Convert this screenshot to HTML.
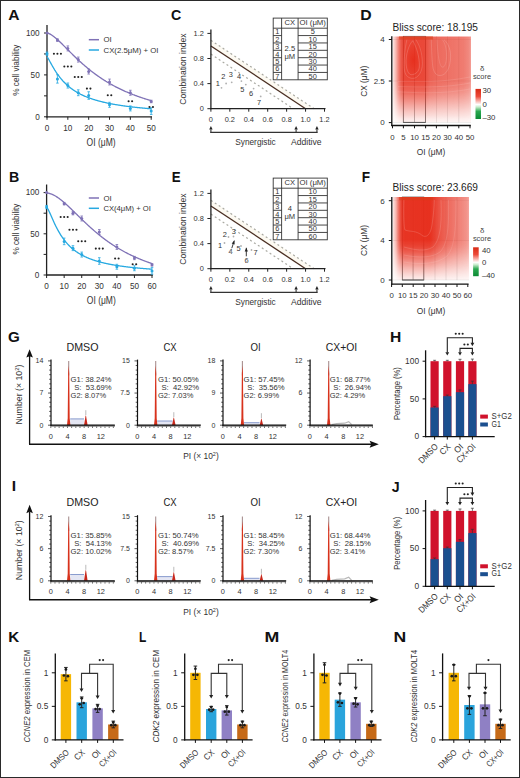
<!DOCTYPE html>
<html><head><meta charset="utf-8"><style>
html,body{margin:0;padding:0;background:#fff;}
svg{display:block;}
text{font-family:"Liberation Sans",sans-serif;}
</style></head><body>
<svg width="520" height="778" viewBox="0 0 520 778">
<rect x="0" y="0" width="520" height="778" fill="#fff"/>
<text x="8.21" y="19.80" font-size="14.2" text-anchor="start" font-weight="bold" fill="#111" textLength="11.28" lengthAdjust="spacingAndGlyphs">A</text>
<line x1="47.00" y1="25.00" x2="47.00" y2="117.40" stroke="#222" stroke-width="1.3"/>
<line x1="46.40" y1="116.80" x2="152.00" y2="116.80" stroke="#222" stroke-width="1.3"/>
<line x1="44.00" y1="116.80" x2="47.00" y2="116.80" stroke="#222" stroke-width="1"/>
<line x1="44.00" y1="95.85" x2="47.00" y2="95.85" stroke="#222" stroke-width="1"/>
<line x1="44.00" y1="74.90" x2="47.00" y2="74.90" stroke="#222" stroke-width="1"/>
<line x1="44.00" y1="53.95" x2="47.00" y2="53.95" stroke="#222" stroke-width="1"/>
<line x1="44.00" y1="33.00" x2="47.00" y2="33.00" stroke="#222" stroke-width="1"/>
<text x="39.70" y="119.65" font-size="8.2" text-anchor="end" fill="#333">0</text>
<text x="39.70" y="77.75" font-size="8.2" text-anchor="end" fill="#333">50</text>
<text x="39.70" y="35.85" font-size="8.2" text-anchor="end" fill="#333">100</text>
<line x1="47.00" y1="116.80" x2="47.00" y2="119.80" stroke="#222" stroke-width="1"/>
<text x="47.00" y="130.80" font-size="8.2" text-anchor="middle" fill="#333">0</text>
<line x1="67.84" y1="116.80" x2="67.84" y2="119.80" stroke="#222" stroke-width="1"/>
<text x="67.84" y="130.80" font-size="8.2" text-anchor="middle" fill="#333">10</text>
<line x1="88.68" y1="116.80" x2="88.68" y2="119.80" stroke="#222" stroke-width="1"/>
<text x="88.68" y="130.80" font-size="8.2" text-anchor="middle" fill="#333">20</text>
<line x1="109.52" y1="116.80" x2="109.52" y2="119.80" stroke="#222" stroke-width="1"/>
<text x="109.52" y="130.80" font-size="8.2" text-anchor="middle" fill="#333">30</text>
<line x1="130.36" y1="116.80" x2="130.36" y2="119.80" stroke="#222" stroke-width="1"/>
<text x="130.36" y="130.80" font-size="8.2" text-anchor="middle" fill="#333">40</text>
<line x1="151.20" y1="116.80" x2="151.20" y2="119.80" stroke="#222" stroke-width="1"/>
<text x="151.20" y="130.80" font-size="8.2" text-anchor="middle" fill="#333">50</text>
<text x="101.10" y="145.70" font-size="10" text-anchor="middle" fill="#333" textLength="29" lengthAdjust="spacingAndGlyphs">OI (μM)</text>
<text x="19.40" y="70.20" font-size="8.9" text-anchor="middle" fill="#333" textLength="51" lengthAdjust="spacingAndGlyphs" transform="rotate(-90 19.40 70.20)">% cell viability</text>
<polyline points="47.00,32.96 47.52,33.04 48.04,33.18 48.56,33.37 49.08,33.59 49.60,33.84 50.13,34.12 50.65,34.42 51.17,34.74 51.69,35.07 52.21,35.43 52.73,35.80 53.25,36.18 53.77,36.58 54.29,36.99 54.81,37.41 55.34,37.84 55.86,38.28 56.38,38.72 56.90,39.18 57.42,39.64 57.94,40.12 58.46,40.59 58.98,41.08 59.50,41.56 60.02,42.06 60.55,42.55 61.07,43.06 61.59,43.56 62.11,44.07 62.63,44.58 63.15,45.09 63.67,45.61 64.19,46.12 64.71,46.64 65.23,47.16 65.76,47.68 66.28,48.20 66.80,48.72 67.32,49.24 67.84,49.77 68.36,50.29 68.88,50.81 69.40,51.33 69.92,51.85 70.44,52.36 70.97,52.88 71.49,53.40 72.01,53.91 72.53,54.42 73.05,54.93 73.57,55.44 74.09,55.95 74.61,56.45 75.13,56.95 75.66,57.45 76.18,57.95 76.70,58.45 77.22,58.94 77.74,59.43 78.26,59.92 78.78,60.40 79.30,60.88 79.82,61.36 80.34,61.84 80.86,62.31 81.39,62.78 81.91,63.25 82.43,63.71 82.95,64.17 83.47,64.63 83.99,65.08 84.51,65.54 85.03,65.98 85.55,66.43 86.07,66.87 86.60,67.31 87.12,67.74 87.64,68.17 88.16,68.60 88.68,69.03 89.20,69.45 89.72,69.87 90.24,70.28 90.76,70.70 91.28,71.10 91.81,71.51 92.33,71.91 92.85,72.31 93.37,72.70 93.89,73.10 94.41,73.49 94.93,73.87 95.45,74.25 95.97,74.63 96.49,75.01 97.02,75.38 97.54,75.75 98.06,76.12 98.58,76.48 99.10,76.84 99.62,77.20 100.14,77.55 100.66,77.90 101.18,78.25 101.70,78.59 102.23,78.94 102.75,79.27 103.27,79.61 103.79,79.94 104.31,80.27 104.83,80.60 105.35,80.92 105.87,81.25 106.39,81.56 106.91,81.88 107.44,82.19 107.96,82.50 108.48,82.81 109.00,83.11 109.52,83.41 110.04,83.71 110.56,84.01 111.08,84.30 111.60,84.59 112.12,84.88 112.65,85.17 113.17,85.45 113.69,85.73 114.21,86.01 114.73,86.29 115.25,86.56 115.77,86.83 116.29,87.10 116.81,87.37 117.33,87.63 117.86,87.89 118.38,88.15 118.90,88.41 119.42,88.66 119.94,88.91 120.46,89.16 120.98,89.41 121.50,89.66 122.02,89.90 122.54,90.14 123.07,90.38 123.59,90.62 124.11,90.85 124.63,91.08 125.15,91.32 125.67,91.54 126.19,91.77 126.71,92.00 127.23,92.22 127.75,92.44 128.28,92.66 128.80,92.88 129.32,93.09 129.84,93.30 130.36,93.52 130.88,93.73 131.40,93.93 131.92,94.14 132.44,94.34 132.96,94.55 133.49,94.75 134.01,94.95 134.53,95.14 135.05,95.34 135.57,95.53 136.09,95.73 136.61,95.92 137.13,96.10 137.65,96.29 138.17,96.48 138.70,96.66 139.22,96.85 139.74,97.03 140.26,97.21 140.78,97.38 141.30,97.56 141.82,97.74 142.34,97.91 142.86,98.08 143.38,98.25 143.91,98.42 144.43,98.59 144.95,98.76 145.47,98.92 145.99,99.09 146.51,99.25 147.03,99.41 147.55,99.57 148.07,99.73 148.59,99.89 149.12,100.04 149.64,100.20 150.16,100.35 150.68,100.50 151.20,100.66" fill="none" stroke="#7f72b6" stroke-width="1.3"/>
<polyline points="47.00,56.74 47.52,57.39 48.04,58.22 48.56,59.11 49.08,60.04 49.60,60.98 50.13,61.94 50.65,62.89 51.17,63.84 51.69,64.78 52.21,65.70 52.73,66.61 53.25,67.51 53.77,68.39 54.29,69.25 54.81,70.10 55.34,70.92 55.86,71.73 56.38,72.52 56.90,73.29 57.42,74.04 57.94,74.77 58.46,75.49 58.98,76.19 59.50,76.87 60.02,77.53 60.55,78.18 61.07,78.81 61.59,79.43 62.11,80.03 62.63,80.61 63.15,81.19 63.67,81.74 64.19,82.29 64.71,82.82 65.23,83.33 65.76,83.84 66.28,84.33 66.80,84.81 67.32,85.28 67.84,85.74 68.36,86.18 68.88,86.62 69.40,87.04 69.92,87.46 70.44,87.87 70.97,88.26 71.49,88.65 72.01,89.03 72.53,89.40 73.05,89.77 73.57,90.12 74.09,90.47 74.61,90.81 75.13,91.14 75.66,91.46 76.18,91.78 76.70,92.09 77.22,92.40 77.74,92.69 78.26,92.99 78.78,93.27 79.30,93.55 79.82,93.83 80.34,94.09 80.86,94.36 81.39,94.62 81.91,94.87 82.43,95.12 82.95,95.36 83.47,95.60 83.99,95.83 84.51,96.06 85.03,96.29 85.55,96.51 86.07,96.73 86.60,96.94 87.12,97.15 87.64,97.35 88.16,97.56 88.68,97.75 89.20,97.95 89.72,98.14 90.24,98.33 90.76,98.51 91.28,98.69 91.81,98.87 92.33,99.04 92.85,99.22 93.37,99.38 93.89,99.55 94.41,99.71 94.93,99.87 95.45,100.03 95.97,100.19 96.49,100.34 97.02,100.49 97.54,100.64 98.06,100.79 98.58,100.93 99.10,101.07 99.62,101.21 100.14,101.35 100.66,101.48 101.18,101.61 101.70,101.74 102.23,101.87 102.75,102.00 103.27,102.12 103.79,102.25 104.31,102.37 104.83,102.49 105.35,102.60 105.87,102.72 106.39,102.83 106.91,102.95 107.44,103.06 107.96,103.17 108.48,103.28 109.00,103.38 109.52,103.49 110.04,103.59 110.56,103.69 111.08,103.79 111.60,103.89 112.12,103.99 112.65,104.09 113.17,104.18 113.69,104.28 114.21,104.37 114.73,104.46 115.25,104.55 115.77,104.64 116.29,104.73 116.81,104.81 117.33,104.90 117.86,104.98 118.38,105.07 118.90,105.15 119.42,105.23 119.94,105.31 120.46,105.39 120.98,105.47 121.50,105.55 122.02,105.63 122.54,105.70 123.07,105.78 123.59,105.85 124.11,105.92 124.63,105.99 125.15,106.07 125.67,106.14 126.19,106.21 126.71,106.28 127.23,106.34 127.75,106.41 128.28,106.48 128.80,106.54 129.32,106.61 129.84,106.67 130.36,106.74 130.88,106.80 131.40,106.86 131.92,106.92 132.44,106.98 132.96,107.04 133.49,107.10 134.01,107.16 134.53,107.22 135.05,107.28 135.57,107.33 136.09,107.39 136.61,107.44 137.13,107.50 137.65,107.55 138.17,107.61 138.70,107.66 139.22,107.71 139.74,107.77 140.26,107.82 140.78,107.87 141.30,107.92 141.82,107.97 142.34,108.02 142.86,108.07 143.38,108.12 143.91,108.17 144.43,108.21 144.95,108.26 145.47,108.31 145.99,108.35 146.51,108.40 147.03,108.45 147.55,108.49 148.07,108.54 148.59,108.58 149.12,108.62 149.64,108.67 150.16,108.71 150.68,108.75 151.20,108.79" fill="none" stroke="#27a9e1" stroke-width="1.3"/>
<circle cx="47.00" cy="33.00" r="1.5" fill="#7f72b6"/>
<line x1="57.42" y1="38.87" x2="57.42" y2="41.38" stroke="#7f72b6" stroke-width="0.8"/>
<line x1="56.12" y1="38.87" x2="58.72" y2="38.87" stroke="#7f72b6" stroke-width="0.8"/>
<line x1="56.12" y1="41.38" x2="58.72" y2="41.38" stroke="#7f72b6" stroke-width="0.8"/>
<circle cx="57.42" cy="40.12" r="1.5" fill="#7f72b6"/>
<line x1="67.84" y1="45.91" x2="67.84" y2="50.93" stroke="#7f72b6" stroke-width="0.8"/>
<line x1="66.54" y1="45.91" x2="69.14" y2="45.91" stroke="#7f72b6" stroke-width="0.8"/>
<line x1="66.54" y1="50.93" x2="69.14" y2="50.93" stroke="#7f72b6" stroke-width="0.8"/>
<circle cx="67.84" cy="48.42" r="1.5" fill="#7f72b6"/>
<line x1="78.26" y1="57.05" x2="78.26" y2="62.08" stroke="#7f72b6" stroke-width="0.8"/>
<line x1="76.96" y1="57.05" x2="79.56" y2="57.05" stroke="#7f72b6" stroke-width="0.8"/>
<line x1="76.96" y1="62.08" x2="79.56" y2="62.08" stroke="#7f72b6" stroke-width="0.8"/>
<circle cx="78.26" cy="59.56" r="1.5" fill="#7f72b6"/>
<line x1="88.68" y1="69.03" x2="88.68" y2="74.06" stroke="#7f72b6" stroke-width="0.8"/>
<line x1="87.38" y1="69.03" x2="89.98" y2="69.03" stroke="#7f72b6" stroke-width="0.8"/>
<line x1="87.38" y1="74.06" x2="89.98" y2="74.06" stroke="#7f72b6" stroke-width="0.8"/>
<circle cx="88.68" cy="71.55" r="1.5" fill="#7f72b6"/>
<line x1="109.52" y1="79.09" x2="109.52" y2="84.96" stroke="#7f72b6" stroke-width="0.8"/>
<line x1="108.22" y1="79.09" x2="110.82" y2="79.09" stroke="#7f72b6" stroke-width="0.8"/>
<line x1="108.22" y1="84.96" x2="110.82" y2="84.96" stroke="#7f72b6" stroke-width="0.8"/>
<circle cx="109.52" cy="82.02" r="1.5" fill="#7f72b6"/>
<line x1="130.36" y1="90.24" x2="130.36" y2="95.26" stroke="#7f72b6" stroke-width="0.8"/>
<line x1="129.06" y1="90.24" x2="131.66" y2="90.24" stroke="#7f72b6" stroke-width="0.8"/>
<line x1="129.06" y1="95.26" x2="131.66" y2="95.26" stroke="#7f72b6" stroke-width="0.8"/>
<circle cx="130.36" cy="92.75" r="1.5" fill="#7f72b6"/>
<line x1="151.20" y1="100.21" x2="151.20" y2="102.72" stroke="#7f72b6" stroke-width="0.8"/>
<line x1="149.90" y1="100.21" x2="152.50" y2="100.21" stroke="#7f72b6" stroke-width="0.8"/>
<line x1="149.90" y1="102.72" x2="152.50" y2="102.72" stroke="#7f72b6" stroke-width="0.8"/>
<circle cx="151.20" cy="101.46" r="1.5" fill="#7f72b6"/>
<line x1="47.00" y1="52.02" x2="47.00" y2="55.37" stroke="#27a9e1" stroke-width="0.8"/>
<line x1="45.70" y1="52.02" x2="48.30" y2="52.02" stroke="#27a9e1" stroke-width="0.8"/>
<line x1="45.70" y1="55.37" x2="48.30" y2="55.37" stroke="#27a9e1" stroke-width="0.8"/>
<circle cx="47.00" cy="53.70" r="1.5" fill="#27a9e1"/>
<line x1="57.42" y1="74.73" x2="57.42" y2="83.11" stroke="#27a9e1" stroke-width="0.8"/>
<line x1="56.12" y1="74.73" x2="58.72" y2="74.73" stroke="#27a9e1" stroke-width="0.8"/>
<line x1="56.12" y1="83.11" x2="58.72" y2="83.11" stroke="#27a9e1" stroke-width="0.8"/>
<circle cx="57.42" cy="78.92" r="1.5" fill="#27a9e1"/>
<line x1="67.84" y1="83.03" x2="67.84" y2="88.06" stroke="#27a9e1" stroke-width="0.8"/>
<line x1="66.54" y1="83.03" x2="69.14" y2="83.03" stroke="#27a9e1" stroke-width="0.8"/>
<line x1="66.54" y1="88.06" x2="69.14" y2="88.06" stroke="#27a9e1" stroke-width="0.8"/>
<circle cx="67.84" cy="85.54" r="1.5" fill="#27a9e1"/>
<line x1="78.26" y1="89.82" x2="78.26" y2="95.68" stroke="#27a9e1" stroke-width="0.8"/>
<line x1="76.96" y1="89.82" x2="79.56" y2="89.82" stroke="#27a9e1" stroke-width="0.8"/>
<line x1="76.96" y1="95.68" x2="79.56" y2="95.68" stroke="#27a9e1" stroke-width="0.8"/>
<circle cx="78.26" cy="92.75" r="1.5" fill="#27a9e1"/>
<line x1="88.68" y1="91.74" x2="88.68" y2="99.29" stroke="#27a9e1" stroke-width="0.8"/>
<line x1="87.38" y1="91.74" x2="89.98" y2="91.74" stroke="#27a9e1" stroke-width="0.8"/>
<line x1="87.38" y1="99.29" x2="89.98" y2="99.29" stroke="#27a9e1" stroke-width="0.8"/>
<circle cx="88.68" cy="95.51" r="1.5" fill="#27a9e1"/>
<line x1="109.52" y1="102.30" x2="109.52" y2="107.33" stroke="#27a9e1" stroke-width="0.8"/>
<line x1="108.22" y1="102.30" x2="110.82" y2="102.30" stroke="#27a9e1" stroke-width="0.8"/>
<line x1="108.22" y1="107.33" x2="110.82" y2="107.33" stroke="#27a9e1" stroke-width="0.8"/>
<circle cx="109.52" cy="104.82" r="1.5" fill="#27a9e1"/>
<line x1="130.36" y1="105.91" x2="130.36" y2="110.93" stroke="#27a9e1" stroke-width="0.8"/>
<line x1="129.06" y1="105.91" x2="131.66" y2="105.91" stroke="#27a9e1" stroke-width="0.8"/>
<line x1="129.06" y1="110.93" x2="131.66" y2="110.93" stroke="#27a9e1" stroke-width="0.8"/>
<circle cx="130.36" cy="108.42" r="1.5" fill="#27a9e1"/>
<line x1="151.20" y1="107.75" x2="151.20" y2="114.45" stroke="#27a9e1" stroke-width="0.8"/>
<line x1="149.90" y1="107.75" x2="152.50" y2="107.75" stroke="#27a9e1" stroke-width="0.8"/>
<line x1="149.90" y1="114.45" x2="152.50" y2="114.45" stroke="#27a9e1" stroke-width="0.8"/>
<circle cx="151.20" cy="111.10" r="1.5" fill="#27a9e1"/>
<circle cx="53.92" cy="53.80" r="1.05" fill="#222"/>
<circle cx="57.42" cy="53.80" r="1.05" fill="#222"/>
<circle cx="60.92" cy="53.80" r="1.05" fill="#222"/>
<circle cx="64.34" cy="66.50" r="1.05" fill="#222"/>
<circle cx="67.84" cy="66.50" r="1.05" fill="#222"/>
<circle cx="71.34" cy="66.50" r="1.05" fill="#222"/>
<circle cx="74.76" cy="77.00" r="1.05" fill="#222"/>
<circle cx="78.26" cy="77.00" r="1.05" fill="#222"/>
<circle cx="81.76" cy="77.00" r="1.05" fill="#222"/>
<circle cx="86.93" cy="88.60" r="1.05" fill="#222"/>
<circle cx="90.43" cy="88.60" r="1.05" fill="#222"/>
<circle cx="107.77" cy="95.30" r="1.05" fill="#222"/>
<circle cx="111.27" cy="95.30" r="1.05" fill="#222"/>
<circle cx="128.61" cy="101.30" r="1.05" fill="#222"/>
<circle cx="132.11" cy="101.30" r="1.05" fill="#222"/>
<circle cx="149.45" cy="107.00" r="1.05" fill="#222"/>
<circle cx="152.95" cy="107.00" r="1.05" fill="#222"/>
<line x1="88.80" y1="39.70" x2="99.00" y2="39.70" stroke="#7f72b6" stroke-width="1.5"/>
<line x1="88.80" y1="50.00" x2="99.00" y2="50.00" stroke="#27a9e1" stroke-width="1.5"/>
<text x="103.50" y="42.40" font-size="7.8" text-anchor="start" fill="#333">OI</text>
<text x="103.50" y="52.70" font-size="7.8" text-anchor="start" fill="#333" textLength="55" lengthAdjust="spacingAndGlyphs">CX(2.5μM) + OI</text>
<text x="9.06" y="181.90" font-size="14.2" text-anchor="start" font-weight="bold" fill="#111" textLength="10.25" lengthAdjust="spacingAndGlyphs">B</text>
<line x1="46.60" y1="184.50" x2="46.60" y2="275.60" stroke="#222" stroke-width="1.3"/>
<line x1="46.00" y1="275.00" x2="152.80" y2="275.00" stroke="#222" stroke-width="1.3"/>
<line x1="43.60" y1="275.00" x2="46.60" y2="275.00" stroke="#222" stroke-width="1"/>
<line x1="43.60" y1="254.40" x2="46.60" y2="254.40" stroke="#222" stroke-width="1"/>
<line x1="43.60" y1="233.80" x2="46.60" y2="233.80" stroke="#222" stroke-width="1"/>
<line x1="43.60" y1="213.20" x2="46.60" y2="213.20" stroke="#222" stroke-width="1"/>
<line x1="43.60" y1="192.60" x2="46.60" y2="192.60" stroke="#222" stroke-width="1"/>
<text x="39.30" y="277.85" font-size="8.2" text-anchor="end" fill="#333">0</text>
<text x="39.30" y="236.65" font-size="8.2" text-anchor="end" fill="#333">50</text>
<text x="39.30" y="195.45" font-size="8.2" text-anchor="end" fill="#333">100</text>
<line x1="46.60" y1="275.00" x2="46.60" y2="278.00" stroke="#222" stroke-width="1"/>
<text x="46.60" y="289.00" font-size="8.2" text-anchor="middle" fill="#333">0</text>
<line x1="64.17" y1="275.00" x2="64.17" y2="278.00" stroke="#222" stroke-width="1"/>
<text x="64.17" y="289.00" font-size="8.2" text-anchor="middle" fill="#333">10</text>
<line x1="81.73" y1="275.00" x2="81.73" y2="278.00" stroke="#222" stroke-width="1"/>
<text x="81.73" y="289.00" font-size="8.2" text-anchor="middle" fill="#333">20</text>
<line x1="99.30" y1="275.00" x2="99.30" y2="278.00" stroke="#222" stroke-width="1"/>
<text x="99.30" y="289.00" font-size="8.2" text-anchor="middle" fill="#333">30</text>
<line x1="116.87" y1="275.00" x2="116.87" y2="278.00" stroke="#222" stroke-width="1"/>
<text x="116.87" y="289.00" font-size="8.2" text-anchor="middle" fill="#333">40</text>
<line x1="134.43" y1="275.00" x2="134.43" y2="278.00" stroke="#222" stroke-width="1"/>
<text x="134.43" y="289.00" font-size="8.2" text-anchor="middle" fill="#333">50</text>
<line x1="152.00" y1="275.00" x2="152.00" y2="278.00" stroke="#222" stroke-width="1"/>
<text x="152.00" y="289.00" font-size="8.2" text-anchor="middle" fill="#333">60</text>
<text x="101.30" y="304.40" font-size="10" text-anchor="middle" fill="#333" textLength="29" lengthAdjust="spacingAndGlyphs">OI (μM)</text>
<text x="19.40" y="229.10" font-size="8.9" text-anchor="middle" fill="#333" textLength="51" lengthAdjust="spacingAndGlyphs" transform="rotate(-90 19.40 229.10)">% cell viability</text>
<polyline points="46.60,193.01 47.04,193.03 47.48,193.07 47.92,193.12 48.36,193.19 48.80,193.28 49.23,193.38 49.67,193.50 50.11,193.62 50.55,193.76 50.99,193.92 51.43,194.08 51.87,194.26 52.31,194.44 52.75,194.64 53.19,194.84 53.63,195.06 54.07,195.29 54.51,195.52 54.94,195.77 55.38,196.02 55.82,196.28 56.26,196.55 56.70,196.83 57.14,197.11 57.58,197.41 58.02,197.71 58.46,198.01 58.90,198.33 59.34,198.65 59.78,198.97 60.21,199.31 60.65,199.64 61.09,199.99 61.53,200.34 61.97,200.69 62.41,201.05 62.85,201.42 63.29,201.78 63.73,202.16 64.17,202.54 64.61,202.92 65.05,203.30 65.48,203.69 65.92,204.08 66.36,204.48 66.80,204.88 67.24,205.28 67.68,205.69 68.12,206.09 68.56,206.50 69.00,206.91 69.44,207.33 69.88,207.74 70.31,208.16 70.75,208.58 71.19,209.00 71.63,209.43 72.07,209.85 72.51,210.28 72.95,210.70 73.39,211.13 73.83,211.56 74.27,211.99 74.71,212.42 75.15,212.85 75.59,213.28 76.02,213.71 76.46,214.14 76.90,214.57 77.34,215.00 77.78,215.43 78.22,215.86 78.66,216.29 79.10,216.72 79.54,217.15 79.98,217.58 80.42,218.01 80.86,218.43 81.29,218.86 81.73,219.28 82.17,219.71 82.61,220.13 83.05,220.55 83.49,220.98 83.93,221.40 84.37,221.81 84.81,222.23 85.25,222.65 85.69,223.06 86.12,223.48 86.56,223.89 87.00,224.30 87.44,224.71 87.88,225.11 88.32,225.52 88.76,225.92 89.20,226.33 89.64,226.73 90.08,227.12 90.52,227.52 90.96,227.92 91.40,228.31 91.83,228.70 92.27,229.09 92.71,229.48 93.15,229.86 93.59,230.24 94.03,230.62 94.47,231.00 94.91,231.38 95.35,231.75 95.79,232.13 96.23,232.50 96.67,232.87 97.10,233.23 97.54,233.60 97.98,233.96 98.42,234.32 98.86,234.68 99.30,235.03 99.74,235.38 100.18,235.74 100.62,236.08 101.06,236.43 101.50,236.77 101.94,237.12 102.37,237.46 102.81,237.79 103.25,238.13 103.69,238.46 104.13,238.79 104.57,239.12 105.01,239.45 105.45,239.78 105.89,240.10 106.33,240.42 106.77,240.74 107.21,241.05 107.64,241.36 108.08,241.68 108.52,241.99 108.96,242.29 109.40,242.60 109.84,242.90 110.28,243.20 110.72,243.50 111.16,243.80 111.60,244.09 112.04,244.38 112.47,244.67 112.91,244.96 113.35,245.25 113.79,245.53 114.23,245.81 114.67,246.09 115.11,246.37 115.55,246.64 115.99,246.92 116.43,247.19 116.87,247.46 117.31,247.73 117.75,247.99 118.18,248.26 118.62,248.52 119.06,248.78 119.50,249.03 119.94,249.29 120.38,249.54 120.82,249.80 121.26,250.05 121.70,250.29 122.14,250.54 122.58,250.78 123.02,251.03 123.45,251.27 123.89,251.51 124.33,251.74 124.77,251.98 125.21,252.21 125.65,252.45 126.09,252.68 126.53,252.90 126.97,253.13 127.41,253.36 127.85,253.58 128.28,253.80 128.72,254.02 129.16,254.24 129.60,254.46 130.04,254.67 130.48,254.88 130.92,255.10 131.36,255.31 131.80,255.51 132.24,255.72 132.68,255.93 133.12,256.13 133.56,256.33 133.99,256.53 134.43,256.73 134.87,256.93 135.31,257.13 135.75,257.32 136.19,257.51 136.63,257.71 137.07,257.90 137.51,258.09 137.95,258.27 138.39,258.46 138.82,258.64 139.26,258.83 139.70,259.01 140.14,259.19 140.58,259.37 141.02,259.55 141.46,259.72 141.90,259.90 142.34,260.07 142.78,260.24 143.22,260.42 143.66,260.58 144.10,260.75 144.53,260.92 144.97,261.09 145.41,261.25 145.85,261.42 146.29,261.58 146.73,261.74 147.17,261.90 147.61,262.06 148.05,262.22 148.49,262.37 148.93,262.53 149.37,262.68 149.80,262.84 150.24,262.99 150.68,263.14 151.12,263.29 151.56,263.44 152.00,263.58" fill="none" stroke="#7f72b6" stroke-width="1.3"/>
<polyline points="46.60,207.17 47.04,207.59 47.48,208.24 47.92,209.00 48.36,209.84 48.80,210.73 49.23,211.67 49.67,212.63 50.11,213.61 50.55,214.60 50.99,215.61 51.43,216.61 51.87,217.61 52.31,218.61 52.75,219.60 53.19,220.58 53.63,221.54 54.07,222.50 54.51,223.44 54.94,224.36 55.38,225.27 55.82,226.17 56.26,227.04 56.70,227.90 57.14,228.74 57.58,229.57 58.02,230.37 58.46,231.16 58.90,231.93 59.34,232.69 59.78,233.42 60.21,234.14 60.65,234.85 61.09,235.53 61.53,236.20 61.97,236.86 62.41,237.50 62.85,238.13 63.29,238.74 63.73,239.33 64.17,239.91 64.61,240.48 65.05,241.04 65.48,241.58 65.92,242.11 66.36,242.62 66.80,243.13 67.24,243.62 67.68,244.10 68.12,244.57 68.56,245.03 69.00,245.48 69.44,245.92 69.88,246.35 70.31,246.77 70.75,247.18 71.19,247.58 71.63,247.97 72.07,248.36 72.51,248.73 72.95,249.10 73.39,249.45 73.83,249.81 74.27,250.15 74.71,250.48 75.15,250.81 75.59,251.13 76.02,251.45 76.46,251.76 76.90,252.06 77.34,252.36 77.78,252.65 78.22,252.93 78.66,253.21 79.10,253.48 79.54,253.75 79.98,254.01 80.42,254.26 80.86,254.52 81.29,254.76 81.73,255.00 82.17,255.24 82.61,255.47 83.05,255.70 83.49,255.93 83.93,256.14 84.37,256.36 84.81,256.57 85.25,256.78 85.69,256.98 86.12,257.18 86.56,257.38 87.00,257.57 87.44,257.76 87.88,257.95 88.32,258.13 88.76,258.31 89.20,258.49 89.64,258.66 90.08,258.83 90.52,259.00 90.96,259.16 91.40,259.32 91.83,259.48 92.27,259.64 92.71,259.79 93.15,259.95 93.59,260.09 94.03,260.24 94.47,260.38 94.91,260.53 95.35,260.67 95.79,260.80 96.23,260.94 96.67,261.07 97.10,261.20 97.54,261.33 97.98,261.46 98.42,261.58 98.86,261.70 99.30,261.83 99.74,261.95 100.18,262.06 100.62,262.18 101.06,262.29 101.50,262.40 101.94,262.52 102.37,262.62 102.81,262.73 103.25,262.84 103.69,262.94 104.13,263.04 104.57,263.15 105.01,263.25 105.45,263.34 105.89,263.44 106.33,263.54 106.77,263.63 107.21,263.72 107.64,263.82 108.08,263.91 108.52,264.00 108.96,264.08 109.40,264.17 109.84,264.26 110.28,264.34 110.72,264.43 111.16,264.51 111.60,264.59 112.04,264.67 112.47,264.75 112.91,264.83 113.35,264.91 113.79,264.98 114.23,265.06 114.67,265.13 115.11,265.20 115.55,265.28 115.99,265.35 116.43,265.42 116.87,265.49 117.31,265.56 117.75,265.63 118.18,265.69 118.62,265.76 119.06,265.83 119.50,265.89 119.94,265.95 120.38,266.02 120.82,266.08 121.26,266.14 121.70,266.20 122.14,266.26 122.58,266.32 123.02,266.38 123.45,266.44 123.89,266.50 124.33,266.56 124.77,266.61 125.21,266.67 125.65,266.72 126.09,266.78 126.53,266.83 126.97,266.89 127.41,266.94 127.85,266.99 128.28,267.04 128.72,267.09 129.16,267.14 129.60,267.19 130.04,267.24 130.48,267.29 130.92,267.34 131.36,267.39 131.80,267.43 132.24,267.48 132.68,267.53 133.12,267.57 133.56,267.62 133.99,267.66 134.43,267.71 134.87,267.75 135.31,267.80 135.75,267.84 136.19,267.88 136.63,267.92 137.07,267.97 137.51,268.01 137.95,268.05 138.39,268.09 138.82,268.13 139.26,268.17 139.70,268.21 140.14,268.25 140.58,268.28 141.02,268.32 141.46,268.36 141.90,268.40 142.34,268.44 142.78,268.47 143.22,268.51 143.66,268.54 144.10,268.58 144.53,268.62 144.97,268.65 145.41,268.69 145.85,268.72 146.29,268.75 146.73,268.79 147.17,268.82 147.61,268.85 148.05,268.89 148.49,268.92 148.93,268.95 149.37,268.98 149.80,269.02 150.24,269.05 150.68,269.08 151.12,269.11 151.56,269.14 152.00,269.17" fill="none" stroke="#27a9e1" stroke-width="1.3"/>
<circle cx="46.60" cy="192.60" r="1.5" fill="#7f72b6"/>
<line x1="64.17" y1="202.41" x2="64.17" y2="204.88" stroke="#7f72b6" stroke-width="0.8"/>
<line x1="62.87" y1="202.41" x2="65.47" y2="202.41" stroke="#7f72b6" stroke-width="0.8"/>
<line x1="62.87" y1="204.88" x2="65.47" y2="204.88" stroke="#7f72b6" stroke-width="0.8"/>
<circle cx="64.17" cy="203.64" r="1.5" fill="#7f72b6"/>
<line x1="72.95" y1="211.55" x2="72.95" y2="214.85" stroke="#7f72b6" stroke-width="0.8"/>
<line x1="71.65" y1="211.55" x2="74.25" y2="211.55" stroke="#7f72b6" stroke-width="0.8"/>
<line x1="71.65" y1="214.85" x2="74.25" y2="214.85" stroke="#7f72b6" stroke-width="0.8"/>
<circle cx="72.95" cy="213.20" r="1.5" fill="#7f72b6"/>
<line x1="81.73" y1="216.00" x2="81.73" y2="220.95" stroke="#7f72b6" stroke-width="0.8"/>
<line x1="80.43" y1="216.00" x2="83.03" y2="216.00" stroke="#7f72b6" stroke-width="0.8"/>
<line x1="80.43" y1="220.95" x2="83.03" y2="220.95" stroke="#7f72b6" stroke-width="0.8"/>
<circle cx="81.73" cy="218.47" r="1.5" fill="#7f72b6"/>
<line x1="99.30" y1="229.52" x2="99.30" y2="234.46" stroke="#7f72b6" stroke-width="0.8"/>
<line x1="98.00" y1="229.52" x2="100.60" y2="229.52" stroke="#7f72b6" stroke-width="0.8"/>
<line x1="98.00" y1="234.46" x2="100.60" y2="234.46" stroke="#7f72b6" stroke-width="0.8"/>
<circle cx="99.30" cy="231.99" r="1.5" fill="#7f72b6"/>
<line x1="116.87" y1="244.51" x2="116.87" y2="249.46" stroke="#7f72b6" stroke-width="0.8"/>
<line x1="115.57" y1="244.51" x2="118.17" y2="244.51" stroke="#7f72b6" stroke-width="0.8"/>
<line x1="115.57" y1="249.46" x2="118.17" y2="249.46" stroke="#7f72b6" stroke-width="0.8"/>
<circle cx="116.87" cy="246.98" r="1.5" fill="#7f72b6"/>
<line x1="134.43" y1="256.38" x2="134.43" y2="259.67" stroke="#7f72b6" stroke-width="0.8"/>
<line x1="133.13" y1="256.38" x2="135.73" y2="256.38" stroke="#7f72b6" stroke-width="0.8"/>
<line x1="133.13" y1="259.67" x2="135.73" y2="259.67" stroke="#7f72b6" stroke-width="0.8"/>
<circle cx="134.43" cy="258.03" r="1.5" fill="#7f72b6"/>
<line x1="152.00" y1="263.63" x2="152.00" y2="266.10" stroke="#7f72b6" stroke-width="0.8"/>
<line x1="150.70" y1="263.63" x2="153.30" y2="263.63" stroke="#7f72b6" stroke-width="0.8"/>
<line x1="150.70" y1="266.10" x2="153.30" y2="266.10" stroke="#7f72b6" stroke-width="0.8"/>
<circle cx="152.00" cy="264.86" r="1.5" fill="#7f72b6"/>
<line x1="46.60" y1="205.45" x2="46.60" y2="208.75" stroke="#27a9e1" stroke-width="0.8"/>
<line x1="45.30" y1="205.45" x2="47.90" y2="205.45" stroke="#27a9e1" stroke-width="0.8"/>
<line x1="45.30" y1="208.75" x2="47.90" y2="208.75" stroke="#27a9e1" stroke-width="0.8"/>
<circle cx="46.60" cy="207.10" r="1.5" fill="#27a9e1"/>
<line x1="64.17" y1="238.08" x2="64.17" y2="244.68" stroke="#27a9e1" stroke-width="0.8"/>
<line x1="62.87" y1="238.08" x2="65.47" y2="238.08" stroke="#27a9e1" stroke-width="0.8"/>
<line x1="62.87" y1="244.68" x2="65.47" y2="244.68" stroke="#27a9e1" stroke-width="0.8"/>
<circle cx="64.17" cy="241.38" r="1.5" fill="#27a9e1"/>
<line x1="72.95" y1="245.67" x2="72.95" y2="250.61" stroke="#27a9e1" stroke-width="0.8"/>
<line x1="71.65" y1="245.67" x2="74.25" y2="245.67" stroke="#27a9e1" stroke-width="0.8"/>
<line x1="71.65" y1="250.61" x2="74.25" y2="250.61" stroke="#27a9e1" stroke-width="0.8"/>
<circle cx="72.95" cy="248.14" r="1.5" fill="#27a9e1"/>
<line x1="81.73" y1="252.09" x2="81.73" y2="257.04" stroke="#27a9e1" stroke-width="0.8"/>
<line x1="80.43" y1="252.09" x2="83.03" y2="252.09" stroke="#27a9e1" stroke-width="0.8"/>
<line x1="80.43" y1="257.04" x2="83.03" y2="257.04" stroke="#27a9e1" stroke-width="0.8"/>
<circle cx="81.73" cy="254.56" r="1.5" fill="#27a9e1"/>
<line x1="99.30" y1="257.70" x2="99.30" y2="264.29" stroke="#27a9e1" stroke-width="0.8"/>
<line x1="98.00" y1="257.70" x2="100.60" y2="257.70" stroke="#27a9e1" stroke-width="0.8"/>
<line x1="98.00" y1="264.29" x2="100.60" y2="264.29" stroke="#27a9e1" stroke-width="0.8"/>
<circle cx="99.30" cy="260.99" r="1.5" fill="#27a9e1"/>
<line x1="116.87" y1="264.29" x2="116.87" y2="269.23" stroke="#27a9e1" stroke-width="0.8"/>
<line x1="115.57" y1="264.29" x2="118.17" y2="264.29" stroke="#27a9e1" stroke-width="0.8"/>
<line x1="115.57" y1="269.23" x2="118.17" y2="269.23" stroke="#27a9e1" stroke-width="0.8"/>
<circle cx="116.87" cy="266.76" r="1.5" fill="#27a9e1"/>
<line x1="134.43" y1="265.77" x2="134.43" y2="270.72" stroke="#27a9e1" stroke-width="0.8"/>
<line x1="133.13" y1="265.77" x2="135.73" y2="265.77" stroke="#27a9e1" stroke-width="0.8"/>
<line x1="133.13" y1="270.72" x2="135.73" y2="270.72" stroke="#27a9e1" stroke-width="0.8"/>
<circle cx="134.43" cy="268.24" r="1.5" fill="#27a9e1"/>
<line x1="152.00" y1="267.58" x2="152.00" y2="274.18" stroke="#27a9e1" stroke-width="0.8"/>
<line x1="150.70" y1="267.58" x2="153.30" y2="267.58" stroke="#27a9e1" stroke-width="0.8"/>
<line x1="150.70" y1="274.18" x2="153.30" y2="274.18" stroke="#27a9e1" stroke-width="0.8"/>
<circle cx="152.00" cy="270.88" r="1.5" fill="#27a9e1"/>
<circle cx="60.67" cy="217.00" r="1.05" fill="#222"/>
<circle cx="64.17" cy="217.00" r="1.05" fill="#222"/>
<circle cx="67.67" cy="217.00" r="1.05" fill="#222"/>
<circle cx="69.45" cy="229.70" r="1.05" fill="#222"/>
<circle cx="72.95" cy="229.70" r="1.05" fill="#222"/>
<circle cx="76.45" cy="229.70" r="1.05" fill="#222"/>
<circle cx="78.23" cy="241.20" r="1.05" fill="#222"/>
<circle cx="81.73" cy="241.20" r="1.05" fill="#222"/>
<circle cx="85.23" cy="241.20" r="1.05" fill="#222"/>
<circle cx="95.80" cy="248.60" r="1.05" fill="#222"/>
<circle cx="99.30" cy="248.60" r="1.05" fill="#222"/>
<circle cx="102.80" cy="248.60" r="1.05" fill="#222"/>
<circle cx="115.12" cy="258.50" r="1.05" fill="#222"/>
<circle cx="118.62" cy="258.50" r="1.05" fill="#222"/>
<circle cx="132.68" cy="264.30" r="1.05" fill="#222"/>
<circle cx="136.18" cy="264.30" r="1.05" fill="#222"/>
<line x1="88.80" y1="198.00" x2="99.00" y2="198.00" stroke="#7f72b6" stroke-width="1.5"/>
<line x1="88.80" y1="208.30" x2="99.00" y2="208.30" stroke="#27a9e1" stroke-width="1.5"/>
<text x="103.50" y="200.70" font-size="7.8" text-anchor="start" fill="#333">OI</text>
<text x="103.50" y="211.00" font-size="7.8" text-anchor="start" fill="#333" textLength="47.3" lengthAdjust="spacingAndGlyphs">CX(4μM) + OI</text>
<text x="170.92" y="20.20" font-size="14.2" text-anchor="start" font-weight="bold" fill="#111" textLength="10.25" lengthAdjust="spacingAndGlyphs">C</text>
<polygon points="210.90,45.95 210.90,40.30 314.09,108.70 305.57,108.70" fill="#fdfaf2" stroke="none" stroke-width="1"/>
<line x1="210.90" y1="40.30" x2="314.09" y2="108.70" stroke="#a9a9a2" stroke-width="1.2" stroke-dasharray="2,2.7"/>
<line x1="210.90" y1="54.11" x2="293.26" y2="108.70" stroke="#a9a9a2" stroke-width="1.2" stroke-dasharray="2,2.7"/>
<line x1="210.90" y1="45.95" x2="305.57" y2="108.70" stroke="#4a2e22" stroke-width="1.3"/>
<line x1="210.90" y1="29.50" x2="210.90" y2="109.30" stroke="#222" stroke-width="1.3"/>
<line x1="210.30" y1="108.70" x2="325.50" y2="108.70" stroke="#222" stroke-width="1.3"/>
<line x1="207.40" y1="108.70" x2="210.90" y2="108.70" stroke="#222" stroke-width="1"/>
<text x="203.90" y="111.30" font-size="7.4" text-anchor="end" fill="#333">0</text>
<line x1="207.40" y1="83.60" x2="210.90" y2="83.60" stroke="#222" stroke-width="1"/>
<text x="203.90" y="86.20" font-size="7.4" text-anchor="end" fill="#333">0.4</text>
<line x1="207.40" y1="58.50" x2="210.90" y2="58.50" stroke="#222" stroke-width="1"/>
<text x="203.90" y="61.10" font-size="7.4" text-anchor="end" fill="#333">0.8</text>
<line x1="207.40" y1="33.40" x2="210.90" y2="33.40" stroke="#222" stroke-width="1"/>
<text x="203.90" y="36.00" font-size="7.4" text-anchor="end" fill="#333">1.2</text>
<line x1="210.90" y1="108.70" x2="210.90" y2="111.70" stroke="#222" stroke-width="1"/>
<text x="210.90" y="122.30" font-size="7.4" text-anchor="middle" fill="#333">0</text>
<line x1="229.83" y1="108.70" x2="229.83" y2="111.70" stroke="#222" stroke-width="1"/>
<text x="229.83" y="122.30" font-size="7.4" text-anchor="middle" fill="#333">0.2</text>
<line x1="248.77" y1="108.70" x2="248.77" y2="111.70" stroke="#222" stroke-width="1"/>
<text x="248.77" y="122.30" font-size="7.4" text-anchor="middle" fill="#333">0.4</text>
<line x1="267.70" y1="108.70" x2="267.70" y2="111.70" stroke="#222" stroke-width="1"/>
<text x="267.70" y="122.30" font-size="7.4" text-anchor="middle" fill="#333">0.6</text>
<line x1="286.63" y1="108.70" x2="286.63" y2="111.70" stroke="#222" stroke-width="1"/>
<text x="286.63" y="122.30" font-size="7.4" text-anchor="middle" fill="#333">0.8</text>
<line x1="305.57" y1="108.70" x2="305.57" y2="111.70" stroke="#222" stroke-width="1"/>
<text x="305.57" y="122.30" font-size="7.4" text-anchor="middle" fill="#333">1.0</text>
<line x1="324.50" y1="108.70" x2="324.50" y2="111.70" stroke="#222" stroke-width="1"/>
<text x="324.50" y="122.30" font-size="7.4" text-anchor="middle" fill="#333">1.2</text>
<text x="186.40" y="69.10" font-size="8.2" text-anchor="middle" fill="#333" textLength="71.4" lengthAdjust="spacingAndGlyphs" transform="rotate(-90 186.40 69.10)">Combination index</text>
<line x1="210.40" y1="132.40" x2="317.43" y2="132.40" stroke="#333" stroke-width="1.2"/>
<line x1="210.90" y1="132.90" x2="210.90" y2="129.40" stroke="#333" stroke-width="1.1"/>
<polygon points="210.90,125.90 209.20,129.60 212.60,129.60" fill="#222" stroke="none" stroke-width="1"/>
<line x1="296.10" y1="132.90" x2="296.10" y2="129.40" stroke="#333" stroke-width="1.1"/>
<polygon points="296.10,125.90 294.40,129.60 297.80,129.60" fill="#222" stroke="none" stroke-width="1"/>
<line x1="316.93" y1="132.90" x2="316.93" y2="129.40" stroke="#333" stroke-width="1.1"/>
<polygon points="316.93,125.90 315.23,129.60 318.63,129.60" fill="#222" stroke="none" stroke-width="1"/>
<text x="255.50" y="145.20" font-size="9.3" text-anchor="middle" fill="#333" textLength="40.5" lengthAdjust="spacingAndGlyphs">Synergistic</text>
<text x="306.30" y="145.20" font-size="9.3" text-anchor="middle" fill="#333" textLength="30.5" lengthAdjust="spacingAndGlyphs">Additive</text>
<text x="217.80" y="86.10" font-size="7.4" text-anchor="middle" fill="#333">1</text>
<circle cx="221.50" cy="87.80" r="0.9" fill="#b0b0b0"/>
<text x="223.30" y="78.90" font-size="7.4" text-anchor="middle" fill="#333">2</text>
<circle cx="226.10" cy="83.50" r="0.9" fill="#b0b0b0"/>
<text x="230.80" y="77.10" font-size="7.4" text-anchor="middle" fill="#333">3</text>
<circle cx="231.70" cy="82.30" r="0.9" fill="#b0b0b0"/>
<text x="239.10" y="78.90" font-size="7.4" text-anchor="middle" fill="#333">4</text>
<circle cx="241.40" cy="81.10" r="0.9" fill="#b0b0b0"/>
<text x="242.30" y="91.80" font-size="7.4" text-anchor="middle" fill="#333">5</text>
<circle cx="245.80" cy="84.60" r="0.9" fill="#b0b0b0"/>
<text x="251.00" y="96.20" font-size="7.4" text-anchor="middle" fill="#333">6</text>
<circle cx="253.60" cy="88.60" r="0.9" fill="#b0b0b0"/>
<text x="259.00" y="104.50" font-size="7.4" text-anchor="middle" fill="#333">7</text>
<circle cx="260.70" cy="96.40" r="0.9" fill="#b0b0b0"/>
<rect x="273.2" y="18.10" width="54.10" height="61.70" fill="none" stroke="#333" stroke-width="0.9"/>
<line x1="281.60" y1="18.10" x2="281.60" y2="79.80" stroke="#333" stroke-width="0.9"/>
<line x1="298.10" y1="18.10" x2="298.10" y2="79.80" stroke="#333" stroke-width="0.9"/>
<line x1="273.20" y1="28.20" x2="327.30" y2="28.20" stroke="#333" stroke-width="0.9"/>
<line x1="273.20" y1="35.57" x2="281.60" y2="35.57" stroke="#333" stroke-width="0.9"/>
<line x1="298.10" y1="35.57" x2="327.30" y2="35.57" stroke="#333" stroke-width="0.9"/>
<line x1="273.20" y1="42.94" x2="281.60" y2="42.94" stroke="#333" stroke-width="0.9"/>
<line x1="298.10" y1="42.94" x2="327.30" y2="42.94" stroke="#333" stroke-width="0.9"/>
<line x1="273.20" y1="50.31" x2="281.60" y2="50.31" stroke="#333" stroke-width="0.9"/>
<line x1="298.10" y1="50.31" x2="327.30" y2="50.31" stroke="#333" stroke-width="0.9"/>
<line x1="273.20" y1="57.69" x2="281.60" y2="57.69" stroke="#333" stroke-width="0.9"/>
<line x1="298.10" y1="57.69" x2="327.30" y2="57.69" stroke="#333" stroke-width="0.9"/>
<line x1="273.20" y1="65.06" x2="281.60" y2="65.06" stroke="#333" stroke-width="0.9"/>
<line x1="298.10" y1="65.06" x2="327.30" y2="65.06" stroke="#333" stroke-width="0.9"/>
<line x1="273.20" y1="72.43" x2="281.60" y2="72.43" stroke="#333" stroke-width="0.9"/>
<line x1="298.10" y1="72.43" x2="327.30" y2="72.43" stroke="#333" stroke-width="0.9"/>
<text x="289.85" y="25.40" font-size="7.6" text-anchor="middle" fill="#333">CX</text>
<text x="312.70" y="25.40" font-size="7.6" text-anchor="middle" fill="#333" textLength="26.5" lengthAdjust="spacingAndGlyphs">OI (μM)</text>
<text x="277.40" y="34.49" font-size="7.4" text-anchor="middle" fill="#333">1</text>
<text x="312.70" y="34.49" font-size="7.4" text-anchor="middle" fill="#333">5</text>
<text x="277.40" y="41.86" font-size="7.4" text-anchor="middle" fill="#333">2</text>
<text x="312.70" y="41.86" font-size="7.4" text-anchor="middle" fill="#333">10</text>
<text x="277.40" y="49.23" font-size="7.4" text-anchor="middle" fill="#333">3</text>
<text x="312.70" y="49.23" font-size="7.4" text-anchor="middle" fill="#333">15</text>
<text x="277.40" y="56.60" font-size="7.4" text-anchor="middle" fill="#333">4</text>
<text x="312.70" y="56.60" font-size="7.4" text-anchor="middle" fill="#333">20</text>
<text x="277.40" y="63.97" font-size="7.4" text-anchor="middle" fill="#333">5</text>
<text x="312.70" y="63.97" font-size="7.4" text-anchor="middle" fill="#333">30</text>
<text x="277.40" y="71.34" font-size="7.4" text-anchor="middle" fill="#333">6</text>
<text x="312.70" y="71.34" font-size="7.4" text-anchor="middle" fill="#333">40</text>
<text x="277.40" y="78.71" font-size="7.4" text-anchor="middle" fill="#333">7</text>
<text x="312.70" y="78.71" font-size="7.4" text-anchor="middle" fill="#333">50</text>
<text x="289.85" y="50.60" font-size="7.6" text-anchor="middle" fill="#333">2.5</text>
<text x="289.85" y="59.30" font-size="7.6" text-anchor="middle" fill="#333">μM</text>
<text x="171.82" y="181.90" font-size="14.2" text-anchor="start" font-weight="bold" fill="#111" textLength="8.9" lengthAdjust="spacingAndGlyphs">E</text>
<polygon points="210.90,205.95 210.90,200.30 314.09,268.70 305.57,268.70" fill="#fdfaf2" stroke="none" stroke-width="1"/>
<line x1="210.90" y1="200.30" x2="314.09" y2="268.70" stroke="#a9a9a2" stroke-width="1.2" stroke-dasharray="2,2.7"/>
<line x1="210.90" y1="214.11" x2="293.26" y2="268.70" stroke="#a9a9a2" stroke-width="1.2" stroke-dasharray="2,2.7"/>
<line x1="210.90" y1="205.95" x2="305.57" y2="268.70" stroke="#4a2e22" stroke-width="1.3"/>
<line x1="210.90" y1="189.50" x2="210.90" y2="269.30" stroke="#222" stroke-width="1.3"/>
<line x1="210.30" y1="268.70" x2="325.50" y2="268.70" stroke="#222" stroke-width="1.3"/>
<line x1="207.40" y1="268.70" x2="210.90" y2="268.70" stroke="#222" stroke-width="1"/>
<text x="203.90" y="271.30" font-size="7.4" text-anchor="end" fill="#333">0</text>
<line x1="207.40" y1="243.60" x2="210.90" y2="243.60" stroke="#222" stroke-width="1"/>
<text x="203.90" y="246.20" font-size="7.4" text-anchor="end" fill="#333">0.4</text>
<line x1="207.40" y1="218.50" x2="210.90" y2="218.50" stroke="#222" stroke-width="1"/>
<text x="203.90" y="221.10" font-size="7.4" text-anchor="end" fill="#333">0.8</text>
<line x1="207.40" y1="193.40" x2="210.90" y2="193.40" stroke="#222" stroke-width="1"/>
<text x="203.90" y="196.00" font-size="7.4" text-anchor="end" fill="#333">1.2</text>
<line x1="210.90" y1="268.70" x2="210.90" y2="271.70" stroke="#222" stroke-width="1"/>
<text x="210.90" y="282.30" font-size="7.4" text-anchor="middle" fill="#333">0</text>
<line x1="229.83" y1="268.70" x2="229.83" y2="271.70" stroke="#222" stroke-width="1"/>
<text x="229.83" y="282.30" font-size="7.4" text-anchor="middle" fill="#333">0.2</text>
<line x1="248.77" y1="268.70" x2="248.77" y2="271.70" stroke="#222" stroke-width="1"/>
<text x="248.77" y="282.30" font-size="7.4" text-anchor="middle" fill="#333">0.4</text>
<line x1="267.70" y1="268.70" x2="267.70" y2="271.70" stroke="#222" stroke-width="1"/>
<text x="267.70" y="282.30" font-size="7.4" text-anchor="middle" fill="#333">0.6</text>
<line x1="286.63" y1="268.70" x2="286.63" y2="271.70" stroke="#222" stroke-width="1"/>
<text x="286.63" y="282.30" font-size="7.4" text-anchor="middle" fill="#333">0.8</text>
<line x1="305.57" y1="268.70" x2="305.57" y2="271.70" stroke="#222" stroke-width="1"/>
<text x="305.57" y="282.30" font-size="7.4" text-anchor="middle" fill="#333">1.0</text>
<line x1="324.50" y1="268.70" x2="324.50" y2="271.70" stroke="#222" stroke-width="1"/>
<text x="324.50" y="282.30" font-size="7.4" text-anchor="middle" fill="#333">1.2</text>
<text x="186.40" y="229.10" font-size="8.2" text-anchor="middle" fill="#333" textLength="71.4" lengthAdjust="spacingAndGlyphs" transform="rotate(-90 186.40 229.10)">Combination index</text>
<line x1="210.40" y1="292.40" x2="317.43" y2="292.40" stroke="#333" stroke-width="1.2"/>
<line x1="210.90" y1="292.90" x2="210.90" y2="289.40" stroke="#333" stroke-width="1.1"/>
<polygon points="210.90,285.90 209.20,289.60 212.60,289.60" fill="#222" stroke="none" stroke-width="1"/>
<line x1="296.10" y1="292.90" x2="296.10" y2="289.40" stroke="#333" stroke-width="1.1"/>
<polygon points="296.10,285.90 294.40,289.60 297.80,289.60" fill="#222" stroke="none" stroke-width="1"/>
<line x1="316.93" y1="292.90" x2="316.93" y2="289.40" stroke="#333" stroke-width="1.1"/>
<polygon points="316.93,285.90 315.23,289.60 318.63,289.60" fill="#222" stroke="none" stroke-width="1"/>
<text x="255.50" y="305.20" font-size="9.3" text-anchor="middle" fill="#333" textLength="40.5" lengthAdjust="spacingAndGlyphs">Synergistic</text>
<text x="306.30" y="305.20" font-size="9.3" text-anchor="middle" fill="#333" textLength="30.5" lengthAdjust="spacingAndGlyphs">Additive</text>
<text x="220.00" y="247.50" font-size="7.4" text-anchor="middle" fill="#333">1</text>
<circle cx="224.50" cy="243.00" r="0.9" fill="#b0b0b0"/>
<text x="224.90" y="236.70" font-size="7.4" text-anchor="middle" fill="#333">2</text>
<circle cx="228.50" cy="237.00" r="0.9" fill="#b0b0b0"/>
<text x="233.90" y="234.00" font-size="7.4" text-anchor="middle" fill="#333">3</text>
<circle cx="233.50" cy="236.50" r="0.9" fill="#b0b0b0"/>
<text x="230.60" y="254.20" font-size="7.4" text-anchor="middle" fill="#333">4</text>
<circle cx="231.00" cy="252.00" r="0.9" fill="#b0b0b0"/>
<text x="238.60" y="250.90" font-size="7.4" text-anchor="middle" fill="#333">5</text>
<circle cx="241.00" cy="246.00" r="0.9" fill="#b0b0b0"/>
<text x="246.50" y="262.60" font-size="7.4" text-anchor="middle" fill="#333">6</text>
<circle cx="247.00" cy="262.00" r="0.9" fill="#b0b0b0"/>
<text x="255.50" y="254.60" font-size="7.4" text-anchor="middle" fill="#333">7</text>
<circle cx="251.50" cy="250.00" r="0.9" fill="#b0b0b0"/>
<line x1="231.80" y1="248.20" x2="234.30" y2="240.60" stroke="#222" stroke-width="0.9"/>
<polygon points="234.30,240.60 234.69,244.52 231.66,243.52" fill="#222" stroke="none" stroke-width="1"/>
<line x1="246.30" y1="256.30" x2="246.30" y2="247.80" stroke="#222" stroke-width="0.9"/>
<polygon points="246.30,247.80 247.90,251.40 244.70,251.40" fill="#222" stroke="none" stroke-width="1"/>
<rect x="273.2" y="178.10" width="54.10" height="61.70" fill="none" stroke="#333" stroke-width="0.9"/>
<line x1="281.60" y1="178.10" x2="281.60" y2="239.80" stroke="#333" stroke-width="0.9"/>
<line x1="298.10" y1="178.10" x2="298.10" y2="239.80" stroke="#333" stroke-width="0.9"/>
<line x1="273.20" y1="188.20" x2="327.30" y2="188.20" stroke="#333" stroke-width="0.9"/>
<line x1="273.20" y1="195.57" x2="281.60" y2="195.57" stroke="#333" stroke-width="0.9"/>
<line x1="298.10" y1="195.57" x2="327.30" y2="195.57" stroke="#333" stroke-width="0.9"/>
<line x1="273.20" y1="202.94" x2="281.60" y2="202.94" stroke="#333" stroke-width="0.9"/>
<line x1="298.10" y1="202.94" x2="327.30" y2="202.94" stroke="#333" stroke-width="0.9"/>
<line x1="273.20" y1="210.31" x2="281.60" y2="210.31" stroke="#333" stroke-width="0.9"/>
<line x1="298.10" y1="210.31" x2="327.30" y2="210.31" stroke="#333" stroke-width="0.9"/>
<line x1="273.20" y1="217.69" x2="281.60" y2="217.69" stroke="#333" stroke-width="0.9"/>
<line x1="298.10" y1="217.69" x2="327.30" y2="217.69" stroke="#333" stroke-width="0.9"/>
<line x1="273.20" y1="225.06" x2="281.60" y2="225.06" stroke="#333" stroke-width="0.9"/>
<line x1="298.10" y1="225.06" x2="327.30" y2="225.06" stroke="#333" stroke-width="0.9"/>
<line x1="273.20" y1="232.43" x2="281.60" y2="232.43" stroke="#333" stroke-width="0.9"/>
<line x1="298.10" y1="232.43" x2="327.30" y2="232.43" stroke="#333" stroke-width="0.9"/>
<text x="289.85" y="185.40" font-size="7.6" text-anchor="middle" fill="#333">CX</text>
<text x="312.70" y="185.40" font-size="7.6" text-anchor="middle" fill="#333" textLength="26.5" lengthAdjust="spacingAndGlyphs">OI (μM)</text>
<text x="277.40" y="194.49" font-size="7.4" text-anchor="middle" fill="#333">1</text>
<text x="312.70" y="194.49" font-size="7.4" text-anchor="middle" fill="#333">10</text>
<text x="277.40" y="201.86" font-size="7.4" text-anchor="middle" fill="#333">2</text>
<text x="312.70" y="201.86" font-size="7.4" text-anchor="middle" fill="#333">15</text>
<text x="277.40" y="209.23" font-size="7.4" text-anchor="middle" fill="#333">3</text>
<text x="312.70" y="209.23" font-size="7.4" text-anchor="middle" fill="#333">20</text>
<text x="277.40" y="216.60" font-size="7.4" text-anchor="middle" fill="#333">4</text>
<text x="312.70" y="216.60" font-size="7.4" text-anchor="middle" fill="#333">30</text>
<text x="277.40" y="223.97" font-size="7.4" text-anchor="middle" fill="#333">5</text>
<text x="312.70" y="223.97" font-size="7.4" text-anchor="middle" fill="#333">40</text>
<text x="277.40" y="231.34" font-size="7.4" text-anchor="middle" fill="#333">6</text>
<text x="312.70" y="231.34" font-size="7.4" text-anchor="middle" fill="#333">50</text>
<text x="277.40" y="238.71" font-size="7.4" text-anchor="middle" fill="#333">7</text>
<text x="312.70" y="238.71" font-size="7.4" text-anchor="middle" fill="#333">60</text>
<text x="289.85" y="210.60" font-size="7.6" text-anchor="middle" fill="#333">4</text>
<text x="289.85" y="219.30" font-size="7.6" text-anchor="middle" fill="#333">μM</text>
<text x="360.16" y="19.80" font-size="14.2" text-anchor="start" font-weight="bold" fill="#111" textLength="11.38" lengthAdjust="spacingAndGlyphs">D</text>
<text x="392.60" y="31.00" font-size="10.6" text-anchor="start" fill="#222" textLength="85.4" lengthAdjust="spacingAndGlyphs">Bliss score: 18.195</text>
<line x1="403.40" y1="36.30" x2="403.40" y2="122.60" stroke="#000" stroke-width="0.5" opacity="0.2"/>
<line x1="414.50" y1="36.30" x2="414.50" y2="122.60" stroke="#000" stroke-width="0.5" opacity="0.2"/>
<line x1="425.60" y1="36.30" x2="425.60" y2="122.60" stroke="#000" stroke-width="0.5" opacity="0.2"/>
<line x1="436.40" y1="36.30" x2="436.40" y2="122.60" stroke="#000" stroke-width="0.5" opacity="0.2"/>
<line x1="447.60" y1="36.30" x2="447.60" y2="122.60" stroke="#000" stroke-width="0.5" opacity="0.2"/>
<line x1="458.80" y1="36.30" x2="458.80" y2="122.60" stroke="#000" stroke-width="0.5" opacity="0.2"/>
<line x1="393.00" y1="39.50" x2="471.00" y2="39.50" stroke="#000" stroke-width="0.5" opacity="0.13"/>
<line x1="393.00" y1="81.00" x2="471.00" y2="81.00" stroke="#000" stroke-width="0.5" opacity="0.13"/>
<line x1="393.00" y1="122.60" x2="471.00" y2="122.60" stroke="#000" stroke-width="0.5" opacity="0.13"/>
<rect x="403.30" y="36.30" width="22.30" height="86.10" fill="none" stroke="#5a5a5a" stroke-width="0.75"/>
<line x1="414.45" y1="36.30" x2="414.45" y2="122.40" stroke="#5a5a5a" stroke-width="0.6" opacity="0.6"/>
<linearGradient id="hc1" gradientUnits="userSpaceOnUse" x1="393" x2="471" y1="0" y2="0"><stop offset="0.0000" stop-color="rgb(230, 42, 24)" stop-opacity="0.120"/><stop offset="0.0385" stop-color="rgb(230, 42, 24)" stop-opacity="0.350"/><stop offset="0.0641" stop-color="rgb(230, 42, 24)" stop-opacity="0.550"/><stop offset="0.1026" stop-color="rgb(230, 42, 24)" stop-opacity="0.780"/><stop offset="0.1410" stop-color="rgb(230, 42, 24)" stop-opacity="0.860"/><stop offset="0.3974" stop-color="rgb(230, 42, 24)" stop-opacity="0.860"/><stop offset="0.4744" stop-color="rgb(230, 42, 24)" stop-opacity="0.740"/><stop offset="0.6026" stop-color="rgb(230, 42, 24)" stop-opacity="0.690"/><stop offset="0.7308" stop-color="rgb(230, 42, 24)" stop-opacity="0.660"/><stop offset="0.8974" stop-color="rgb(230, 42, 24)" stop-opacity="0.620"/><stop offset="0.9744" stop-color="rgb(230, 42, 24)" stop-opacity="0.550"/><stop offset="1.0000" stop-color="rgb(230, 42, 24)" stop-opacity="0.450"/></linearGradient>
<linearGradient id="hr1" gradientUnits="userSpaceOnUse" x1="0" x2="0" y1="36.3" y2="122.6"><stop offset="0.0000" stop-color="#fff" stop-opacity="1.000"/><stop offset="0.5064" stop-color="#fff" stop-opacity="1.000"/><stop offset="0.5759" stop-color="#fff" stop-opacity="0.930"/><stop offset="0.6454" stop-color="#fff" stop-opacity="0.820"/><stop offset="0.7149" stop-color="#fff" stop-opacity="0.680"/><stop offset="0.7845" stop-color="#fff" stop-opacity="0.520"/><stop offset="0.8540" stop-color="#fff" stop-opacity="0.360"/><stop offset="0.9119" stop-color="#fff" stop-opacity="0.240"/><stop offset="0.9583" stop-color="#fff" stop-opacity="0.130"/><stop offset="1.0000" stop-color="#fff" stop-opacity="0.070"/></linearGradient>
<mask id="hm1" maskUnits="userSpaceOnUse" x="393" y="36.3" width="78" height="86.3"><rect x="393" y="36.3" width="78" height="86.3" fill="url(#hr1)"/></mask>
<rect x="393" y="36.3" width="78.00" height="86.30" fill="url(#hc1)" mask="url(#hm1)"/>
<radialGradient id="hh1"><stop offset="0" stop-color="rgb(230, 42, 24)" stop-opacity="0.8"/><stop offset="1" stop-color="rgb(230, 42, 24)" stop-opacity="0"/></radialGradient>
<ellipse cx="413.5" cy="60" rx="10.5" ry="22" fill="url(#hh1)"/>
<path d="M412.8,40.7 C409,44 405.5,55 406.1,63.6 C406.5,71 409,74.7 411.3,74.7 C415,74.7 419.4,72 419.4,66 C419.4,57 417,48 412.8,40.7 Z" fill="none" stroke="#fff" stroke-width="0.7" opacity="0.24"/>
<path d="M406.9,39.5 C404.5,50 403.5,64 404.6,71 C405.5,76 409,78.4 412.8,78.4 C418,78.4 422.4,72 422.4,63.6 C422.4,52 419,44 415.7,39.5" fill="none" stroke="#fff" stroke-width="0.7" opacity="0.21"/>
<path d="M431.3,39.5 C431.6,50 432,62 433,68 C434.5,74 437,75.5 440,75.5 C446,75.5 450.6,68 450.6,56 C450.6,48 447,42 443.9,39.5" fill="none" stroke="#fff" stroke-width="0.7" opacity="0.21"/>
<path d="M437,39.5 C437.5,50 438.5,62 441,66 C443,69 446,66 446.5,58 C447,50 445,42 442,39.5" fill="none" stroke="#fff" stroke-width="0.7" opacity="0.17"/>
<path d="M398,81.4 C420,81 440,83 470,77" fill="none" stroke="#fff" stroke-width="0.7" opacity="0.17"/>
<path d="M398,86.6 C420,87 445,88 470,83" fill="none" stroke="#fff" stroke-width="0.7" opacity="0.17"/>
<path d="M398,91.8 C420,93 445,94 470,89" fill="none" stroke="#fff" stroke-width="0.7" opacity="0.15"/>
<rect x="399.00" y="36.30" width="34.00" height="3.20" fill="#d8401a" opacity="0.55"/>
<line x1="403.30" y1="122.40" x2="425.60" y2="122.40" stroke="#555" stroke-width="0.8"/>
<line x1="391.80" y1="36.30" x2="391.80" y2="126.10" stroke="#111" stroke-width="1.3"/>
<line x1="391.20" y1="125.50" x2="470.80" y2="125.50" stroke="#111" stroke-width="1.3"/>
<line x1="392.50" y1="125.50" x2="392.50" y2="128.30" stroke="#111" stroke-width="1"/>
<text x="392.50" y="139.60" font-size="7.8" text-anchor="middle" fill="#333">0</text>
<line x1="403.40" y1="125.50" x2="403.40" y2="128.30" stroke="#111" stroke-width="1"/>
<text x="403.40" y="139.60" font-size="7.8" text-anchor="middle" fill="#333">5</text>
<line x1="414.50" y1="125.50" x2="414.50" y2="128.30" stroke="#111" stroke-width="1"/>
<text x="414.50" y="139.60" font-size="7.8" text-anchor="middle" fill="#333">10</text>
<line x1="425.60" y1="125.50" x2="425.60" y2="128.30" stroke="#111" stroke-width="1"/>
<text x="425.60" y="139.60" font-size="7.8" text-anchor="middle" fill="#333">15</text>
<line x1="436.40" y1="125.50" x2="436.40" y2="128.30" stroke="#111" stroke-width="1"/>
<text x="436.40" y="139.60" font-size="7.8" text-anchor="middle" fill="#333">20</text>
<line x1="447.60" y1="125.50" x2="447.60" y2="128.30" stroke="#111" stroke-width="1"/>
<text x="447.60" y="139.60" font-size="7.8" text-anchor="middle" fill="#333">30</text>
<line x1="458.80" y1="125.50" x2="458.80" y2="128.30" stroke="#111" stroke-width="1"/>
<text x="458.80" y="139.60" font-size="7.8" text-anchor="middle" fill="#333">40</text>
<line x1="470.00" y1="125.50" x2="470.00" y2="128.30" stroke="#111" stroke-width="1"/>
<text x="470.00" y="139.60" font-size="7.8" text-anchor="middle" fill="#333">50</text>
<line x1="388.80" y1="39.50" x2="391.80" y2="39.50" stroke="#111" stroke-width="1"/>
<text x="384.80" y="42.30" font-size="8.0" text-anchor="end" fill="#333">4</text>
<line x1="388.80" y1="81.00" x2="391.80" y2="81.00" stroke="#111" stroke-width="1"/>
<text x="384.80" y="83.80" font-size="8.0" text-anchor="end" fill="#333">2.5</text>
<line x1="388.80" y1="122.60" x2="391.80" y2="122.60" stroke="#111" stroke-width="1"/>
<text x="384.80" y="125.40" font-size="8.0" text-anchor="end" fill="#333">0</text>
<text x="431.00" y="154.90" font-size="9.8" text-anchor="middle" fill="#333" textLength="28.5" lengthAdjust="spacingAndGlyphs">OI (μM)</text>
<text x="366.80" y="81.35" font-size="9.8" text-anchor="middle" fill="#333" textLength="31" lengthAdjust="spacingAndGlyphs" transform="rotate(-90 366.80 81.35)">CX (μM)</text>
<linearGradient id="cb2" x1="0" x2="0" y1="0" y2="1"><stop offset="0" stop-color="#d82a14"/><stop offset="0.25" stop-color="#ee4a3a"/><stop offset="0.45" stop-color="#fbd0cc"/><stop offset="0.52" stop-color="#ffffff"/><stop offset="0.6" stop-color="#c8eccc"/><stop offset="0.75" stop-color="#2aa850"/><stop offset="1" stop-color="#0c8a34"/></linearGradient>
<rect x="475.50" y="88.90" width="5.50" height="30.10" fill="url(#cb2)"/>
<text x="482.10" y="70.80" font-size="7.8" text-anchor="middle" fill="#444">δ</text>
<text x="482.00" y="79.30" font-size="7.8" text-anchor="middle" fill="#444" textLength="18.2" lengthAdjust="spacingAndGlyphs">score</text>
<text x="482.40" y="93.20" font-size="7.8" text-anchor="start" fill="#333">30</text>
<text x="482.40" y="106.50" font-size="7.8" text-anchor="start" fill="#333">0</text>
<text x="482.40" y="119.70" font-size="7.8" text-anchor="start" fill="#333">–30</text>
<text x="361.80" y="181.90" font-size="14.2" text-anchor="start" font-weight="bold" fill="#111" textLength="8.32" lengthAdjust="spacingAndGlyphs">F</text>
<text x="392.60" y="191.00" font-size="10.6" text-anchor="start" fill="#222" textLength="85.4" lengthAdjust="spacingAndGlyphs">Bliss score: 23.669</text>
<line x1="402.30" y1="197.00" x2="402.30" y2="280.20" stroke="#000" stroke-width="0.5" opacity="0.2"/>
<line x1="413.20" y1="197.00" x2="413.20" y2="280.20" stroke="#000" stroke-width="0.5" opacity="0.2"/>
<line x1="424.00" y1="197.00" x2="424.00" y2="280.20" stroke="#000" stroke-width="0.5" opacity="0.2"/>
<line x1="435.00" y1="197.00" x2="435.00" y2="280.20" stroke="#000" stroke-width="0.5" opacity="0.2"/>
<line x1="446.00" y1="197.00" x2="446.00" y2="280.20" stroke="#000" stroke-width="0.5" opacity="0.2"/>
<line x1="457.00" y1="197.00" x2="457.00" y2="280.20" stroke="#000" stroke-width="0.5" opacity="0.2"/>
<line x1="393.00" y1="200.70" x2="469.00" y2="200.70" stroke="#000" stroke-width="0.5" opacity="0.13"/>
<line x1="393.00" y1="240.50" x2="469.00" y2="240.50" stroke="#000" stroke-width="0.5" opacity="0.13"/>
<line x1="393.00" y1="280.00" x2="469.00" y2="280.00" stroke="#000" stroke-width="0.5" opacity="0.13"/>
<rect x="402.30" y="197.00" width="21.50" height="83.00" fill="none" stroke="#5a5a5a" stroke-width="0.75"/>
<line x1="413.05" y1="197.00" x2="413.05" y2="280.00" stroke="#5a5a5a" stroke-width="0.6" opacity="0.6"/>
<linearGradient id="hc3" gradientUnits="userSpaceOnUse" x1="393" x2="469" y1="0" y2="0"><stop offset="0.0000" stop-color="rgb(230, 42, 24)" stop-opacity="0.120"/><stop offset="0.0395" stop-color="rgb(230, 42, 24)" stop-opacity="0.350"/><stop offset="0.0658" stop-color="rgb(230, 42, 24)" stop-opacity="0.600"/><stop offset="0.1053" stop-color="rgb(230, 42, 24)" stop-opacity="0.880"/><stop offset="0.1447" stop-color="rgb(230, 42, 24)" stop-opacity="0.950"/><stop offset="0.4868" stop-color="rgb(230, 42, 24)" stop-opacity="0.970"/><stop offset="0.6184" stop-color="rgb(230, 42, 24)" stop-opacity="0.800"/><stop offset="0.7500" stop-color="rgb(230, 42, 24)" stop-opacity="0.680"/><stop offset="0.8816" stop-color="rgb(230, 42, 24)" stop-opacity="0.580"/><stop offset="0.9737" stop-color="rgb(230, 42, 24)" stop-opacity="0.500"/><stop offset="1.0000" stop-color="rgb(230, 42, 24)" stop-opacity="0.420"/></linearGradient>
<linearGradient id="hr3" gradientUnits="userSpaceOnUse" x1="0" x2="0" y1="197" y2="280.2"><stop offset="0.0000" stop-color="#fff" stop-opacity="1.000"/><stop offset="0.5168" stop-color="#fff" stop-opacity="1.000"/><stop offset="0.5889" stop-color="#fff" stop-opacity="0.920"/><stop offset="0.6611" stop-color="#fff" stop-opacity="0.800"/><stop offset="0.7332" stop-color="#fff" stop-opacity="0.640"/><stop offset="0.8053" stop-color="#fff" stop-opacity="0.480"/><stop offset="0.8654" stop-color="#fff" stop-opacity="0.340"/><stop offset="0.9255" stop-color="#fff" stop-opacity="0.210"/><stop offset="0.9736" stop-color="#fff" stop-opacity="0.120"/><stop offset="1.0000" stop-color="#fff" stop-opacity="0.070"/></linearGradient>
<mask id="hm3" maskUnits="userSpaceOnUse" x="393" y="197" width="76" height="83.19999999999999"><rect x="393" y="197" width="76" height="83.19999999999999" fill="url(#hr3)"/></mask>
<rect x="393" y="197" width="76.00" height="83.20" fill="url(#hc3)" mask="url(#hm3)"/>
<path d="M403.9,200 C403.5,215 403.9,228 405,230 C410,232 416,230 423,236 C428,238 431,232 432,225 C433.5,215 434.3,205 434.3,200" fill="none" stroke="#fff" stroke-width="0.7" opacity="0.21"/>
<path d="M404,247 C415,250 425,252 433,247 C440,240 442,225 441,200" fill="none" stroke="#fff" stroke-width="0.7" opacity="0.20"/>
<path d="M404,255 C418,258 432,258 440,252 C448,244 449,225 448.5,200" fill="none" stroke="#fff" stroke-width="0.7" opacity="0.17"/>
<path d="M404,262 C420,265 438,264 447,256 C455,248 456,225 456,200" fill="none" stroke="#fff" stroke-width="0.7" opacity="0.15"/>
<rect x="399.00" y="197.00" width="34.00" height="3.20" fill="#d8401a" opacity="0.55"/>
<line x1="402.30" y1="280.00" x2="423.80" y2="280.00" stroke="#555" stroke-width="0.8"/>
<line x1="391.80" y1="197.00" x2="391.80" y2="284.80" stroke="#111" stroke-width="1.3"/>
<line x1="391.20" y1="284.20" x2="468.60" y2="284.20" stroke="#111" stroke-width="1.3"/>
<line x1="391.60" y1="284.20" x2="391.60" y2="287.00" stroke="#111" stroke-width="1"/>
<text x="391.60" y="298.30" font-size="7.8" text-anchor="middle" fill="#333">0</text>
<line x1="402.30" y1="284.20" x2="402.30" y2="287.00" stroke="#111" stroke-width="1"/>
<text x="402.30" y="298.30" font-size="7.8" text-anchor="middle" fill="#333">10</text>
<line x1="413.20" y1="284.20" x2="413.20" y2="287.00" stroke="#111" stroke-width="1"/>
<text x="413.20" y="298.30" font-size="7.8" text-anchor="middle" fill="#333">15</text>
<line x1="424.00" y1="284.20" x2="424.00" y2="287.00" stroke="#111" stroke-width="1"/>
<text x="424.00" y="298.30" font-size="7.8" text-anchor="middle" fill="#333">20</text>
<line x1="435.00" y1="284.20" x2="435.00" y2="287.00" stroke="#111" stroke-width="1"/>
<text x="435.00" y="298.30" font-size="7.8" text-anchor="middle" fill="#333">30</text>
<line x1="446.00" y1="284.20" x2="446.00" y2="287.00" stroke="#111" stroke-width="1"/>
<text x="446.00" y="298.30" font-size="7.8" text-anchor="middle" fill="#333">40</text>
<line x1="457.00" y1="284.20" x2="457.00" y2="287.00" stroke="#111" stroke-width="1"/>
<text x="457.00" y="298.30" font-size="7.8" text-anchor="middle" fill="#333">50</text>
<line x1="467.80" y1="284.20" x2="467.80" y2="287.00" stroke="#111" stroke-width="1"/>
<text x="467.80" y="298.30" font-size="7.8" text-anchor="middle" fill="#333">60</text>
<line x1="388.80" y1="200.70" x2="391.80" y2="200.70" stroke="#111" stroke-width="1"/>
<text x="384.80" y="203.50" font-size="8.0" text-anchor="end" fill="#333">6</text>
<line x1="388.80" y1="240.50" x2="391.80" y2="240.50" stroke="#111" stroke-width="1"/>
<text x="384.80" y="243.30" font-size="8.0" text-anchor="end" fill="#333">4</text>
<line x1="388.80" y1="280.00" x2="391.80" y2="280.00" stroke="#111" stroke-width="1"/>
<text x="384.80" y="282.80" font-size="8.0" text-anchor="end" fill="#333">0</text>
<text x="431.00" y="313.60" font-size="9.8" text-anchor="middle" fill="#333" textLength="28.5" lengthAdjust="spacingAndGlyphs">OI (μM)</text>
<text x="366.80" y="240.50" font-size="9.8" text-anchor="middle" fill="#333" textLength="31" lengthAdjust="spacingAndGlyphs" transform="rotate(-90 366.80 240.50)">CX (μM)</text>
<linearGradient id="cb4" x1="0" x2="0" y1="0" y2="1"><stop offset="0" stop-color="#d82a14"/><stop offset="0.25" stop-color="#ee4a3a"/><stop offset="0.45" stop-color="#fbd0cc"/><stop offset="0.52" stop-color="#ffffff"/><stop offset="0.6" stop-color="#c8eccc"/><stop offset="0.75" stop-color="#2aa850"/><stop offset="1" stop-color="#0c8a34"/></linearGradient>
<rect x="473.10" y="247.30" width="5.60" height="28.90" fill="url(#cb4)"/>
<text x="482.10" y="232.90" font-size="7.8" text-anchor="middle" fill="#444">δ</text>
<text x="482.00" y="241.40" font-size="7.8" text-anchor="middle" fill="#444" textLength="18.2" lengthAdjust="spacingAndGlyphs">score</text>
<text x="481.90" y="252.70" font-size="7.8" text-anchor="start" fill="#333">40</text>
<text x="481.90" y="264.90" font-size="7.8" text-anchor="start" fill="#333">0</text>
<text x="481.90" y="277.60" font-size="7.8" text-anchor="start" fill="#333">–40</text>
<text x="8.08" y="342.30" font-size="14.2" text-anchor="start" font-weight="bold" fill="#111" textLength="11.82" lengthAdjust="spacingAndGlyphs">G</text>
<line x1="29.60" y1="356.00" x2="29.60" y2="444.20" stroke="#111" stroke-width="1.3"/>
<line x1="29.00" y1="444.20" x2="373.00" y2="444.20" stroke="#111" stroke-width="1.4"/>
<polygon points="29.60,349.20 26.30,357.60 29.60,356.20 32.90,357.60" fill="#111" stroke="none" stroke-width="1"/>
<polygon points="378.80,444.20 369.60,440.70 371.20,444.20 369.60,447.70" fill="#111" stroke="none" stroke-width="1"/>
<text x="22.40" y="394.60" font-size="9" text-anchor="middle" fill="#333" textLength="60" lengthAdjust="spacingAndGlyphs" transform="rotate(-90 22.40 394.60)">Number (× 10<tspan dy="-3" font-size="6">2</tspan><tspan dy="3">)</tspan></text>
<text x="201.00" y="459.20" font-size="8.4" text-anchor="middle" fill="#333">PI (× 10<tspan dy="-3" font-size="5.5">2</tspan><tspan dy="3">)</tspan></text>
<text x="82.50" y="350.80" font-size="10.1" text-anchor="middle" fill="#222" textLength="32" lengthAdjust="spacingAndGlyphs">DMSO</text>
<rect x="70.20" y="418.90" width="13.80" height="6.30" fill="#e4e6f3"/>
<line x1="70.20" y1="418.90" x2="84.00" y2="418.90" stroke="#7d92c8" stroke-width="0.9"/>
<line x1="68.70" y1="360.90" x2="68.70" y2="375.50" stroke="#a89090" stroke-width="1.1"/>
<polygon points="67.00,425.20 67.70,418.20 68.15,373.50 68.70,365.50 69.25,373.50 69.70,418.20 70.40,425.20" fill="#d8321c" stroke="none" stroke-width="1"/>
<polygon points="84.00,425.20 85.50,416.20 85.80,415.20 86.10,416.20 87.60,425.20" fill="#c8281c" stroke="none" stroke-width="1"/>
<line x1="85.80" y1="415.20" x2="85.80" y2="410.20" stroke="#a8a8a8" stroke-width="0.8"/>
<line x1="51.00" y1="359.60" x2="51.00" y2="425.80" stroke="#111" stroke-width="1.2"/>
<line x1="50.40" y1="425.20" x2="114.80" y2="425.20" stroke="#111" stroke-width="1.2"/>
<line x1="48.00" y1="425.20" x2="51.00" y2="425.20" stroke="#111" stroke-width="0.7"/>
<line x1="49.20" y1="420.61" x2="51.00" y2="420.61" stroke="#111" stroke-width="0.7"/>
<line x1="49.20" y1="416.01" x2="51.00" y2="416.01" stroke="#111" stroke-width="0.7"/>
<line x1="49.20" y1="411.42" x2="51.00" y2="411.42" stroke="#111" stroke-width="0.7"/>
<line x1="49.20" y1="406.83" x2="51.00" y2="406.83" stroke="#111" stroke-width="0.7"/>
<line x1="49.20" y1="402.24" x2="51.00" y2="402.24" stroke="#111" stroke-width="0.7"/>
<line x1="49.20" y1="397.64" x2="51.00" y2="397.64" stroke="#111" stroke-width="0.7"/>
<line x1="48.00" y1="393.05" x2="51.00" y2="393.05" stroke="#111" stroke-width="0.7"/>
<line x1="49.20" y1="388.46" x2="51.00" y2="388.46" stroke="#111" stroke-width="0.7"/>
<line x1="49.20" y1="383.86" x2="51.00" y2="383.86" stroke="#111" stroke-width="0.7"/>
<line x1="49.20" y1="379.27" x2="51.00" y2="379.27" stroke="#111" stroke-width="0.7"/>
<line x1="49.20" y1="374.68" x2="51.00" y2="374.68" stroke="#111" stroke-width="0.7"/>
<line x1="49.20" y1="370.09" x2="51.00" y2="370.09" stroke="#111" stroke-width="0.7"/>
<line x1="49.20" y1="365.49" x2="51.00" y2="365.49" stroke="#111" stroke-width="0.7"/>
<line x1="48.00" y1="360.90" x2="51.00" y2="360.90" stroke="#111" stroke-width="0.7"/>
<line x1="50.80" y1="425.20" x2="50.80" y2="428.00" stroke="#111" stroke-width="0.6"/>
<line x1="51.84" y1="425.20" x2="51.84" y2="426.70" stroke="#111" stroke-width="0.6"/>
<line x1="52.88" y1="425.20" x2="52.88" y2="426.70" stroke="#111" stroke-width="0.6"/>
<line x1="53.93" y1="425.20" x2="53.93" y2="426.70" stroke="#111" stroke-width="0.6"/>
<line x1="54.97" y1="425.20" x2="54.97" y2="428.00" stroke="#111" stroke-width="0.6"/>
<line x1="56.01" y1="425.20" x2="56.01" y2="426.70" stroke="#111" stroke-width="0.6"/>
<line x1="57.05" y1="425.20" x2="57.05" y2="426.70" stroke="#111" stroke-width="0.6"/>
<line x1="58.10" y1="425.20" x2="58.10" y2="426.70" stroke="#111" stroke-width="0.6"/>
<line x1="59.14" y1="425.20" x2="59.14" y2="428.00" stroke="#111" stroke-width="0.6"/>
<line x1="60.18" y1="425.20" x2="60.18" y2="426.70" stroke="#111" stroke-width="0.6"/>
<line x1="61.22" y1="425.20" x2="61.22" y2="426.70" stroke="#111" stroke-width="0.6"/>
<line x1="62.27" y1="425.20" x2="62.27" y2="426.70" stroke="#111" stroke-width="0.6"/>
<line x1="63.31" y1="425.20" x2="63.31" y2="428.00" stroke="#111" stroke-width="0.6"/>
<line x1="64.35" y1="425.20" x2="64.35" y2="426.70" stroke="#111" stroke-width="0.6"/>
<line x1="65.39" y1="425.20" x2="65.39" y2="426.70" stroke="#111" stroke-width="0.6"/>
<line x1="66.44" y1="425.20" x2="66.44" y2="426.70" stroke="#111" stroke-width="0.6"/>
<line x1="67.48" y1="425.20" x2="67.48" y2="428.00" stroke="#111" stroke-width="0.6"/>
<line x1="68.52" y1="425.20" x2="68.52" y2="426.70" stroke="#111" stroke-width="0.6"/>
<line x1="69.56" y1="425.20" x2="69.56" y2="426.70" stroke="#111" stroke-width="0.6"/>
<line x1="70.61" y1="425.20" x2="70.61" y2="426.70" stroke="#111" stroke-width="0.6"/>
<line x1="71.65" y1="425.20" x2="71.65" y2="428.00" stroke="#111" stroke-width="0.6"/>
<line x1="72.69" y1="425.20" x2="72.69" y2="426.70" stroke="#111" stroke-width="0.6"/>
<line x1="73.73" y1="425.20" x2="73.73" y2="426.70" stroke="#111" stroke-width="0.6"/>
<line x1="74.78" y1="425.20" x2="74.78" y2="426.70" stroke="#111" stroke-width="0.6"/>
<line x1="75.82" y1="425.20" x2="75.82" y2="428.00" stroke="#111" stroke-width="0.6"/>
<line x1="76.86" y1="425.20" x2="76.86" y2="426.70" stroke="#111" stroke-width="0.6"/>
<line x1="77.91" y1="425.20" x2="77.91" y2="426.70" stroke="#111" stroke-width="0.6"/>
<line x1="78.95" y1="425.20" x2="78.95" y2="426.70" stroke="#111" stroke-width="0.6"/>
<line x1="79.99" y1="425.20" x2="79.99" y2="428.00" stroke="#111" stroke-width="0.6"/>
<line x1="81.03" y1="425.20" x2="81.03" y2="426.70" stroke="#111" stroke-width="0.6"/>
<line x1="82.07" y1="425.20" x2="82.07" y2="426.70" stroke="#111" stroke-width="0.6"/>
<line x1="83.12" y1="425.20" x2="83.12" y2="426.70" stroke="#111" stroke-width="0.6"/>
<line x1="84.16" y1="425.20" x2="84.16" y2="428.00" stroke="#111" stroke-width="0.6"/>
<line x1="85.20" y1="425.20" x2="85.20" y2="426.70" stroke="#111" stroke-width="0.6"/>
<line x1="86.25" y1="425.20" x2="86.25" y2="426.70" stroke="#111" stroke-width="0.6"/>
<line x1="87.29" y1="425.20" x2="87.29" y2="426.70" stroke="#111" stroke-width="0.6"/>
<line x1="88.33" y1="425.20" x2="88.33" y2="428.00" stroke="#111" stroke-width="0.6"/>
<line x1="89.37" y1="425.20" x2="89.37" y2="426.70" stroke="#111" stroke-width="0.6"/>
<line x1="90.41" y1="425.20" x2="90.41" y2="426.70" stroke="#111" stroke-width="0.6"/>
<line x1="91.46" y1="425.20" x2="91.46" y2="426.70" stroke="#111" stroke-width="0.6"/>
<line x1="92.50" y1="425.20" x2="92.50" y2="428.00" stroke="#111" stroke-width="0.6"/>
<line x1="93.54" y1="425.20" x2="93.54" y2="426.70" stroke="#111" stroke-width="0.6"/>
<line x1="94.58" y1="425.20" x2="94.58" y2="426.70" stroke="#111" stroke-width="0.6"/>
<line x1="95.63" y1="425.20" x2="95.63" y2="426.70" stroke="#111" stroke-width="0.6"/>
<line x1="96.67" y1="425.20" x2="96.67" y2="428.00" stroke="#111" stroke-width="0.6"/>
<line x1="97.71" y1="425.20" x2="97.71" y2="426.70" stroke="#111" stroke-width="0.6"/>
<line x1="98.75" y1="425.20" x2="98.75" y2="426.70" stroke="#111" stroke-width="0.6"/>
<line x1="99.80" y1="425.20" x2="99.80" y2="426.70" stroke="#111" stroke-width="0.6"/>
<line x1="100.84" y1="425.20" x2="100.84" y2="428.00" stroke="#111" stroke-width="0.6"/>
<line x1="101.88" y1="425.20" x2="101.88" y2="426.70" stroke="#111" stroke-width="0.6"/>
<line x1="102.92" y1="425.20" x2="102.92" y2="426.70" stroke="#111" stroke-width="0.6"/>
<line x1="103.97" y1="425.20" x2="103.97" y2="426.70" stroke="#111" stroke-width="0.6"/>
<line x1="105.01" y1="425.20" x2="105.01" y2="428.00" stroke="#111" stroke-width="0.6"/>
<line x1="106.05" y1="425.20" x2="106.05" y2="426.70" stroke="#111" stroke-width="0.6"/>
<line x1="107.09" y1="425.20" x2="107.09" y2="426.70" stroke="#111" stroke-width="0.6"/>
<line x1="108.14" y1="425.20" x2="108.14" y2="426.70" stroke="#111" stroke-width="0.6"/>
<line x1="109.18" y1="425.20" x2="109.18" y2="428.00" stroke="#111" stroke-width="0.6"/>
<line x1="110.22" y1="425.20" x2="110.22" y2="426.70" stroke="#111" stroke-width="0.6"/>
<line x1="111.26" y1="425.20" x2="111.26" y2="426.70" stroke="#111" stroke-width="0.6"/>
<line x1="112.31" y1="425.20" x2="112.31" y2="426.70" stroke="#111" stroke-width="0.6"/>
<line x1="113.35" y1="425.20" x2="113.35" y2="428.00" stroke="#111" stroke-width="0.6"/>
<line x1="114.39" y1="425.20" x2="114.39" y2="426.70" stroke="#111" stroke-width="0.6"/>
<text x="50.80" y="438.80" font-size="7.4" text-anchor="middle" fill="#333">0</text>
<text x="67.48" y="438.80" font-size="7.4" text-anchor="middle" fill="#333">4</text>
<text x="84.16" y="438.80" font-size="7.4" text-anchor="middle" fill="#333">8</text>
<text x="100.84" y="438.80" font-size="7.4" text-anchor="middle" fill="#333">12</text>
<text x="43.40" y="363.00" font-size="7.0" text-anchor="end" fill="#333">14</text>
<text x="43.40" y="395.35" font-size="7.0" text-anchor="end" fill="#333">7</text>
<text x="43.40" y="427.50" font-size="7.0" text-anchor="end" fill="#333">0</text>
<text x="70.60" y="382.00" font-size="7.2" text-anchor="start" fill="#333" textLength="40.8" lengthAdjust="spacingAndGlyphs">G1: 38.24%</text>
<text x="74.20" y="390.00" font-size="7.2" text-anchor="start" fill="#333" textLength="37.5" lengthAdjust="spacingAndGlyphs" xml:space="preserve">S:  53.69%</text>
<text x="70.60" y="398.00" font-size="7.2" text-anchor="start" fill="#333" textLength="35.5" lengthAdjust="spacingAndGlyphs">G2: 8.07%</text>
<text x="170.00" y="350.80" font-size="10.1" text-anchor="middle" fill="#222" textLength="13.2" lengthAdjust="spacingAndGlyphs">CX</text>
<rect x="157.20" y="421.00" width="15.30" height="4.20" fill="#e4e6f3"/>
<line x1="157.20" y1="421.00" x2="172.50" y2="421.00" stroke="#7d92c8" stroke-width="0.9"/>
<line x1="155.70" y1="360.90" x2="155.70" y2="375.50" stroke="#a89090" stroke-width="1.1"/>
<polygon points="154.00,425.20 154.70,418.20 155.15,373.50 155.70,365.50 156.25,373.50 156.70,418.20 157.40,425.20" fill="#d8321c" stroke="none" stroke-width="1"/>
<polygon points="172.00,425.20 173.50,418.20 173.80,417.20 174.10,418.20 175.60,425.20" fill="#c8281c" stroke="none" stroke-width="1"/>
<line x1="173.80" y1="417.20" x2="173.80" y2="412.20" stroke="#a8a8a8" stroke-width="0.8"/>
<line x1="137.50" y1="359.60" x2="137.50" y2="425.80" stroke="#111" stroke-width="1.2"/>
<line x1="136.90" y1="425.20" x2="200.80" y2="425.20" stroke="#111" stroke-width="1.2"/>
<line x1="134.50" y1="425.20" x2="137.50" y2="425.20" stroke="#111" stroke-width="0.7"/>
<line x1="135.70" y1="420.61" x2="137.50" y2="420.61" stroke="#111" stroke-width="0.7"/>
<line x1="135.70" y1="416.01" x2="137.50" y2="416.01" stroke="#111" stroke-width="0.7"/>
<line x1="135.70" y1="411.42" x2="137.50" y2="411.42" stroke="#111" stroke-width="0.7"/>
<line x1="135.70" y1="406.83" x2="137.50" y2="406.83" stroke="#111" stroke-width="0.7"/>
<line x1="135.70" y1="402.24" x2="137.50" y2="402.24" stroke="#111" stroke-width="0.7"/>
<line x1="135.70" y1="397.64" x2="137.50" y2="397.64" stroke="#111" stroke-width="0.7"/>
<line x1="134.50" y1="393.05" x2="137.50" y2="393.05" stroke="#111" stroke-width="0.7"/>
<line x1="135.70" y1="388.46" x2="137.50" y2="388.46" stroke="#111" stroke-width="0.7"/>
<line x1="135.70" y1="383.86" x2="137.50" y2="383.86" stroke="#111" stroke-width="0.7"/>
<line x1="135.70" y1="379.27" x2="137.50" y2="379.27" stroke="#111" stroke-width="0.7"/>
<line x1="135.70" y1="374.68" x2="137.50" y2="374.68" stroke="#111" stroke-width="0.7"/>
<line x1="135.70" y1="370.09" x2="137.50" y2="370.09" stroke="#111" stroke-width="0.7"/>
<line x1="135.70" y1="365.49" x2="137.50" y2="365.49" stroke="#111" stroke-width="0.7"/>
<line x1="134.50" y1="360.90" x2="137.50" y2="360.90" stroke="#111" stroke-width="0.7"/>
<line x1="137.30" y1="425.20" x2="137.30" y2="428.00" stroke="#111" stroke-width="0.6"/>
<line x1="138.34" y1="425.20" x2="138.34" y2="426.70" stroke="#111" stroke-width="0.6"/>
<line x1="139.39" y1="425.20" x2="139.39" y2="426.70" stroke="#111" stroke-width="0.6"/>
<line x1="140.43" y1="425.20" x2="140.43" y2="426.70" stroke="#111" stroke-width="0.6"/>
<line x1="141.47" y1="425.20" x2="141.47" y2="428.00" stroke="#111" stroke-width="0.6"/>
<line x1="142.51" y1="425.20" x2="142.51" y2="426.70" stroke="#111" stroke-width="0.6"/>
<line x1="143.56" y1="425.20" x2="143.56" y2="426.70" stroke="#111" stroke-width="0.6"/>
<line x1="144.60" y1="425.20" x2="144.60" y2="426.70" stroke="#111" stroke-width="0.6"/>
<line x1="145.64" y1="425.20" x2="145.64" y2="428.00" stroke="#111" stroke-width="0.6"/>
<line x1="146.68" y1="425.20" x2="146.68" y2="426.70" stroke="#111" stroke-width="0.6"/>
<line x1="147.73" y1="425.20" x2="147.73" y2="426.70" stroke="#111" stroke-width="0.6"/>
<line x1="148.77" y1="425.20" x2="148.77" y2="426.70" stroke="#111" stroke-width="0.6"/>
<line x1="149.81" y1="425.20" x2="149.81" y2="428.00" stroke="#111" stroke-width="0.6"/>
<line x1="150.85" y1="425.20" x2="150.85" y2="426.70" stroke="#111" stroke-width="0.6"/>
<line x1="151.90" y1="425.20" x2="151.90" y2="426.70" stroke="#111" stroke-width="0.6"/>
<line x1="152.94" y1="425.20" x2="152.94" y2="426.70" stroke="#111" stroke-width="0.6"/>
<line x1="153.98" y1="425.20" x2="153.98" y2="428.00" stroke="#111" stroke-width="0.6"/>
<line x1="155.02" y1="425.20" x2="155.02" y2="426.70" stroke="#111" stroke-width="0.6"/>
<line x1="156.06" y1="425.20" x2="156.06" y2="426.70" stroke="#111" stroke-width="0.6"/>
<line x1="157.11" y1="425.20" x2="157.11" y2="426.70" stroke="#111" stroke-width="0.6"/>
<line x1="158.15" y1="425.20" x2="158.15" y2="428.00" stroke="#111" stroke-width="0.6"/>
<line x1="159.19" y1="425.20" x2="159.19" y2="426.70" stroke="#111" stroke-width="0.6"/>
<line x1="160.24" y1="425.20" x2="160.24" y2="426.70" stroke="#111" stroke-width="0.6"/>
<line x1="161.28" y1="425.20" x2="161.28" y2="426.70" stroke="#111" stroke-width="0.6"/>
<line x1="162.32" y1="425.20" x2="162.32" y2="428.00" stroke="#111" stroke-width="0.6"/>
<line x1="163.36" y1="425.20" x2="163.36" y2="426.70" stroke="#111" stroke-width="0.6"/>
<line x1="164.41" y1="425.20" x2="164.41" y2="426.70" stroke="#111" stroke-width="0.6"/>
<line x1="165.45" y1="425.20" x2="165.45" y2="426.70" stroke="#111" stroke-width="0.6"/>
<line x1="166.49" y1="425.20" x2="166.49" y2="428.00" stroke="#111" stroke-width="0.6"/>
<line x1="167.53" y1="425.20" x2="167.53" y2="426.70" stroke="#111" stroke-width="0.6"/>
<line x1="168.58" y1="425.20" x2="168.58" y2="426.70" stroke="#111" stroke-width="0.6"/>
<line x1="169.62" y1="425.20" x2="169.62" y2="426.70" stroke="#111" stroke-width="0.6"/>
<line x1="170.66" y1="425.20" x2="170.66" y2="428.00" stroke="#111" stroke-width="0.6"/>
<line x1="171.70" y1="425.20" x2="171.70" y2="426.70" stroke="#111" stroke-width="0.6"/>
<line x1="172.75" y1="425.20" x2="172.75" y2="426.70" stroke="#111" stroke-width="0.6"/>
<line x1="173.79" y1="425.20" x2="173.79" y2="426.70" stroke="#111" stroke-width="0.6"/>
<line x1="174.83" y1="425.20" x2="174.83" y2="428.00" stroke="#111" stroke-width="0.6"/>
<line x1="175.87" y1="425.20" x2="175.87" y2="426.70" stroke="#111" stroke-width="0.6"/>
<line x1="176.92" y1="425.20" x2="176.92" y2="426.70" stroke="#111" stroke-width="0.6"/>
<line x1="177.96" y1="425.20" x2="177.96" y2="426.70" stroke="#111" stroke-width="0.6"/>
<line x1="179.00" y1="425.20" x2="179.00" y2="428.00" stroke="#111" stroke-width="0.6"/>
<line x1="180.04" y1="425.20" x2="180.04" y2="426.70" stroke="#111" stroke-width="0.6"/>
<line x1="181.09" y1="425.20" x2="181.09" y2="426.70" stroke="#111" stroke-width="0.6"/>
<line x1="182.13" y1="425.20" x2="182.13" y2="426.70" stroke="#111" stroke-width="0.6"/>
<line x1="183.17" y1="425.20" x2="183.17" y2="428.00" stroke="#111" stroke-width="0.6"/>
<line x1="184.21" y1="425.20" x2="184.21" y2="426.70" stroke="#111" stroke-width="0.6"/>
<line x1="185.25" y1="425.20" x2="185.25" y2="426.70" stroke="#111" stroke-width="0.6"/>
<line x1="186.30" y1="425.20" x2="186.30" y2="426.70" stroke="#111" stroke-width="0.6"/>
<line x1="187.34" y1="425.20" x2="187.34" y2="428.00" stroke="#111" stroke-width="0.6"/>
<line x1="188.38" y1="425.20" x2="188.38" y2="426.70" stroke="#111" stroke-width="0.6"/>
<line x1="189.43" y1="425.20" x2="189.43" y2="426.70" stroke="#111" stroke-width="0.6"/>
<line x1="190.47" y1="425.20" x2="190.47" y2="426.70" stroke="#111" stroke-width="0.6"/>
<line x1="191.51" y1="425.20" x2="191.51" y2="428.00" stroke="#111" stroke-width="0.6"/>
<line x1="192.55" y1="425.20" x2="192.55" y2="426.70" stroke="#111" stroke-width="0.6"/>
<line x1="193.60" y1="425.20" x2="193.60" y2="426.70" stroke="#111" stroke-width="0.6"/>
<line x1="194.64" y1="425.20" x2="194.64" y2="426.70" stroke="#111" stroke-width="0.6"/>
<line x1="195.68" y1="425.20" x2="195.68" y2="428.00" stroke="#111" stroke-width="0.6"/>
<line x1="196.72" y1="425.20" x2="196.72" y2="426.70" stroke="#111" stroke-width="0.6"/>
<line x1="197.77" y1="425.20" x2="197.77" y2="426.70" stroke="#111" stroke-width="0.6"/>
<line x1="198.81" y1="425.20" x2="198.81" y2="426.70" stroke="#111" stroke-width="0.6"/>
<line x1="199.85" y1="425.20" x2="199.85" y2="428.00" stroke="#111" stroke-width="0.6"/>
<text x="137.30" y="438.80" font-size="7.4" text-anchor="middle" fill="#333">0</text>
<text x="153.98" y="438.80" font-size="7.4" text-anchor="middle" fill="#333">4</text>
<text x="170.66" y="438.80" font-size="7.4" text-anchor="middle" fill="#333">8</text>
<text x="187.34" y="438.80" font-size="7.4" text-anchor="middle" fill="#333">12</text>
<text x="129.90" y="363.00" font-size="7.0" text-anchor="end" fill="#333">15</text>
<text x="129.90" y="395.35" font-size="7.0" text-anchor="end" fill="#333">7.5</text>
<text x="129.90" y="427.50" font-size="7.0" text-anchor="end" fill="#333">0</text>
<text x="157.90" y="382.00" font-size="7.2" text-anchor="start" fill="#333" textLength="40.8" lengthAdjust="spacingAndGlyphs">G1: 50.05%</text>
<text x="161.50" y="390.00" font-size="7.2" text-anchor="start" fill="#333" textLength="37.5" lengthAdjust="spacingAndGlyphs" xml:space="preserve">S:  42.92%</text>
<text x="157.90" y="398.00" font-size="7.2" text-anchor="start" fill="#333" textLength="35.5" lengthAdjust="spacingAndGlyphs">G2: 7.03%</text>
<text x="255.60" y="350.80" font-size="10.1" text-anchor="middle" fill="#222" textLength="10.2" lengthAdjust="spacingAndGlyphs">OI</text>
<rect x="243.90" y="422.70" width="15.60" height="2.50" fill="#e4e6f3"/>
<line x1="243.90" y1="422.70" x2="259.50" y2="422.70" stroke="#7d92c8" stroke-width="0.9"/>
<line x1="242.40" y1="360.90" x2="242.40" y2="375.50" stroke="#a89090" stroke-width="1.1"/>
<polygon points="240.70,425.20 241.40,418.20 241.85,373.50 242.40,365.50 242.95,373.50 243.40,418.20 244.10,425.20" fill="#d8321c" stroke="none" stroke-width="1"/>
<polygon points="259.60,425.20 261.10,419.20 261.40,418.20 261.70,419.20 263.20,425.20" fill="#c8281c" stroke="none" stroke-width="1"/>
<line x1="261.40" y1="418.20" x2="261.40" y2="413.20" stroke="#a8a8a8" stroke-width="0.8"/>
<line x1="223.00" y1="359.60" x2="223.00" y2="425.80" stroke="#111" stroke-width="1.2"/>
<line x1="222.40" y1="425.20" x2="286.20" y2="425.20" stroke="#111" stroke-width="1.2"/>
<line x1="220.00" y1="425.20" x2="223.00" y2="425.20" stroke="#111" stroke-width="0.7"/>
<line x1="221.20" y1="420.61" x2="223.00" y2="420.61" stroke="#111" stroke-width="0.7"/>
<line x1="221.20" y1="416.01" x2="223.00" y2="416.01" stroke="#111" stroke-width="0.7"/>
<line x1="221.20" y1="411.42" x2="223.00" y2="411.42" stroke="#111" stroke-width="0.7"/>
<line x1="221.20" y1="406.83" x2="223.00" y2="406.83" stroke="#111" stroke-width="0.7"/>
<line x1="221.20" y1="402.24" x2="223.00" y2="402.24" stroke="#111" stroke-width="0.7"/>
<line x1="221.20" y1="397.64" x2="223.00" y2="397.64" stroke="#111" stroke-width="0.7"/>
<line x1="220.00" y1="393.05" x2="223.00" y2="393.05" stroke="#111" stroke-width="0.7"/>
<line x1="221.20" y1="388.46" x2="223.00" y2="388.46" stroke="#111" stroke-width="0.7"/>
<line x1="221.20" y1="383.86" x2="223.00" y2="383.86" stroke="#111" stroke-width="0.7"/>
<line x1="221.20" y1="379.27" x2="223.00" y2="379.27" stroke="#111" stroke-width="0.7"/>
<line x1="221.20" y1="374.68" x2="223.00" y2="374.68" stroke="#111" stroke-width="0.7"/>
<line x1="221.20" y1="370.09" x2="223.00" y2="370.09" stroke="#111" stroke-width="0.7"/>
<line x1="221.20" y1="365.49" x2="223.00" y2="365.49" stroke="#111" stroke-width="0.7"/>
<line x1="220.00" y1="360.90" x2="223.00" y2="360.90" stroke="#111" stroke-width="0.7"/>
<line x1="222.80" y1="425.20" x2="222.80" y2="428.00" stroke="#111" stroke-width="0.6"/>
<line x1="223.84" y1="425.20" x2="223.84" y2="426.70" stroke="#111" stroke-width="0.6"/>
<line x1="224.89" y1="425.20" x2="224.89" y2="426.70" stroke="#111" stroke-width="0.6"/>
<line x1="225.93" y1="425.20" x2="225.93" y2="426.70" stroke="#111" stroke-width="0.6"/>
<line x1="226.97" y1="425.20" x2="226.97" y2="428.00" stroke="#111" stroke-width="0.6"/>
<line x1="228.01" y1="425.20" x2="228.01" y2="426.70" stroke="#111" stroke-width="0.6"/>
<line x1="229.06" y1="425.20" x2="229.06" y2="426.70" stroke="#111" stroke-width="0.6"/>
<line x1="230.10" y1="425.20" x2="230.10" y2="426.70" stroke="#111" stroke-width="0.6"/>
<line x1="231.14" y1="425.20" x2="231.14" y2="428.00" stroke="#111" stroke-width="0.6"/>
<line x1="232.18" y1="425.20" x2="232.18" y2="426.70" stroke="#111" stroke-width="0.6"/>
<line x1="233.23" y1="425.20" x2="233.23" y2="426.70" stroke="#111" stroke-width="0.6"/>
<line x1="234.27" y1="425.20" x2="234.27" y2="426.70" stroke="#111" stroke-width="0.6"/>
<line x1="235.31" y1="425.20" x2="235.31" y2="428.00" stroke="#111" stroke-width="0.6"/>
<line x1="236.35" y1="425.20" x2="236.35" y2="426.70" stroke="#111" stroke-width="0.6"/>
<line x1="237.40" y1="425.20" x2="237.40" y2="426.70" stroke="#111" stroke-width="0.6"/>
<line x1="238.44" y1="425.20" x2="238.44" y2="426.70" stroke="#111" stroke-width="0.6"/>
<line x1="239.48" y1="425.20" x2="239.48" y2="428.00" stroke="#111" stroke-width="0.6"/>
<line x1="240.52" y1="425.20" x2="240.52" y2="426.70" stroke="#111" stroke-width="0.6"/>
<line x1="241.56" y1="425.20" x2="241.56" y2="426.70" stroke="#111" stroke-width="0.6"/>
<line x1="242.61" y1="425.20" x2="242.61" y2="426.70" stroke="#111" stroke-width="0.6"/>
<line x1="243.65" y1="425.20" x2="243.65" y2="428.00" stroke="#111" stroke-width="0.6"/>
<line x1="244.69" y1="425.20" x2="244.69" y2="426.70" stroke="#111" stroke-width="0.6"/>
<line x1="245.74" y1="425.20" x2="245.74" y2="426.70" stroke="#111" stroke-width="0.6"/>
<line x1="246.78" y1="425.20" x2="246.78" y2="426.70" stroke="#111" stroke-width="0.6"/>
<line x1="247.82" y1="425.20" x2="247.82" y2="428.00" stroke="#111" stroke-width="0.6"/>
<line x1="248.86" y1="425.20" x2="248.86" y2="426.70" stroke="#111" stroke-width="0.6"/>
<line x1="249.91" y1="425.20" x2="249.91" y2="426.70" stroke="#111" stroke-width="0.6"/>
<line x1="250.95" y1="425.20" x2="250.95" y2="426.70" stroke="#111" stroke-width="0.6"/>
<line x1="251.99" y1="425.20" x2="251.99" y2="428.00" stroke="#111" stroke-width="0.6"/>
<line x1="253.03" y1="425.20" x2="253.03" y2="426.70" stroke="#111" stroke-width="0.6"/>
<line x1="254.08" y1="425.20" x2="254.08" y2="426.70" stroke="#111" stroke-width="0.6"/>
<line x1="255.12" y1="425.20" x2="255.12" y2="426.70" stroke="#111" stroke-width="0.6"/>
<line x1="256.16" y1="425.20" x2="256.16" y2="428.00" stroke="#111" stroke-width="0.6"/>
<line x1="257.20" y1="425.20" x2="257.20" y2="426.70" stroke="#111" stroke-width="0.6"/>
<line x1="258.25" y1="425.20" x2="258.25" y2="426.70" stroke="#111" stroke-width="0.6"/>
<line x1="259.29" y1="425.20" x2="259.29" y2="426.70" stroke="#111" stroke-width="0.6"/>
<line x1="260.33" y1="425.20" x2="260.33" y2="428.00" stroke="#111" stroke-width="0.6"/>
<line x1="261.37" y1="425.20" x2="261.37" y2="426.70" stroke="#111" stroke-width="0.6"/>
<line x1="262.42" y1="425.20" x2="262.42" y2="426.70" stroke="#111" stroke-width="0.6"/>
<line x1="263.46" y1="425.20" x2="263.46" y2="426.70" stroke="#111" stroke-width="0.6"/>
<line x1="264.50" y1="425.20" x2="264.50" y2="428.00" stroke="#111" stroke-width="0.6"/>
<line x1="265.54" y1="425.20" x2="265.54" y2="426.70" stroke="#111" stroke-width="0.6"/>
<line x1="266.59" y1="425.20" x2="266.59" y2="426.70" stroke="#111" stroke-width="0.6"/>
<line x1="267.63" y1="425.20" x2="267.63" y2="426.70" stroke="#111" stroke-width="0.6"/>
<line x1="268.67" y1="425.20" x2="268.67" y2="428.00" stroke="#111" stroke-width="0.6"/>
<line x1="269.71" y1="425.20" x2="269.71" y2="426.70" stroke="#111" stroke-width="0.6"/>
<line x1="270.75" y1="425.20" x2="270.75" y2="426.70" stroke="#111" stroke-width="0.6"/>
<line x1="271.80" y1="425.20" x2="271.80" y2="426.70" stroke="#111" stroke-width="0.6"/>
<line x1="272.84" y1="425.20" x2="272.84" y2="428.00" stroke="#111" stroke-width="0.6"/>
<line x1="273.88" y1="425.20" x2="273.88" y2="426.70" stroke="#111" stroke-width="0.6"/>
<line x1="274.93" y1="425.20" x2="274.93" y2="426.70" stroke="#111" stroke-width="0.6"/>
<line x1="275.97" y1="425.20" x2="275.97" y2="426.70" stroke="#111" stroke-width="0.6"/>
<line x1="277.01" y1="425.20" x2="277.01" y2="428.00" stroke="#111" stroke-width="0.6"/>
<line x1="278.05" y1="425.20" x2="278.05" y2="426.70" stroke="#111" stroke-width="0.6"/>
<line x1="279.10" y1="425.20" x2="279.10" y2="426.70" stroke="#111" stroke-width="0.6"/>
<line x1="280.14" y1="425.20" x2="280.14" y2="426.70" stroke="#111" stroke-width="0.6"/>
<line x1="281.18" y1="425.20" x2="281.18" y2="428.00" stroke="#111" stroke-width="0.6"/>
<line x1="282.22" y1="425.20" x2="282.22" y2="426.70" stroke="#111" stroke-width="0.6"/>
<line x1="283.26" y1="425.20" x2="283.26" y2="426.70" stroke="#111" stroke-width="0.6"/>
<line x1="284.31" y1="425.20" x2="284.31" y2="426.70" stroke="#111" stroke-width="0.6"/>
<line x1="285.35" y1="425.20" x2="285.35" y2="428.00" stroke="#111" stroke-width="0.6"/>
<text x="222.80" y="438.80" font-size="7.4" text-anchor="middle" fill="#333">0</text>
<text x="239.48" y="438.80" font-size="7.4" text-anchor="middle" fill="#333">4</text>
<text x="256.16" y="438.80" font-size="7.4" text-anchor="middle" fill="#333">8</text>
<text x="272.84" y="438.80" font-size="7.4" text-anchor="middle" fill="#333">12</text>
<text x="215.40" y="363.00" font-size="7.0" text-anchor="end" fill="#333">18</text>
<text x="215.40" y="395.35" font-size="7.0" text-anchor="end" fill="#333">9</text>
<text x="215.40" y="427.50" font-size="7.0" text-anchor="end" fill="#333">0</text>
<text x="243.60" y="382.00" font-size="7.2" text-anchor="start" fill="#333" textLength="40.8" lengthAdjust="spacingAndGlyphs">G1: 57.45%</text>
<text x="247.20" y="390.00" font-size="7.2" text-anchor="start" fill="#333" textLength="37.5" lengthAdjust="spacingAndGlyphs" xml:space="preserve">S:  35.56%</text>
<text x="243.60" y="398.00" font-size="7.2" text-anchor="start" fill="#333" textLength="35.5" lengthAdjust="spacingAndGlyphs">G2: 6.99%</text>
<text x="341.50" y="350.80" font-size="10.1" text-anchor="middle" fill="#222" textLength="31.5" lengthAdjust="spacingAndGlyphs">CX+OI</text>
<line x1="328.70" y1="360.90" x2="328.70" y2="375.50" stroke="#a89090" stroke-width="1.1"/>
<polygon points="327.00,425.20 327.70,418.20 328.15,373.50 328.70,365.50 329.25,373.50 329.70,418.20 330.40,425.20" fill="#d8321c" stroke="none" stroke-width="1"/>
<polyline points="331.70,424.70 336.70,423.70 344.70,423.20 348.70,421.70 351.70,424.70" fill="none" stroke="#b8b8b8" stroke-width="1.2"/>
<line x1="310.10" y1="359.60" x2="310.10" y2="425.80" stroke="#111" stroke-width="1.2"/>
<line x1="309.50" y1="425.20" x2="372.80" y2="425.20" stroke="#111" stroke-width="1.2"/>
<line x1="307.10" y1="425.20" x2="310.10" y2="425.20" stroke="#111" stroke-width="0.7"/>
<line x1="308.30" y1="420.61" x2="310.10" y2="420.61" stroke="#111" stroke-width="0.7"/>
<line x1="308.30" y1="416.01" x2="310.10" y2="416.01" stroke="#111" stroke-width="0.7"/>
<line x1="308.30" y1="411.42" x2="310.10" y2="411.42" stroke="#111" stroke-width="0.7"/>
<line x1="308.30" y1="406.83" x2="310.10" y2="406.83" stroke="#111" stroke-width="0.7"/>
<line x1="308.30" y1="402.24" x2="310.10" y2="402.24" stroke="#111" stroke-width="0.7"/>
<line x1="308.30" y1="397.64" x2="310.10" y2="397.64" stroke="#111" stroke-width="0.7"/>
<line x1="307.10" y1="393.05" x2="310.10" y2="393.05" stroke="#111" stroke-width="0.7"/>
<line x1="308.30" y1="388.46" x2="310.10" y2="388.46" stroke="#111" stroke-width="0.7"/>
<line x1="308.30" y1="383.86" x2="310.10" y2="383.86" stroke="#111" stroke-width="0.7"/>
<line x1="308.30" y1="379.27" x2="310.10" y2="379.27" stroke="#111" stroke-width="0.7"/>
<line x1="308.30" y1="374.68" x2="310.10" y2="374.68" stroke="#111" stroke-width="0.7"/>
<line x1="308.30" y1="370.09" x2="310.10" y2="370.09" stroke="#111" stroke-width="0.7"/>
<line x1="308.30" y1="365.49" x2="310.10" y2="365.49" stroke="#111" stroke-width="0.7"/>
<line x1="307.10" y1="360.90" x2="310.10" y2="360.90" stroke="#111" stroke-width="0.7"/>
<line x1="309.90" y1="425.20" x2="309.90" y2="428.00" stroke="#111" stroke-width="0.6"/>
<line x1="310.94" y1="425.20" x2="310.94" y2="426.70" stroke="#111" stroke-width="0.6"/>
<line x1="311.99" y1="425.20" x2="311.99" y2="426.70" stroke="#111" stroke-width="0.6"/>
<line x1="313.03" y1="425.20" x2="313.03" y2="426.70" stroke="#111" stroke-width="0.6"/>
<line x1="314.07" y1="425.20" x2="314.07" y2="428.00" stroke="#111" stroke-width="0.6"/>
<line x1="315.11" y1="425.20" x2="315.11" y2="426.70" stroke="#111" stroke-width="0.6"/>
<line x1="316.16" y1="425.20" x2="316.16" y2="426.70" stroke="#111" stroke-width="0.6"/>
<line x1="317.20" y1="425.20" x2="317.20" y2="426.70" stroke="#111" stroke-width="0.6"/>
<line x1="318.24" y1="425.20" x2="318.24" y2="428.00" stroke="#111" stroke-width="0.6"/>
<line x1="319.28" y1="425.20" x2="319.28" y2="426.70" stroke="#111" stroke-width="0.6"/>
<line x1="320.33" y1="425.20" x2="320.33" y2="426.70" stroke="#111" stroke-width="0.6"/>
<line x1="321.37" y1="425.20" x2="321.37" y2="426.70" stroke="#111" stroke-width="0.6"/>
<line x1="322.41" y1="425.20" x2="322.41" y2="428.00" stroke="#111" stroke-width="0.6"/>
<line x1="323.45" y1="425.20" x2="323.45" y2="426.70" stroke="#111" stroke-width="0.6"/>
<line x1="324.50" y1="425.20" x2="324.50" y2="426.70" stroke="#111" stroke-width="0.6"/>
<line x1="325.54" y1="425.20" x2="325.54" y2="426.70" stroke="#111" stroke-width="0.6"/>
<line x1="326.58" y1="425.20" x2="326.58" y2="428.00" stroke="#111" stroke-width="0.6"/>
<line x1="327.62" y1="425.20" x2="327.62" y2="426.70" stroke="#111" stroke-width="0.6"/>
<line x1="328.67" y1="425.20" x2="328.67" y2="426.70" stroke="#111" stroke-width="0.6"/>
<line x1="329.71" y1="425.20" x2="329.71" y2="426.70" stroke="#111" stroke-width="0.6"/>
<line x1="330.75" y1="425.20" x2="330.75" y2="428.00" stroke="#111" stroke-width="0.6"/>
<line x1="331.79" y1="425.20" x2="331.79" y2="426.70" stroke="#111" stroke-width="0.6"/>
<line x1="332.84" y1="425.20" x2="332.84" y2="426.70" stroke="#111" stroke-width="0.6"/>
<line x1="333.88" y1="425.20" x2="333.88" y2="426.70" stroke="#111" stroke-width="0.6"/>
<line x1="334.92" y1="425.20" x2="334.92" y2="428.00" stroke="#111" stroke-width="0.6"/>
<line x1="335.96" y1="425.20" x2="335.96" y2="426.70" stroke="#111" stroke-width="0.6"/>
<line x1="337.01" y1="425.20" x2="337.01" y2="426.70" stroke="#111" stroke-width="0.6"/>
<line x1="338.05" y1="425.20" x2="338.05" y2="426.70" stroke="#111" stroke-width="0.6"/>
<line x1="339.09" y1="425.20" x2="339.09" y2="428.00" stroke="#111" stroke-width="0.6"/>
<line x1="340.13" y1="425.20" x2="340.13" y2="426.70" stroke="#111" stroke-width="0.6"/>
<line x1="341.18" y1="425.20" x2="341.18" y2="426.70" stroke="#111" stroke-width="0.6"/>
<line x1="342.22" y1="425.20" x2="342.22" y2="426.70" stroke="#111" stroke-width="0.6"/>
<line x1="343.26" y1="425.20" x2="343.26" y2="428.00" stroke="#111" stroke-width="0.6"/>
<line x1="344.30" y1="425.20" x2="344.30" y2="426.70" stroke="#111" stroke-width="0.6"/>
<line x1="345.35" y1="425.20" x2="345.35" y2="426.70" stroke="#111" stroke-width="0.6"/>
<line x1="346.39" y1="425.20" x2="346.39" y2="426.70" stroke="#111" stroke-width="0.6"/>
<line x1="347.43" y1="425.20" x2="347.43" y2="428.00" stroke="#111" stroke-width="0.6"/>
<line x1="348.47" y1="425.20" x2="348.47" y2="426.70" stroke="#111" stroke-width="0.6"/>
<line x1="349.52" y1="425.20" x2="349.52" y2="426.70" stroke="#111" stroke-width="0.6"/>
<line x1="350.56" y1="425.20" x2="350.56" y2="426.70" stroke="#111" stroke-width="0.6"/>
<line x1="351.60" y1="425.20" x2="351.60" y2="428.00" stroke="#111" stroke-width="0.6"/>
<line x1="352.64" y1="425.20" x2="352.64" y2="426.70" stroke="#111" stroke-width="0.6"/>
<line x1="353.69" y1="425.20" x2="353.69" y2="426.70" stroke="#111" stroke-width="0.6"/>
<line x1="354.73" y1="425.20" x2="354.73" y2="426.70" stroke="#111" stroke-width="0.6"/>
<line x1="355.77" y1="425.20" x2="355.77" y2="428.00" stroke="#111" stroke-width="0.6"/>
<line x1="356.81" y1="425.20" x2="356.81" y2="426.70" stroke="#111" stroke-width="0.6"/>
<line x1="357.86" y1="425.20" x2="357.86" y2="426.70" stroke="#111" stroke-width="0.6"/>
<line x1="358.90" y1="425.20" x2="358.90" y2="426.70" stroke="#111" stroke-width="0.6"/>
<line x1="359.94" y1="425.20" x2="359.94" y2="428.00" stroke="#111" stroke-width="0.6"/>
<line x1="360.98" y1="425.20" x2="360.98" y2="426.70" stroke="#111" stroke-width="0.6"/>
<line x1="362.03" y1="425.20" x2="362.03" y2="426.70" stroke="#111" stroke-width="0.6"/>
<line x1="363.07" y1="425.20" x2="363.07" y2="426.70" stroke="#111" stroke-width="0.6"/>
<line x1="364.11" y1="425.20" x2="364.11" y2="428.00" stroke="#111" stroke-width="0.6"/>
<line x1="365.15" y1="425.20" x2="365.15" y2="426.70" stroke="#111" stroke-width="0.6"/>
<line x1="366.20" y1="425.20" x2="366.20" y2="426.70" stroke="#111" stroke-width="0.6"/>
<line x1="367.24" y1="425.20" x2="367.24" y2="426.70" stroke="#111" stroke-width="0.6"/>
<line x1="368.28" y1="425.20" x2="368.28" y2="428.00" stroke="#111" stroke-width="0.6"/>
<line x1="369.32" y1="425.20" x2="369.32" y2="426.70" stroke="#111" stroke-width="0.6"/>
<line x1="370.37" y1="425.20" x2="370.37" y2="426.70" stroke="#111" stroke-width="0.6"/>
<line x1="371.41" y1="425.20" x2="371.41" y2="426.70" stroke="#111" stroke-width="0.6"/>
<line x1="372.45" y1="425.20" x2="372.45" y2="428.00" stroke="#111" stroke-width="0.6"/>
<text x="309.90" y="438.80" font-size="7.4" text-anchor="middle" fill="#333">0</text>
<text x="326.58" y="438.80" font-size="7.4" text-anchor="middle" fill="#333">4</text>
<text x="343.26" y="438.80" font-size="7.4" text-anchor="middle" fill="#333">8</text>
<text x="359.94" y="438.80" font-size="7.4" text-anchor="middle" fill="#333">12</text>
<text x="302.50" y="363.00" font-size="7.0" text-anchor="end" fill="#333">12</text>
<text x="302.50" y="395.35" font-size="7.0" text-anchor="end" fill="#333">6</text>
<text x="302.50" y="427.50" font-size="7.0" text-anchor="end" fill="#333">0</text>
<text x="329.70" y="382.00" font-size="7.2" text-anchor="start" fill="#333" textLength="40.8" lengthAdjust="spacingAndGlyphs">G1: 68.77%</text>
<text x="333.30" y="390.00" font-size="7.2" text-anchor="start" fill="#333" textLength="37.5" lengthAdjust="spacingAndGlyphs" xml:space="preserve">S:  26.94%</text>
<text x="329.70" y="398.00" font-size="7.2" text-anchor="start" fill="#333" textLength="35.5" lengthAdjust="spacingAndGlyphs">G2: 4.29%</text>
<text x="11.67" y="491.40" font-size="14.2" text-anchor="start" font-weight="bold" fill="#111" textLength="4.35" lengthAdjust="spacingAndGlyphs">I</text>
<line x1="29.60" y1="511.60" x2="29.60" y2="599.80" stroke="#111" stroke-width="1.3"/>
<line x1="29.00" y1="599.80" x2="373.00" y2="599.80" stroke="#111" stroke-width="1.4"/>
<polygon points="29.60,504.80 26.30,513.20 29.60,511.80 32.90,513.20" fill="#111" stroke="none" stroke-width="1"/>
<polygon points="378.80,599.80 369.60,596.30 371.20,599.80 369.60,603.30" fill="#111" stroke="none" stroke-width="1"/>
<text x="22.40" y="550.20" font-size="9" text-anchor="middle" fill="#333" textLength="60" lengthAdjust="spacingAndGlyphs" transform="rotate(-90 22.40 550.20)">Number (× 10<tspan dy="-3" font-size="6">2</tspan><tspan dy="3">)</tspan></text>
<text x="201.00" y="614.80" font-size="8.4" text-anchor="middle" fill="#333">PI (× 10<tspan dy="-3" font-size="5.5">2</tspan><tspan dy="3">)</tspan></text>
<text x="82.50" y="506.40" font-size="10.1" text-anchor="middle" fill="#222" textLength="32" lengthAdjust="spacingAndGlyphs">DMSO</text>
<rect x="70.20" y="574.50" width="13.80" height="6.30" fill="#e4e6f3"/>
<line x1="70.20" y1="574.50" x2="84.00" y2="574.50" stroke="#7d92c8" stroke-width="0.9"/>
<line x1="68.70" y1="516.50" x2="68.70" y2="531.10" stroke="#a89090" stroke-width="1.1"/>
<polygon points="67.00,580.80 67.70,573.80 68.15,529.10 68.70,521.10 69.25,529.10 69.70,573.80 70.40,580.80" fill="#d8321c" stroke="none" stroke-width="1"/>
<polygon points="84.00,580.80 85.50,570.80 85.80,569.80 86.10,570.80 87.60,580.80" fill="#c8281c" stroke="none" stroke-width="1"/>
<line x1="85.80" y1="569.80" x2="85.80" y2="564.80" stroke="#a8a8a8" stroke-width="0.8"/>
<line x1="51.00" y1="515.20" x2="51.00" y2="581.40" stroke="#111" stroke-width="1.2"/>
<line x1="50.40" y1="580.80" x2="114.80" y2="580.80" stroke="#111" stroke-width="1.2"/>
<line x1="48.00" y1="580.80" x2="51.00" y2="580.80" stroke="#111" stroke-width="0.7"/>
<line x1="49.20" y1="576.21" x2="51.00" y2="576.21" stroke="#111" stroke-width="0.7"/>
<line x1="49.20" y1="571.61" x2="51.00" y2="571.61" stroke="#111" stroke-width="0.7"/>
<line x1="49.20" y1="567.02" x2="51.00" y2="567.02" stroke="#111" stroke-width="0.7"/>
<line x1="49.20" y1="562.43" x2="51.00" y2="562.43" stroke="#111" stroke-width="0.7"/>
<line x1="49.20" y1="557.84" x2="51.00" y2="557.84" stroke="#111" stroke-width="0.7"/>
<line x1="49.20" y1="553.24" x2="51.00" y2="553.24" stroke="#111" stroke-width="0.7"/>
<line x1="48.00" y1="548.65" x2="51.00" y2="548.65" stroke="#111" stroke-width="0.7"/>
<line x1="49.20" y1="544.06" x2="51.00" y2="544.06" stroke="#111" stroke-width="0.7"/>
<line x1="49.20" y1="539.46" x2="51.00" y2="539.46" stroke="#111" stroke-width="0.7"/>
<line x1="49.20" y1="534.87" x2="51.00" y2="534.87" stroke="#111" stroke-width="0.7"/>
<line x1="49.20" y1="530.28" x2="51.00" y2="530.28" stroke="#111" stroke-width="0.7"/>
<line x1="49.20" y1="525.69" x2="51.00" y2="525.69" stroke="#111" stroke-width="0.7"/>
<line x1="49.20" y1="521.09" x2="51.00" y2="521.09" stroke="#111" stroke-width="0.7"/>
<line x1="48.00" y1="516.50" x2="51.00" y2="516.50" stroke="#111" stroke-width="0.7"/>
<line x1="50.80" y1="580.80" x2="50.80" y2="583.60" stroke="#111" stroke-width="0.6"/>
<line x1="51.84" y1="580.80" x2="51.84" y2="582.30" stroke="#111" stroke-width="0.6"/>
<line x1="52.88" y1="580.80" x2="52.88" y2="582.30" stroke="#111" stroke-width="0.6"/>
<line x1="53.93" y1="580.80" x2="53.93" y2="582.30" stroke="#111" stroke-width="0.6"/>
<line x1="54.97" y1="580.80" x2="54.97" y2="583.60" stroke="#111" stroke-width="0.6"/>
<line x1="56.01" y1="580.80" x2="56.01" y2="582.30" stroke="#111" stroke-width="0.6"/>
<line x1="57.05" y1="580.80" x2="57.05" y2="582.30" stroke="#111" stroke-width="0.6"/>
<line x1="58.10" y1="580.80" x2="58.10" y2="582.30" stroke="#111" stroke-width="0.6"/>
<line x1="59.14" y1="580.80" x2="59.14" y2="583.60" stroke="#111" stroke-width="0.6"/>
<line x1="60.18" y1="580.80" x2="60.18" y2="582.30" stroke="#111" stroke-width="0.6"/>
<line x1="61.22" y1="580.80" x2="61.22" y2="582.30" stroke="#111" stroke-width="0.6"/>
<line x1="62.27" y1="580.80" x2="62.27" y2="582.30" stroke="#111" stroke-width="0.6"/>
<line x1="63.31" y1="580.80" x2="63.31" y2="583.60" stroke="#111" stroke-width="0.6"/>
<line x1="64.35" y1="580.80" x2="64.35" y2="582.30" stroke="#111" stroke-width="0.6"/>
<line x1="65.39" y1="580.80" x2="65.39" y2="582.30" stroke="#111" stroke-width="0.6"/>
<line x1="66.44" y1="580.80" x2="66.44" y2="582.30" stroke="#111" stroke-width="0.6"/>
<line x1="67.48" y1="580.80" x2="67.48" y2="583.60" stroke="#111" stroke-width="0.6"/>
<line x1="68.52" y1="580.80" x2="68.52" y2="582.30" stroke="#111" stroke-width="0.6"/>
<line x1="69.56" y1="580.80" x2="69.56" y2="582.30" stroke="#111" stroke-width="0.6"/>
<line x1="70.61" y1="580.80" x2="70.61" y2="582.30" stroke="#111" stroke-width="0.6"/>
<line x1="71.65" y1="580.80" x2="71.65" y2="583.60" stroke="#111" stroke-width="0.6"/>
<line x1="72.69" y1="580.80" x2="72.69" y2="582.30" stroke="#111" stroke-width="0.6"/>
<line x1="73.73" y1="580.80" x2="73.73" y2="582.30" stroke="#111" stroke-width="0.6"/>
<line x1="74.78" y1="580.80" x2="74.78" y2="582.30" stroke="#111" stroke-width="0.6"/>
<line x1="75.82" y1="580.80" x2="75.82" y2="583.60" stroke="#111" stroke-width="0.6"/>
<line x1="76.86" y1="580.80" x2="76.86" y2="582.30" stroke="#111" stroke-width="0.6"/>
<line x1="77.91" y1="580.80" x2="77.91" y2="582.30" stroke="#111" stroke-width="0.6"/>
<line x1="78.95" y1="580.80" x2="78.95" y2="582.30" stroke="#111" stroke-width="0.6"/>
<line x1="79.99" y1="580.80" x2="79.99" y2="583.60" stroke="#111" stroke-width="0.6"/>
<line x1="81.03" y1="580.80" x2="81.03" y2="582.30" stroke="#111" stroke-width="0.6"/>
<line x1="82.07" y1="580.80" x2="82.07" y2="582.30" stroke="#111" stroke-width="0.6"/>
<line x1="83.12" y1="580.80" x2="83.12" y2="582.30" stroke="#111" stroke-width="0.6"/>
<line x1="84.16" y1="580.80" x2="84.16" y2="583.60" stroke="#111" stroke-width="0.6"/>
<line x1="85.20" y1="580.80" x2="85.20" y2="582.30" stroke="#111" stroke-width="0.6"/>
<line x1="86.25" y1="580.80" x2="86.25" y2="582.30" stroke="#111" stroke-width="0.6"/>
<line x1="87.29" y1="580.80" x2="87.29" y2="582.30" stroke="#111" stroke-width="0.6"/>
<line x1="88.33" y1="580.80" x2="88.33" y2="583.60" stroke="#111" stroke-width="0.6"/>
<line x1="89.37" y1="580.80" x2="89.37" y2="582.30" stroke="#111" stroke-width="0.6"/>
<line x1="90.41" y1="580.80" x2="90.41" y2="582.30" stroke="#111" stroke-width="0.6"/>
<line x1="91.46" y1="580.80" x2="91.46" y2="582.30" stroke="#111" stroke-width="0.6"/>
<line x1="92.50" y1="580.80" x2="92.50" y2="583.60" stroke="#111" stroke-width="0.6"/>
<line x1="93.54" y1="580.80" x2="93.54" y2="582.30" stroke="#111" stroke-width="0.6"/>
<line x1="94.58" y1="580.80" x2="94.58" y2="582.30" stroke="#111" stroke-width="0.6"/>
<line x1="95.63" y1="580.80" x2="95.63" y2="582.30" stroke="#111" stroke-width="0.6"/>
<line x1="96.67" y1="580.80" x2="96.67" y2="583.60" stroke="#111" stroke-width="0.6"/>
<line x1="97.71" y1="580.80" x2="97.71" y2="582.30" stroke="#111" stroke-width="0.6"/>
<line x1="98.75" y1="580.80" x2="98.75" y2="582.30" stroke="#111" stroke-width="0.6"/>
<line x1="99.80" y1="580.80" x2="99.80" y2="582.30" stroke="#111" stroke-width="0.6"/>
<line x1="100.84" y1="580.80" x2="100.84" y2="583.60" stroke="#111" stroke-width="0.6"/>
<line x1="101.88" y1="580.80" x2="101.88" y2="582.30" stroke="#111" stroke-width="0.6"/>
<line x1="102.92" y1="580.80" x2="102.92" y2="582.30" stroke="#111" stroke-width="0.6"/>
<line x1="103.97" y1="580.80" x2="103.97" y2="582.30" stroke="#111" stroke-width="0.6"/>
<line x1="105.01" y1="580.80" x2="105.01" y2="583.60" stroke="#111" stroke-width="0.6"/>
<line x1="106.05" y1="580.80" x2="106.05" y2="582.30" stroke="#111" stroke-width="0.6"/>
<line x1="107.09" y1="580.80" x2="107.09" y2="582.30" stroke="#111" stroke-width="0.6"/>
<line x1="108.14" y1="580.80" x2="108.14" y2="582.30" stroke="#111" stroke-width="0.6"/>
<line x1="109.18" y1="580.80" x2="109.18" y2="583.60" stroke="#111" stroke-width="0.6"/>
<line x1="110.22" y1="580.80" x2="110.22" y2="582.30" stroke="#111" stroke-width="0.6"/>
<line x1="111.26" y1="580.80" x2="111.26" y2="582.30" stroke="#111" stroke-width="0.6"/>
<line x1="112.31" y1="580.80" x2="112.31" y2="582.30" stroke="#111" stroke-width="0.6"/>
<line x1="113.35" y1="580.80" x2="113.35" y2="583.60" stroke="#111" stroke-width="0.6"/>
<line x1="114.39" y1="580.80" x2="114.39" y2="582.30" stroke="#111" stroke-width="0.6"/>
<text x="50.80" y="594.40" font-size="7.4" text-anchor="middle" fill="#333">0</text>
<text x="67.48" y="594.40" font-size="7.4" text-anchor="middle" fill="#333">4</text>
<text x="84.16" y="594.40" font-size="7.4" text-anchor="middle" fill="#333">8</text>
<text x="100.84" y="594.40" font-size="7.4" text-anchor="middle" fill="#333">12</text>
<text x="43.40" y="518.60" font-size="7.0" text-anchor="end" fill="#333">12</text>
<text x="43.40" y="550.95" font-size="7.0" text-anchor="end" fill="#333">6</text>
<text x="43.40" y="583.10" font-size="7.0" text-anchor="end" fill="#333">0</text>
<text x="70.60" y="537.60" font-size="7.2" text-anchor="start" fill="#333" textLength="40.8" lengthAdjust="spacingAndGlyphs">G1: 35.85%</text>
<text x="74.20" y="545.60" font-size="7.2" text-anchor="start" fill="#333" textLength="37.5" lengthAdjust="spacingAndGlyphs" xml:space="preserve">S:  54.13%</text>
<text x="70.60" y="553.60" font-size="7.2" text-anchor="start" fill="#333" textLength="40.8" lengthAdjust="spacingAndGlyphs">G2: 10.02%</text>
<text x="170.00" y="506.40" font-size="10.1" text-anchor="middle" fill="#222" textLength="13.2" lengthAdjust="spacingAndGlyphs">CX</text>
<rect x="157.20" y="576.60" width="15.30" height="4.20" fill="#e4e6f3"/>
<line x1="157.20" y1="576.60" x2="172.50" y2="576.60" stroke="#7d92c8" stroke-width="0.9"/>
<line x1="155.70" y1="516.50" x2="155.70" y2="531.10" stroke="#a89090" stroke-width="1.1"/>
<polygon points="154.00,580.80 154.70,573.80 155.15,529.10 155.70,521.10 156.25,529.10 156.70,573.80 157.40,580.80" fill="#d8321c" stroke="none" stroke-width="1"/>
<polygon points="172.00,580.80 173.50,572.80 173.80,571.80 174.10,572.80 175.60,580.80" fill="#c8281c" stroke="none" stroke-width="1"/>
<line x1="173.80" y1="571.80" x2="173.80" y2="566.80" stroke="#a8a8a8" stroke-width="0.8"/>
<line x1="137.50" y1="515.20" x2="137.50" y2="581.40" stroke="#111" stroke-width="1.2"/>
<line x1="136.90" y1="580.80" x2="200.80" y2="580.80" stroke="#111" stroke-width="1.2"/>
<line x1="134.50" y1="580.80" x2="137.50" y2="580.80" stroke="#111" stroke-width="0.7"/>
<line x1="135.70" y1="576.21" x2="137.50" y2="576.21" stroke="#111" stroke-width="0.7"/>
<line x1="135.70" y1="571.61" x2="137.50" y2="571.61" stroke="#111" stroke-width="0.7"/>
<line x1="135.70" y1="567.02" x2="137.50" y2="567.02" stroke="#111" stroke-width="0.7"/>
<line x1="135.70" y1="562.43" x2="137.50" y2="562.43" stroke="#111" stroke-width="0.7"/>
<line x1="135.70" y1="557.84" x2="137.50" y2="557.84" stroke="#111" stroke-width="0.7"/>
<line x1="135.70" y1="553.24" x2="137.50" y2="553.24" stroke="#111" stroke-width="0.7"/>
<line x1="134.50" y1="548.65" x2="137.50" y2="548.65" stroke="#111" stroke-width="0.7"/>
<line x1="135.70" y1="544.06" x2="137.50" y2="544.06" stroke="#111" stroke-width="0.7"/>
<line x1="135.70" y1="539.46" x2="137.50" y2="539.46" stroke="#111" stroke-width="0.7"/>
<line x1="135.70" y1="534.87" x2="137.50" y2="534.87" stroke="#111" stroke-width="0.7"/>
<line x1="135.70" y1="530.28" x2="137.50" y2="530.28" stroke="#111" stroke-width="0.7"/>
<line x1="135.70" y1="525.69" x2="137.50" y2="525.69" stroke="#111" stroke-width="0.7"/>
<line x1="135.70" y1="521.09" x2="137.50" y2="521.09" stroke="#111" stroke-width="0.7"/>
<line x1="134.50" y1="516.50" x2="137.50" y2="516.50" stroke="#111" stroke-width="0.7"/>
<line x1="137.30" y1="580.80" x2="137.30" y2="583.60" stroke="#111" stroke-width="0.6"/>
<line x1="138.34" y1="580.80" x2="138.34" y2="582.30" stroke="#111" stroke-width="0.6"/>
<line x1="139.39" y1="580.80" x2="139.39" y2="582.30" stroke="#111" stroke-width="0.6"/>
<line x1="140.43" y1="580.80" x2="140.43" y2="582.30" stroke="#111" stroke-width="0.6"/>
<line x1="141.47" y1="580.80" x2="141.47" y2="583.60" stroke="#111" stroke-width="0.6"/>
<line x1="142.51" y1="580.80" x2="142.51" y2="582.30" stroke="#111" stroke-width="0.6"/>
<line x1="143.56" y1="580.80" x2="143.56" y2="582.30" stroke="#111" stroke-width="0.6"/>
<line x1="144.60" y1="580.80" x2="144.60" y2="582.30" stroke="#111" stroke-width="0.6"/>
<line x1="145.64" y1="580.80" x2="145.64" y2="583.60" stroke="#111" stroke-width="0.6"/>
<line x1="146.68" y1="580.80" x2="146.68" y2="582.30" stroke="#111" stroke-width="0.6"/>
<line x1="147.73" y1="580.80" x2="147.73" y2="582.30" stroke="#111" stroke-width="0.6"/>
<line x1="148.77" y1="580.80" x2="148.77" y2="582.30" stroke="#111" stroke-width="0.6"/>
<line x1="149.81" y1="580.80" x2="149.81" y2="583.60" stroke="#111" stroke-width="0.6"/>
<line x1="150.85" y1="580.80" x2="150.85" y2="582.30" stroke="#111" stroke-width="0.6"/>
<line x1="151.90" y1="580.80" x2="151.90" y2="582.30" stroke="#111" stroke-width="0.6"/>
<line x1="152.94" y1="580.80" x2="152.94" y2="582.30" stroke="#111" stroke-width="0.6"/>
<line x1="153.98" y1="580.80" x2="153.98" y2="583.60" stroke="#111" stroke-width="0.6"/>
<line x1="155.02" y1="580.80" x2="155.02" y2="582.30" stroke="#111" stroke-width="0.6"/>
<line x1="156.06" y1="580.80" x2="156.06" y2="582.30" stroke="#111" stroke-width="0.6"/>
<line x1="157.11" y1="580.80" x2="157.11" y2="582.30" stroke="#111" stroke-width="0.6"/>
<line x1="158.15" y1="580.80" x2="158.15" y2="583.60" stroke="#111" stroke-width="0.6"/>
<line x1="159.19" y1="580.80" x2="159.19" y2="582.30" stroke="#111" stroke-width="0.6"/>
<line x1="160.24" y1="580.80" x2="160.24" y2="582.30" stroke="#111" stroke-width="0.6"/>
<line x1="161.28" y1="580.80" x2="161.28" y2="582.30" stroke="#111" stroke-width="0.6"/>
<line x1="162.32" y1="580.80" x2="162.32" y2="583.60" stroke="#111" stroke-width="0.6"/>
<line x1="163.36" y1="580.80" x2="163.36" y2="582.30" stroke="#111" stroke-width="0.6"/>
<line x1="164.41" y1="580.80" x2="164.41" y2="582.30" stroke="#111" stroke-width="0.6"/>
<line x1="165.45" y1="580.80" x2="165.45" y2="582.30" stroke="#111" stroke-width="0.6"/>
<line x1="166.49" y1="580.80" x2="166.49" y2="583.60" stroke="#111" stroke-width="0.6"/>
<line x1="167.53" y1="580.80" x2="167.53" y2="582.30" stroke="#111" stroke-width="0.6"/>
<line x1="168.58" y1="580.80" x2="168.58" y2="582.30" stroke="#111" stroke-width="0.6"/>
<line x1="169.62" y1="580.80" x2="169.62" y2="582.30" stroke="#111" stroke-width="0.6"/>
<line x1="170.66" y1="580.80" x2="170.66" y2="583.60" stroke="#111" stroke-width="0.6"/>
<line x1="171.70" y1="580.80" x2="171.70" y2="582.30" stroke="#111" stroke-width="0.6"/>
<line x1="172.75" y1="580.80" x2="172.75" y2="582.30" stroke="#111" stroke-width="0.6"/>
<line x1="173.79" y1="580.80" x2="173.79" y2="582.30" stroke="#111" stroke-width="0.6"/>
<line x1="174.83" y1="580.80" x2="174.83" y2="583.60" stroke="#111" stroke-width="0.6"/>
<line x1="175.87" y1="580.80" x2="175.87" y2="582.30" stroke="#111" stroke-width="0.6"/>
<line x1="176.92" y1="580.80" x2="176.92" y2="582.30" stroke="#111" stroke-width="0.6"/>
<line x1="177.96" y1="580.80" x2="177.96" y2="582.30" stroke="#111" stroke-width="0.6"/>
<line x1="179.00" y1="580.80" x2="179.00" y2="583.60" stroke="#111" stroke-width="0.6"/>
<line x1="180.04" y1="580.80" x2="180.04" y2="582.30" stroke="#111" stroke-width="0.6"/>
<line x1="181.09" y1="580.80" x2="181.09" y2="582.30" stroke="#111" stroke-width="0.6"/>
<line x1="182.13" y1="580.80" x2="182.13" y2="582.30" stroke="#111" stroke-width="0.6"/>
<line x1="183.17" y1="580.80" x2="183.17" y2="583.60" stroke="#111" stroke-width="0.6"/>
<line x1="184.21" y1="580.80" x2="184.21" y2="582.30" stroke="#111" stroke-width="0.6"/>
<line x1="185.25" y1="580.80" x2="185.25" y2="582.30" stroke="#111" stroke-width="0.6"/>
<line x1="186.30" y1="580.80" x2="186.30" y2="582.30" stroke="#111" stroke-width="0.6"/>
<line x1="187.34" y1="580.80" x2="187.34" y2="583.60" stroke="#111" stroke-width="0.6"/>
<line x1="188.38" y1="580.80" x2="188.38" y2="582.30" stroke="#111" stroke-width="0.6"/>
<line x1="189.43" y1="580.80" x2="189.43" y2="582.30" stroke="#111" stroke-width="0.6"/>
<line x1="190.47" y1="580.80" x2="190.47" y2="582.30" stroke="#111" stroke-width="0.6"/>
<line x1="191.51" y1="580.80" x2="191.51" y2="583.60" stroke="#111" stroke-width="0.6"/>
<line x1="192.55" y1="580.80" x2="192.55" y2="582.30" stroke="#111" stroke-width="0.6"/>
<line x1="193.60" y1="580.80" x2="193.60" y2="582.30" stroke="#111" stroke-width="0.6"/>
<line x1="194.64" y1="580.80" x2="194.64" y2="582.30" stroke="#111" stroke-width="0.6"/>
<line x1="195.68" y1="580.80" x2="195.68" y2="583.60" stroke="#111" stroke-width="0.6"/>
<line x1="196.72" y1="580.80" x2="196.72" y2="582.30" stroke="#111" stroke-width="0.6"/>
<line x1="197.77" y1="580.80" x2="197.77" y2="582.30" stroke="#111" stroke-width="0.6"/>
<line x1="198.81" y1="580.80" x2="198.81" y2="582.30" stroke="#111" stroke-width="0.6"/>
<line x1="199.85" y1="580.80" x2="199.85" y2="583.60" stroke="#111" stroke-width="0.6"/>
<text x="137.30" y="594.40" font-size="7.4" text-anchor="middle" fill="#333">0</text>
<text x="153.98" y="594.40" font-size="7.4" text-anchor="middle" fill="#333">4</text>
<text x="170.66" y="594.40" font-size="7.4" text-anchor="middle" fill="#333">8</text>
<text x="187.34" y="594.40" font-size="7.4" text-anchor="middle" fill="#333">12</text>
<text x="129.90" y="518.60" font-size="7.0" text-anchor="end" fill="#333">15</text>
<text x="129.90" y="550.95" font-size="7.0" text-anchor="end" fill="#333">7.5</text>
<text x="129.90" y="583.10" font-size="7.0" text-anchor="end" fill="#333">0</text>
<text x="157.90" y="537.60" font-size="7.2" text-anchor="start" fill="#333" textLength="40.8" lengthAdjust="spacingAndGlyphs">G1: 50.74%</text>
<text x="161.50" y="545.60" font-size="7.2" text-anchor="start" fill="#333" textLength="37.5" lengthAdjust="spacingAndGlyphs" xml:space="preserve">S:  40.69%</text>
<text x="157.90" y="553.60" font-size="7.2" text-anchor="start" fill="#333" textLength="35.5" lengthAdjust="spacingAndGlyphs">G2: 8.57%</text>
<text x="255.60" y="506.40" font-size="10.1" text-anchor="middle" fill="#222" textLength="10.2" lengthAdjust="spacingAndGlyphs">OI</text>
<rect x="243.90" y="578.30" width="15.60" height="2.50" fill="#e4e6f3"/>
<line x1="243.90" y1="578.30" x2="259.50" y2="578.30" stroke="#7d92c8" stroke-width="0.9"/>
<line x1="242.40" y1="516.50" x2="242.40" y2="531.10" stroke="#a89090" stroke-width="1.1"/>
<polygon points="240.70,580.80 241.40,573.80 241.85,529.10 242.40,521.10 242.95,529.10 243.40,573.80 244.10,580.80" fill="#d8321c" stroke="none" stroke-width="1"/>
<polygon points="259.60,580.80 261.10,574.80 261.40,573.80 261.70,574.80 263.20,580.80" fill="#c8281c" stroke="none" stroke-width="1"/>
<line x1="261.40" y1="573.80" x2="261.40" y2="568.80" stroke="#a8a8a8" stroke-width="0.8"/>
<line x1="223.00" y1="515.20" x2="223.00" y2="581.40" stroke="#111" stroke-width="1.2"/>
<line x1="222.40" y1="580.80" x2="286.20" y2="580.80" stroke="#111" stroke-width="1.2"/>
<line x1="220.00" y1="580.80" x2="223.00" y2="580.80" stroke="#111" stroke-width="0.7"/>
<line x1="221.20" y1="576.21" x2="223.00" y2="576.21" stroke="#111" stroke-width="0.7"/>
<line x1="221.20" y1="571.61" x2="223.00" y2="571.61" stroke="#111" stroke-width="0.7"/>
<line x1="221.20" y1="567.02" x2="223.00" y2="567.02" stroke="#111" stroke-width="0.7"/>
<line x1="221.20" y1="562.43" x2="223.00" y2="562.43" stroke="#111" stroke-width="0.7"/>
<line x1="221.20" y1="557.84" x2="223.00" y2="557.84" stroke="#111" stroke-width="0.7"/>
<line x1="221.20" y1="553.24" x2="223.00" y2="553.24" stroke="#111" stroke-width="0.7"/>
<line x1="220.00" y1="548.65" x2="223.00" y2="548.65" stroke="#111" stroke-width="0.7"/>
<line x1="221.20" y1="544.06" x2="223.00" y2="544.06" stroke="#111" stroke-width="0.7"/>
<line x1="221.20" y1="539.46" x2="223.00" y2="539.46" stroke="#111" stroke-width="0.7"/>
<line x1="221.20" y1="534.87" x2="223.00" y2="534.87" stroke="#111" stroke-width="0.7"/>
<line x1="221.20" y1="530.28" x2="223.00" y2="530.28" stroke="#111" stroke-width="0.7"/>
<line x1="221.20" y1="525.69" x2="223.00" y2="525.69" stroke="#111" stroke-width="0.7"/>
<line x1="221.20" y1="521.09" x2="223.00" y2="521.09" stroke="#111" stroke-width="0.7"/>
<line x1="220.00" y1="516.50" x2="223.00" y2="516.50" stroke="#111" stroke-width="0.7"/>
<line x1="222.80" y1="580.80" x2="222.80" y2="583.60" stroke="#111" stroke-width="0.6"/>
<line x1="223.84" y1="580.80" x2="223.84" y2="582.30" stroke="#111" stroke-width="0.6"/>
<line x1="224.89" y1="580.80" x2="224.89" y2="582.30" stroke="#111" stroke-width="0.6"/>
<line x1="225.93" y1="580.80" x2="225.93" y2="582.30" stroke="#111" stroke-width="0.6"/>
<line x1="226.97" y1="580.80" x2="226.97" y2="583.60" stroke="#111" stroke-width="0.6"/>
<line x1="228.01" y1="580.80" x2="228.01" y2="582.30" stroke="#111" stroke-width="0.6"/>
<line x1="229.06" y1="580.80" x2="229.06" y2="582.30" stroke="#111" stroke-width="0.6"/>
<line x1="230.10" y1="580.80" x2="230.10" y2="582.30" stroke="#111" stroke-width="0.6"/>
<line x1="231.14" y1="580.80" x2="231.14" y2="583.60" stroke="#111" stroke-width="0.6"/>
<line x1="232.18" y1="580.80" x2="232.18" y2="582.30" stroke="#111" stroke-width="0.6"/>
<line x1="233.23" y1="580.80" x2="233.23" y2="582.30" stroke="#111" stroke-width="0.6"/>
<line x1="234.27" y1="580.80" x2="234.27" y2="582.30" stroke="#111" stroke-width="0.6"/>
<line x1="235.31" y1="580.80" x2="235.31" y2="583.60" stroke="#111" stroke-width="0.6"/>
<line x1="236.35" y1="580.80" x2="236.35" y2="582.30" stroke="#111" stroke-width="0.6"/>
<line x1="237.40" y1="580.80" x2="237.40" y2="582.30" stroke="#111" stroke-width="0.6"/>
<line x1="238.44" y1="580.80" x2="238.44" y2="582.30" stroke="#111" stroke-width="0.6"/>
<line x1="239.48" y1="580.80" x2="239.48" y2="583.60" stroke="#111" stroke-width="0.6"/>
<line x1="240.52" y1="580.80" x2="240.52" y2="582.30" stroke="#111" stroke-width="0.6"/>
<line x1="241.56" y1="580.80" x2="241.56" y2="582.30" stroke="#111" stroke-width="0.6"/>
<line x1="242.61" y1="580.80" x2="242.61" y2="582.30" stroke="#111" stroke-width="0.6"/>
<line x1="243.65" y1="580.80" x2="243.65" y2="583.60" stroke="#111" stroke-width="0.6"/>
<line x1="244.69" y1="580.80" x2="244.69" y2="582.30" stroke="#111" stroke-width="0.6"/>
<line x1="245.74" y1="580.80" x2="245.74" y2="582.30" stroke="#111" stroke-width="0.6"/>
<line x1="246.78" y1="580.80" x2="246.78" y2="582.30" stroke="#111" stroke-width="0.6"/>
<line x1="247.82" y1="580.80" x2="247.82" y2="583.60" stroke="#111" stroke-width="0.6"/>
<line x1="248.86" y1="580.80" x2="248.86" y2="582.30" stroke="#111" stroke-width="0.6"/>
<line x1="249.91" y1="580.80" x2="249.91" y2="582.30" stroke="#111" stroke-width="0.6"/>
<line x1="250.95" y1="580.80" x2="250.95" y2="582.30" stroke="#111" stroke-width="0.6"/>
<line x1="251.99" y1="580.80" x2="251.99" y2="583.60" stroke="#111" stroke-width="0.6"/>
<line x1="253.03" y1="580.80" x2="253.03" y2="582.30" stroke="#111" stroke-width="0.6"/>
<line x1="254.08" y1="580.80" x2="254.08" y2="582.30" stroke="#111" stroke-width="0.6"/>
<line x1="255.12" y1="580.80" x2="255.12" y2="582.30" stroke="#111" stroke-width="0.6"/>
<line x1="256.16" y1="580.80" x2="256.16" y2="583.60" stroke="#111" stroke-width="0.6"/>
<line x1="257.20" y1="580.80" x2="257.20" y2="582.30" stroke="#111" stroke-width="0.6"/>
<line x1="258.25" y1="580.80" x2="258.25" y2="582.30" stroke="#111" stroke-width="0.6"/>
<line x1="259.29" y1="580.80" x2="259.29" y2="582.30" stroke="#111" stroke-width="0.6"/>
<line x1="260.33" y1="580.80" x2="260.33" y2="583.60" stroke="#111" stroke-width="0.6"/>
<line x1="261.37" y1="580.80" x2="261.37" y2="582.30" stroke="#111" stroke-width="0.6"/>
<line x1="262.42" y1="580.80" x2="262.42" y2="582.30" stroke="#111" stroke-width="0.6"/>
<line x1="263.46" y1="580.80" x2="263.46" y2="582.30" stroke="#111" stroke-width="0.6"/>
<line x1="264.50" y1="580.80" x2="264.50" y2="583.60" stroke="#111" stroke-width="0.6"/>
<line x1="265.54" y1="580.80" x2="265.54" y2="582.30" stroke="#111" stroke-width="0.6"/>
<line x1="266.59" y1="580.80" x2="266.59" y2="582.30" stroke="#111" stroke-width="0.6"/>
<line x1="267.63" y1="580.80" x2="267.63" y2="582.30" stroke="#111" stroke-width="0.6"/>
<line x1="268.67" y1="580.80" x2="268.67" y2="583.60" stroke="#111" stroke-width="0.6"/>
<line x1="269.71" y1="580.80" x2="269.71" y2="582.30" stroke="#111" stroke-width="0.6"/>
<line x1="270.75" y1="580.80" x2="270.75" y2="582.30" stroke="#111" stroke-width="0.6"/>
<line x1="271.80" y1="580.80" x2="271.80" y2="582.30" stroke="#111" stroke-width="0.6"/>
<line x1="272.84" y1="580.80" x2="272.84" y2="583.60" stroke="#111" stroke-width="0.6"/>
<line x1="273.88" y1="580.80" x2="273.88" y2="582.30" stroke="#111" stroke-width="0.6"/>
<line x1="274.93" y1="580.80" x2="274.93" y2="582.30" stroke="#111" stroke-width="0.6"/>
<line x1="275.97" y1="580.80" x2="275.97" y2="582.30" stroke="#111" stroke-width="0.6"/>
<line x1="277.01" y1="580.80" x2="277.01" y2="583.60" stroke="#111" stroke-width="0.6"/>
<line x1="278.05" y1="580.80" x2="278.05" y2="582.30" stroke="#111" stroke-width="0.6"/>
<line x1="279.10" y1="580.80" x2="279.10" y2="582.30" stroke="#111" stroke-width="0.6"/>
<line x1="280.14" y1="580.80" x2="280.14" y2="582.30" stroke="#111" stroke-width="0.6"/>
<line x1="281.18" y1="580.80" x2="281.18" y2="583.60" stroke="#111" stroke-width="0.6"/>
<line x1="282.22" y1="580.80" x2="282.22" y2="582.30" stroke="#111" stroke-width="0.6"/>
<line x1="283.26" y1="580.80" x2="283.26" y2="582.30" stroke="#111" stroke-width="0.6"/>
<line x1="284.31" y1="580.80" x2="284.31" y2="582.30" stroke="#111" stroke-width="0.6"/>
<line x1="285.35" y1="580.80" x2="285.35" y2="583.60" stroke="#111" stroke-width="0.6"/>
<text x="222.80" y="594.40" font-size="7.4" text-anchor="middle" fill="#333">0</text>
<text x="239.48" y="594.40" font-size="7.4" text-anchor="middle" fill="#333">4</text>
<text x="256.16" y="594.40" font-size="7.4" text-anchor="middle" fill="#333">8</text>
<text x="272.84" y="594.40" font-size="7.4" text-anchor="middle" fill="#333">12</text>
<text x="215.40" y="518.60" font-size="7.0" text-anchor="end" fill="#333">15</text>
<text x="215.40" y="550.95" font-size="7.0" text-anchor="end" fill="#333">7.5</text>
<text x="215.40" y="583.10" font-size="7.0" text-anchor="end" fill="#333">0</text>
<text x="243.60" y="537.60" font-size="7.2" text-anchor="start" fill="#333" textLength="40.8" lengthAdjust="spacingAndGlyphs">G1: 58.45%</text>
<text x="247.20" y="545.60" font-size="7.2" text-anchor="start" fill="#333" textLength="37.5" lengthAdjust="spacingAndGlyphs" xml:space="preserve">S:  34.25%</text>
<text x="243.60" y="553.60" font-size="7.2" text-anchor="start" fill="#333" textLength="35.5" lengthAdjust="spacingAndGlyphs">G2: 7.30%</text>
<text x="341.50" y="506.40" font-size="10.1" text-anchor="middle" fill="#222" textLength="31.5" lengthAdjust="spacingAndGlyphs">CX+OI</text>
<line x1="328.70" y1="516.50" x2="328.70" y2="531.10" stroke="#a89090" stroke-width="1.1"/>
<polygon points="327.00,580.80 327.70,573.80 328.15,529.10 328.70,521.10 329.25,529.10 329.70,573.80 330.40,580.80" fill="#d8321c" stroke="none" stroke-width="1"/>
<polyline points="331.70,580.30 336.70,579.30 344.70,578.80 348.70,577.30 351.70,580.30" fill="none" stroke="#b8b8b8" stroke-width="1.2"/>
<line x1="310.10" y1="515.20" x2="310.10" y2="581.40" stroke="#111" stroke-width="1.2"/>
<line x1="309.50" y1="580.80" x2="372.80" y2="580.80" stroke="#111" stroke-width="1.2"/>
<line x1="307.10" y1="580.80" x2="310.10" y2="580.80" stroke="#111" stroke-width="0.7"/>
<line x1="308.30" y1="576.21" x2="310.10" y2="576.21" stroke="#111" stroke-width="0.7"/>
<line x1="308.30" y1="571.61" x2="310.10" y2="571.61" stroke="#111" stroke-width="0.7"/>
<line x1="308.30" y1="567.02" x2="310.10" y2="567.02" stroke="#111" stroke-width="0.7"/>
<line x1="308.30" y1="562.43" x2="310.10" y2="562.43" stroke="#111" stroke-width="0.7"/>
<line x1="308.30" y1="557.84" x2="310.10" y2="557.84" stroke="#111" stroke-width="0.7"/>
<line x1="308.30" y1="553.24" x2="310.10" y2="553.24" stroke="#111" stroke-width="0.7"/>
<line x1="307.10" y1="548.65" x2="310.10" y2="548.65" stroke="#111" stroke-width="0.7"/>
<line x1="308.30" y1="544.06" x2="310.10" y2="544.06" stroke="#111" stroke-width="0.7"/>
<line x1="308.30" y1="539.46" x2="310.10" y2="539.46" stroke="#111" stroke-width="0.7"/>
<line x1="308.30" y1="534.87" x2="310.10" y2="534.87" stroke="#111" stroke-width="0.7"/>
<line x1="308.30" y1="530.28" x2="310.10" y2="530.28" stroke="#111" stroke-width="0.7"/>
<line x1="308.30" y1="525.69" x2="310.10" y2="525.69" stroke="#111" stroke-width="0.7"/>
<line x1="308.30" y1="521.09" x2="310.10" y2="521.09" stroke="#111" stroke-width="0.7"/>
<line x1="307.10" y1="516.50" x2="310.10" y2="516.50" stroke="#111" stroke-width="0.7"/>
<line x1="309.90" y1="580.80" x2="309.90" y2="583.60" stroke="#111" stroke-width="0.6"/>
<line x1="310.94" y1="580.80" x2="310.94" y2="582.30" stroke="#111" stroke-width="0.6"/>
<line x1="311.99" y1="580.80" x2="311.99" y2="582.30" stroke="#111" stroke-width="0.6"/>
<line x1="313.03" y1="580.80" x2="313.03" y2="582.30" stroke="#111" stroke-width="0.6"/>
<line x1="314.07" y1="580.80" x2="314.07" y2="583.60" stroke="#111" stroke-width="0.6"/>
<line x1="315.11" y1="580.80" x2="315.11" y2="582.30" stroke="#111" stroke-width="0.6"/>
<line x1="316.16" y1="580.80" x2="316.16" y2="582.30" stroke="#111" stroke-width="0.6"/>
<line x1="317.20" y1="580.80" x2="317.20" y2="582.30" stroke="#111" stroke-width="0.6"/>
<line x1="318.24" y1="580.80" x2="318.24" y2="583.60" stroke="#111" stroke-width="0.6"/>
<line x1="319.28" y1="580.80" x2="319.28" y2="582.30" stroke="#111" stroke-width="0.6"/>
<line x1="320.33" y1="580.80" x2="320.33" y2="582.30" stroke="#111" stroke-width="0.6"/>
<line x1="321.37" y1="580.80" x2="321.37" y2="582.30" stroke="#111" stroke-width="0.6"/>
<line x1="322.41" y1="580.80" x2="322.41" y2="583.60" stroke="#111" stroke-width="0.6"/>
<line x1="323.45" y1="580.80" x2="323.45" y2="582.30" stroke="#111" stroke-width="0.6"/>
<line x1="324.50" y1="580.80" x2="324.50" y2="582.30" stroke="#111" stroke-width="0.6"/>
<line x1="325.54" y1="580.80" x2="325.54" y2="582.30" stroke="#111" stroke-width="0.6"/>
<line x1="326.58" y1="580.80" x2="326.58" y2="583.60" stroke="#111" stroke-width="0.6"/>
<line x1="327.62" y1="580.80" x2="327.62" y2="582.30" stroke="#111" stroke-width="0.6"/>
<line x1="328.67" y1="580.80" x2="328.67" y2="582.30" stroke="#111" stroke-width="0.6"/>
<line x1="329.71" y1="580.80" x2="329.71" y2="582.30" stroke="#111" stroke-width="0.6"/>
<line x1="330.75" y1="580.80" x2="330.75" y2="583.60" stroke="#111" stroke-width="0.6"/>
<line x1="331.79" y1="580.80" x2="331.79" y2="582.30" stroke="#111" stroke-width="0.6"/>
<line x1="332.84" y1="580.80" x2="332.84" y2="582.30" stroke="#111" stroke-width="0.6"/>
<line x1="333.88" y1="580.80" x2="333.88" y2="582.30" stroke="#111" stroke-width="0.6"/>
<line x1="334.92" y1="580.80" x2="334.92" y2="583.60" stroke="#111" stroke-width="0.6"/>
<line x1="335.96" y1="580.80" x2="335.96" y2="582.30" stroke="#111" stroke-width="0.6"/>
<line x1="337.01" y1="580.80" x2="337.01" y2="582.30" stroke="#111" stroke-width="0.6"/>
<line x1="338.05" y1="580.80" x2="338.05" y2="582.30" stroke="#111" stroke-width="0.6"/>
<line x1="339.09" y1="580.80" x2="339.09" y2="583.60" stroke="#111" stroke-width="0.6"/>
<line x1="340.13" y1="580.80" x2="340.13" y2="582.30" stroke="#111" stroke-width="0.6"/>
<line x1="341.18" y1="580.80" x2="341.18" y2="582.30" stroke="#111" stroke-width="0.6"/>
<line x1="342.22" y1="580.80" x2="342.22" y2="582.30" stroke="#111" stroke-width="0.6"/>
<line x1="343.26" y1="580.80" x2="343.26" y2="583.60" stroke="#111" stroke-width="0.6"/>
<line x1="344.30" y1="580.80" x2="344.30" y2="582.30" stroke="#111" stroke-width="0.6"/>
<line x1="345.35" y1="580.80" x2="345.35" y2="582.30" stroke="#111" stroke-width="0.6"/>
<line x1="346.39" y1="580.80" x2="346.39" y2="582.30" stroke="#111" stroke-width="0.6"/>
<line x1="347.43" y1="580.80" x2="347.43" y2="583.60" stroke="#111" stroke-width="0.6"/>
<line x1="348.47" y1="580.80" x2="348.47" y2="582.30" stroke="#111" stroke-width="0.6"/>
<line x1="349.52" y1="580.80" x2="349.52" y2="582.30" stroke="#111" stroke-width="0.6"/>
<line x1="350.56" y1="580.80" x2="350.56" y2="582.30" stroke="#111" stroke-width="0.6"/>
<line x1="351.60" y1="580.80" x2="351.60" y2="583.60" stroke="#111" stroke-width="0.6"/>
<line x1="352.64" y1="580.80" x2="352.64" y2="582.30" stroke="#111" stroke-width="0.6"/>
<line x1="353.69" y1="580.80" x2="353.69" y2="582.30" stroke="#111" stroke-width="0.6"/>
<line x1="354.73" y1="580.80" x2="354.73" y2="582.30" stroke="#111" stroke-width="0.6"/>
<line x1="355.77" y1="580.80" x2="355.77" y2="583.60" stroke="#111" stroke-width="0.6"/>
<line x1="356.81" y1="580.80" x2="356.81" y2="582.30" stroke="#111" stroke-width="0.6"/>
<line x1="357.86" y1="580.80" x2="357.86" y2="582.30" stroke="#111" stroke-width="0.6"/>
<line x1="358.90" y1="580.80" x2="358.90" y2="582.30" stroke="#111" stroke-width="0.6"/>
<line x1="359.94" y1="580.80" x2="359.94" y2="583.60" stroke="#111" stroke-width="0.6"/>
<line x1="360.98" y1="580.80" x2="360.98" y2="582.30" stroke="#111" stroke-width="0.6"/>
<line x1="362.03" y1="580.80" x2="362.03" y2="582.30" stroke="#111" stroke-width="0.6"/>
<line x1="363.07" y1="580.80" x2="363.07" y2="582.30" stroke="#111" stroke-width="0.6"/>
<line x1="364.11" y1="580.80" x2="364.11" y2="583.60" stroke="#111" stroke-width="0.6"/>
<line x1="365.15" y1="580.80" x2="365.15" y2="582.30" stroke="#111" stroke-width="0.6"/>
<line x1="366.20" y1="580.80" x2="366.20" y2="582.30" stroke="#111" stroke-width="0.6"/>
<line x1="367.24" y1="580.80" x2="367.24" y2="582.30" stroke="#111" stroke-width="0.6"/>
<line x1="368.28" y1="580.80" x2="368.28" y2="583.60" stroke="#111" stroke-width="0.6"/>
<line x1="369.32" y1="580.80" x2="369.32" y2="582.30" stroke="#111" stroke-width="0.6"/>
<line x1="370.37" y1="580.80" x2="370.37" y2="582.30" stroke="#111" stroke-width="0.6"/>
<line x1="371.41" y1="580.80" x2="371.41" y2="582.30" stroke="#111" stroke-width="0.6"/>
<line x1="372.45" y1="580.80" x2="372.45" y2="583.60" stroke="#111" stroke-width="0.6"/>
<text x="309.90" y="594.40" font-size="7.4" text-anchor="middle" fill="#333">0</text>
<text x="326.58" y="594.40" font-size="7.4" text-anchor="middle" fill="#333">4</text>
<text x="343.26" y="594.40" font-size="7.4" text-anchor="middle" fill="#333">8</text>
<text x="359.94" y="594.40" font-size="7.4" text-anchor="middle" fill="#333">12</text>
<text x="302.50" y="518.60" font-size="7.0" text-anchor="end" fill="#333">12</text>
<text x="302.50" y="550.95" font-size="7.0" text-anchor="end" fill="#333">6</text>
<text x="302.50" y="583.10" font-size="7.0" text-anchor="end" fill="#333">0</text>
<text x="329.70" y="537.60" font-size="7.2" text-anchor="start" fill="#333" textLength="40.8" lengthAdjust="spacingAndGlyphs">G1: 68.44%</text>
<text x="333.30" y="545.60" font-size="7.2" text-anchor="start" fill="#333" textLength="37.5" lengthAdjust="spacingAndGlyphs" xml:space="preserve">S:  28.15%</text>
<text x="329.70" y="553.60" font-size="7.2" text-anchor="start" fill="#333" textLength="35.5" lengthAdjust="spacingAndGlyphs">G2: 3.41%</text>
<text x="390.07" y="342.30" font-size="14.2" text-anchor="start" font-weight="bold" fill="#111" textLength="11.28" lengthAdjust="spacingAndGlyphs">H</text>
<rect x="430.50" y="361.20" width="8.20" height="75.40" fill="#d0122c"/>
<rect x="430.50" y="407.50" width="8.20" height="29.10" fill="#1b4f8f"/>
<line x1="434.60" y1="360.30" x2="434.60" y2="361.20" stroke="#333" stroke-width="0.7"/>
<line x1="433.10" y1="360.30" x2="436.10" y2="360.30" stroke="#333" stroke-width="0.7"/>
<line x1="434.60" y1="407.50" x2="434.60" y2="406.36" stroke="#333" stroke-width="0.7"/>
<line x1="433.10" y1="406.36" x2="436.10" y2="406.36" stroke="#333" stroke-width="0.7"/>
<rect x="443.20" y="361.20" width="8.20" height="75.40" fill="#d0122c"/>
<rect x="443.20" y="396.19" width="8.20" height="40.41" fill="#1b4f8f"/>
<line x1="447.30" y1="360.30" x2="447.30" y2="361.20" stroke="#333" stroke-width="0.7"/>
<line x1="445.80" y1="360.30" x2="448.80" y2="360.30" stroke="#333" stroke-width="0.7"/>
<line x1="447.30" y1="396.19" x2="447.30" y2="395.05" stroke="#333" stroke-width="0.7"/>
<line x1="445.80" y1="395.05" x2="448.80" y2="395.05" stroke="#333" stroke-width="0.7"/>
<rect x="455.90" y="361.20" width="8.20" height="75.40" fill="#d0122c"/>
<rect x="455.90" y="392.19" width="8.20" height="44.41" fill="#1b4f8f"/>
<line x1="460.00" y1="359.31" x2="460.00" y2="361.20" stroke="#333" stroke-width="0.7"/>
<line x1="458.50" y1="359.31" x2="461.50" y2="359.31" stroke="#333" stroke-width="0.7"/>
<line x1="460.00" y1="392.19" x2="460.00" y2="389.93" stroke="#333" stroke-width="0.7"/>
<line x1="458.50" y1="389.93" x2="461.50" y2="389.93" stroke="#333" stroke-width="0.7"/>
<rect x="468.30" y="361.20" width="8.20" height="75.40" fill="#d0122c"/>
<rect x="468.30" y="384.12" width="8.20" height="52.48" fill="#1b4f8f"/>
<line x1="472.40" y1="359.09" x2="472.40" y2="361.20" stroke="#333" stroke-width="0.7"/>
<line x1="470.90" y1="359.09" x2="473.90" y2="359.09" stroke="#333" stroke-width="0.7"/>
<line x1="472.40" y1="384.12" x2="472.40" y2="381.11" stroke="#333" stroke-width="0.7"/>
<line x1="470.90" y1="381.11" x2="473.90" y2="381.11" stroke="#333" stroke-width="0.7"/>
<line x1="425.60" y1="350.30" x2="425.60" y2="437.20" stroke="#111" stroke-width="1.3"/>
<line x1="425.00" y1="436.60" x2="494.70" y2="436.60" stroke="#111" stroke-width="1.3"/>
<line x1="422.60" y1="436.60" x2="425.60" y2="436.60" stroke="#111" stroke-width="1"/>
<text x="419.10" y="439.40" font-size="8.4" text-anchor="end" fill="#333">0</text>
<line x1="422.60" y1="398.90" x2="425.60" y2="398.90" stroke="#111" stroke-width="1"/>
<text x="419.10" y="401.70" font-size="8.4" text-anchor="end" fill="#333">50</text>
<line x1="422.60" y1="361.20" x2="425.60" y2="361.20" stroke="#111" stroke-width="1"/>
<text x="419.10" y="364.00" font-size="8.4" text-anchor="end" fill="#333">100</text>
<line x1="434.60" y1="436.60" x2="434.60" y2="439.60" stroke="#111" stroke-width="1"/>
<line x1="447.30" y1="436.60" x2="447.30" y2="439.60" stroke="#111" stroke-width="1"/>
<line x1="460.00" y1="436.60" x2="460.00" y2="439.60" stroke="#111" stroke-width="1"/>
<line x1="472.40" y1="436.60" x2="472.40" y2="439.60" stroke="#111" stroke-width="1"/>
<text x="399.60" y="393.60" font-size="9.4" text-anchor="middle" fill="#333" textLength="53" lengthAdjust="spacingAndGlyphs" transform="rotate(-90 399.60 393.60)">Percentage (%)</text>
<text x="438.50" y="447.30" font-size="8.8" text-anchor="end" fill="#333" textLength="23.5" lengthAdjust="spacingAndGlyphs" transform="rotate(-45 438.50 447.30)">DMSO</text>
<text x="451.20" y="447.30" font-size="8.8" text-anchor="end" fill="#333" textLength="11.5" lengthAdjust="spacingAndGlyphs" transform="rotate(-45 451.20 447.30)">CX</text>
<text x="463.90" y="447.30" font-size="8.8" text-anchor="end" fill="#333" textLength="9" lengthAdjust="spacingAndGlyphs" transform="rotate(-45 463.90 447.30)">OI</text>
<text x="476.30" y="447.30" font-size="8.8" text-anchor="end" fill="#333" textLength="23" lengthAdjust="spacingAndGlyphs" transform="rotate(-45 476.30 447.30)">CX+OI</text>
<rect x="480.20" y="414.60" width="7.70" height="4.00" fill="#d0122c"/>
<rect x="480.20" y="422.50" width="7.70" height="4.00" fill="#1b4f8f"/>
<text x="491.60" y="419.30" font-size="8.4" text-anchor="start" fill="#333" textLength="20.2" lengthAdjust="spacingAndGlyphs">S+G2</text>
<text x="491.60" y="426.70" font-size="8.4" text-anchor="start" fill="#333" textLength="9.4" lengthAdjust="spacingAndGlyphs">G1</text>
<polyline points="447.30,352.60 447.30,337.80 472.40,337.80 472.40,343.20" fill="none" stroke="#222" stroke-width="1.1"/>
<polyline points="460.00,352.60 460.00,348.40 472.40,348.40 472.40,352.60" fill="none" stroke="#222" stroke-width="1.1"/>
<polygon points="447.30,355.60 445.40,352.20 449.20,352.20" fill="#222" stroke="none" stroke-width="1"/>
<polygon points="460.00,355.60 458.10,352.20 461.90,352.20" fill="#222" stroke="none" stroke-width="1"/>
<polygon points="472.40,355.60 470.50,352.20 474.30,352.20" fill="#222" stroke="none" stroke-width="1"/>
<polygon points="472.40,346.20 470.50,342.80 474.30,342.80" fill="#222" stroke="none" stroke-width="1"/>
<circle cx="455.75" cy="333.80" r="1.05" fill="#222"/>
<circle cx="459.20" cy="333.80" r="1.05" fill="#222"/>
<circle cx="462.65" cy="333.80" r="1.05" fill="#222"/>
<circle cx="464.38" cy="344.50" r="1.05" fill="#222"/>
<circle cx="467.83" cy="344.50" r="1.05" fill="#222"/>
<text x="391.69" y="491.50" font-size="14.2" text-anchor="start" font-weight="bold" fill="#111" textLength="7.9" lengthAdjust="spacingAndGlyphs">J</text>
<rect x="430.50" y="510.90" width="8.20" height="75.40" fill="#d0122c"/>
<rect x="430.50" y="559.16" width="8.20" height="27.14" fill="#1b4f8f"/>
<line x1="434.60" y1="510.15" x2="434.60" y2="510.90" stroke="#333" stroke-width="0.7"/>
<line x1="433.10" y1="510.15" x2="436.10" y2="510.15" stroke="#333" stroke-width="0.7"/>
<line x1="434.60" y1="559.16" x2="434.60" y2="558.02" stroke="#333" stroke-width="0.7"/>
<line x1="433.10" y1="558.02" x2="436.10" y2="558.02" stroke="#333" stroke-width="0.7"/>
<rect x="443.20" y="510.90" width="8.20" height="75.40" fill="#d0122c"/>
<rect x="443.20" y="548.22" width="8.20" height="38.08" fill="#1b4f8f"/>
<line x1="447.30" y1="510.15" x2="447.30" y2="510.90" stroke="#333" stroke-width="0.7"/>
<line x1="445.80" y1="510.15" x2="448.80" y2="510.15" stroke="#333" stroke-width="0.7"/>
<line x1="447.30" y1="548.22" x2="447.30" y2="547.09" stroke="#333" stroke-width="0.7"/>
<line x1="445.80" y1="547.09" x2="448.80" y2="547.09" stroke="#333" stroke-width="0.7"/>
<rect x="455.90" y="510.90" width="8.20" height="75.40" fill="#d0122c"/>
<rect x="455.90" y="541.81" width="8.20" height="44.49" fill="#1b4f8f"/>
<line x1="460.00" y1="509.01" x2="460.00" y2="510.90" stroke="#333" stroke-width="0.7"/>
<line x1="458.50" y1="509.01" x2="461.50" y2="509.01" stroke="#333" stroke-width="0.7"/>
<line x1="460.00" y1="541.81" x2="460.00" y2="539.55" stroke="#333" stroke-width="0.7"/>
<line x1="458.50" y1="539.55" x2="461.50" y2="539.55" stroke="#333" stroke-width="0.7"/>
<rect x="468.30" y="510.90" width="8.20" height="75.40" fill="#d0122c"/>
<rect x="468.30" y="533.07" width="8.20" height="53.23" fill="#1b4f8f"/>
<line x1="472.40" y1="508.26" x2="472.40" y2="510.90" stroke="#333" stroke-width="0.7"/>
<line x1="470.90" y1="508.26" x2="473.90" y2="508.26" stroke="#333" stroke-width="0.7"/>
<line x1="472.40" y1="533.07" x2="472.40" y2="529.30" stroke="#333" stroke-width="0.7"/>
<line x1="470.90" y1="529.30" x2="473.90" y2="529.30" stroke="#333" stroke-width="0.7"/>
<line x1="425.60" y1="500.00" x2="425.60" y2="586.90" stroke="#111" stroke-width="1.3"/>
<line x1="425.00" y1="586.30" x2="494.70" y2="586.30" stroke="#111" stroke-width="1.3"/>
<line x1="422.60" y1="586.30" x2="425.60" y2="586.30" stroke="#111" stroke-width="1"/>
<text x="419.10" y="589.10" font-size="8.4" text-anchor="end" fill="#333">0</text>
<line x1="422.60" y1="548.60" x2="425.60" y2="548.60" stroke="#111" stroke-width="1"/>
<text x="419.10" y="551.40" font-size="8.4" text-anchor="end" fill="#333">50</text>
<line x1="422.60" y1="510.90" x2="425.60" y2="510.90" stroke="#111" stroke-width="1"/>
<text x="419.10" y="513.70" font-size="8.4" text-anchor="end" fill="#333">100</text>
<line x1="434.60" y1="586.30" x2="434.60" y2="589.30" stroke="#111" stroke-width="1"/>
<line x1="447.30" y1="586.30" x2="447.30" y2="589.30" stroke="#111" stroke-width="1"/>
<line x1="460.00" y1="586.30" x2="460.00" y2="589.30" stroke="#111" stroke-width="1"/>
<line x1="472.40" y1="586.30" x2="472.40" y2="589.30" stroke="#111" stroke-width="1"/>
<text x="399.60" y="543.30" font-size="9.4" text-anchor="middle" fill="#333" textLength="53" lengthAdjust="spacingAndGlyphs" transform="rotate(-90 399.60 543.30)">Percentage (%)</text>
<text x="438.50" y="597.00" font-size="8.8" text-anchor="end" fill="#333" textLength="23.5" lengthAdjust="spacingAndGlyphs" transform="rotate(-45 438.50 597.00)">DMSO</text>
<text x="451.20" y="597.00" font-size="8.8" text-anchor="end" fill="#333" textLength="11.5" lengthAdjust="spacingAndGlyphs" transform="rotate(-45 451.20 597.00)">CX</text>
<text x="463.90" y="597.00" font-size="8.8" text-anchor="end" fill="#333" textLength="9" lengthAdjust="spacingAndGlyphs" transform="rotate(-45 463.90 597.00)">OI</text>
<text x="476.30" y="597.00" font-size="8.8" text-anchor="end" fill="#333" textLength="23" lengthAdjust="spacingAndGlyphs" transform="rotate(-45 476.30 597.00)">CX+OI</text>
<rect x="480.20" y="564.30" width="7.70" height="4.00" fill="#d0122c"/>
<rect x="480.20" y="572.20" width="7.70" height="4.00" fill="#1b4f8f"/>
<text x="491.60" y="569.00" font-size="8.4" text-anchor="start" fill="#333" textLength="20.2" lengthAdjust="spacingAndGlyphs">S+G2</text>
<text x="491.60" y="576.40" font-size="8.4" text-anchor="start" fill="#333" textLength="9.4" lengthAdjust="spacingAndGlyphs">G1</text>
<polyline points="447.30,502.30 447.30,487.50 472.40,487.50 472.40,492.90" fill="none" stroke="#222" stroke-width="1.1"/>
<polyline points="460.00,502.30 460.00,498.10 472.40,498.10 472.40,502.30" fill="none" stroke="#222" stroke-width="1.1"/>
<polygon points="447.30,505.30 445.40,501.90 449.20,501.90" fill="#222" stroke="none" stroke-width="1"/>
<polygon points="460.00,505.30 458.10,501.90 461.90,501.90" fill="#222" stroke="none" stroke-width="1"/>
<polygon points="472.40,505.30 470.50,501.90 474.30,501.90" fill="#222" stroke="none" stroke-width="1"/>
<polygon points="472.40,495.90 470.50,492.50 474.30,492.50" fill="#222" stroke="none" stroke-width="1"/>
<circle cx="455.75" cy="483.50" r="1.05" fill="#222"/>
<circle cx="459.20" cy="483.50" r="1.05" fill="#222"/>
<circle cx="462.65" cy="483.50" r="1.05" fill="#222"/>
<circle cx="464.38" cy="494.20" r="1.05" fill="#222"/>
<circle cx="467.83" cy="494.20" r="1.05" fill="#222"/>
<text x="8.19" y="641.70" font-size="14.2" text-anchor="start" font-weight="bold" fill="#111" textLength="10.97" lengthAdjust="spacingAndGlyphs">K</text>
<rect x="60.70" y="674.14" width="10.40" height="65.76" fill="#f6b704"/>
<line x1="65.90" y1="667.43" x2="65.90" y2="680.85" stroke="#222" stroke-width="1.0"/>
<line x1="64.10" y1="667.43" x2="67.70" y2="667.43" stroke="#222" stroke-width="1.0"/>
<line x1="64.10" y1="680.85" x2="67.70" y2="680.85" stroke="#222" stroke-width="1.0"/>
<circle cx="65.90" cy="669.44" r="1.35" fill="#1a1a1a"/>
<circle cx="63.90" cy="675.48" r="1.35" fill="#1a1a1a"/>
<circle cx="67.90" cy="676.15" r="1.35" fill="#1a1a1a"/>
<rect x="76.50" y="702.32" width="10.40" height="37.58" fill="#2aa4dc"/>
<line x1="81.70" y1="696.96" x2="81.70" y2="707.69" stroke="#222" stroke-width="1.0"/>
<line x1="79.90" y1="696.96" x2="83.50" y2="696.96" stroke="#222" stroke-width="1.0"/>
<line x1="79.90" y1="707.69" x2="83.50" y2="707.69" stroke="#222" stroke-width="1.0"/>
<circle cx="81.70" cy="698.30" r="1.35" fill="#1a1a1a"/>
<circle cx="79.70" cy="704.34" r="1.35" fill="#1a1a1a"/>
<circle cx="83.70" cy="703.00" r="1.35" fill="#1a1a1a"/>
<rect x="92.40" y="708.36" width="10.40" height="31.54" fill="#8f80c4"/>
<line x1="97.60" y1="704.34" x2="97.60" y2="712.39" stroke="#222" stroke-width="1.0"/>
<line x1="95.80" y1="704.34" x2="99.40" y2="704.34" stroke="#222" stroke-width="1.0"/>
<line x1="95.80" y1="712.39" x2="99.40" y2="712.39" stroke="#222" stroke-width="1.0"/>
<circle cx="97.60" cy="705.68" r="1.35" fill="#1a1a1a"/>
<circle cx="95.60" cy="709.03" r="1.35" fill="#1a1a1a"/>
<circle cx="99.60" cy="709.03" r="1.35" fill="#1a1a1a"/>
<rect x="108.10" y="724.47" width="10.40" height="15.43" fill="#c66a18"/>
<line x1="113.30" y1="721.11" x2="113.30" y2="727.82" stroke="#222" stroke-width="1.0"/>
<line x1="111.50" y1="721.11" x2="115.10" y2="721.11" stroke="#222" stroke-width="1.0"/>
<line x1="111.50" y1="727.82" x2="115.10" y2="727.82" stroke="#222" stroke-width="1.0"/>
<circle cx="113.30" cy="722.45" r="1.35" fill="#1a1a1a"/>
<circle cx="111.30" cy="725.14" r="1.35" fill="#1a1a1a"/>
<circle cx="115.30" cy="725.14" r="1.35" fill="#1a1a1a"/>
<line x1="55.30" y1="653.40" x2="55.30" y2="740.50" stroke="#111" stroke-width="1.3"/>
<line x1="54.70" y1="739.90" x2="123.50" y2="739.90" stroke="#111" stroke-width="1.3"/>
<line x1="51.80" y1="739.90" x2="55.30" y2="739.90" stroke="#111" stroke-width="1"/>
<text x="48.30" y="742.70" font-size="8.3" text-anchor="end" fill="#333">0</text>
<line x1="51.80" y1="706.35" x2="55.30" y2="706.35" stroke="#111" stroke-width="1"/>
<text x="48.30" y="709.15" font-size="8.3" text-anchor="end" fill="#333">0.5</text>
<line x1="51.80" y1="672.80" x2="55.30" y2="672.80" stroke="#111" stroke-width="1"/>
<text x="48.30" y="675.60" font-size="8.3" text-anchor="end" fill="#333">1</text>
<line x1="65.90" y1="739.90" x2="65.90" y2="742.90" stroke="#111" stroke-width="1"/>
<line x1="81.70" y1="739.90" x2="81.70" y2="742.90" stroke="#111" stroke-width="1"/>
<line x1="97.60" y1="739.90" x2="97.60" y2="742.90" stroke="#111" stroke-width="1"/>
<line x1="113.30" y1="739.90" x2="113.30" y2="742.90" stroke="#111" stroke-width="1"/>
<text x="69.60" y="753.00" font-size="8.6" text-anchor="end" fill="#333" textLength="22.5" lengthAdjust="spacingAndGlyphs" transform="rotate(-45 69.60 753.00)">DMSO</text>
<text x="85.40" y="753.00" font-size="8.6" text-anchor="end" fill="#333" textLength="11" lengthAdjust="spacingAndGlyphs" transform="rotate(-45 85.40 753.00)">CX</text>
<text x="101.30" y="753.00" font-size="8.6" text-anchor="end" fill="#333" textLength="9" lengthAdjust="spacingAndGlyphs" transform="rotate(-45 101.30 753.00)">OI</text>
<text x="117.00" y="753.00" font-size="8.6" text-anchor="end" fill="#333" textLength="20.5" lengthAdjust="spacingAndGlyphs" transform="rotate(-45 117.00 753.00)">CX+OI</text>
<text x="29.80" y="696.20" font-size="8.9" text-anchor="middle" fill="#333" textLength="92.6" lengthAdjust="spacingAndGlyphs" transform="rotate(-90 29.80 696.20)"><tspan font-style="italic">CCNE2</tspan> expression in CEM</text>
<polyline points="89.60,673.40 89.60,664.30 113.20,664.30 113.20,710.60" fill="none" stroke="#333" stroke-width="1.1"/>
<polyline points="81.50,689.00 81.50,673.40 97.60,673.40 97.60,696.00" fill="none" stroke="#333" stroke-width="1.1"/>
<polygon points="81.50,692.00 79.50,688.40 83.50,688.40" fill="#222" stroke="none" stroke-width="1"/>
<polygon points="97.60,699.00 95.60,695.40 99.60,695.40" fill="#222" stroke="none" stroke-width="1"/>
<polygon points="113.20,713.60 111.20,710.00 115.20,710.00" fill="#222" stroke="none" stroke-width="1"/>
<circle cx="99.70" cy="660.1" r="1.05" fill="#222"/>
<circle cx="103.10" cy="660.1" r="1.05" fill="#222"/>
<text x="139.01" y="641.70" font-size="14.2" text-anchor="start" font-weight="bold" fill="#111" textLength="7.28" lengthAdjust="spacingAndGlyphs">L</text>
<rect x="190.20" y="672.80" width="10.40" height="67.10" fill="#f6b704"/>
<line x1="195.40" y1="666.09" x2="195.40" y2="679.51" stroke="#222" stroke-width="1.0"/>
<line x1="193.60" y1="666.09" x2="197.20" y2="666.09" stroke="#222" stroke-width="1.0"/>
<line x1="193.60" y1="679.51" x2="197.20" y2="679.51" stroke="#222" stroke-width="1.0"/>
<circle cx="195.40" cy="668.77" r="1.35" fill="#1a1a1a"/>
<circle cx="193.40" cy="674.81" r="1.35" fill="#1a1a1a"/>
<circle cx="197.40" cy="674.81" r="1.35" fill="#1a1a1a"/>
<rect x="206.00" y="709.03" width="10.40" height="30.87" fill="#2aa4dc"/>
<line x1="211.20" y1="706.35" x2="211.20" y2="711.72" stroke="#222" stroke-width="1.0"/>
<line x1="209.40" y1="706.35" x2="213.00" y2="706.35" stroke="#222" stroke-width="1.0"/>
<line x1="209.40" y1="711.72" x2="213.00" y2="711.72" stroke="#222" stroke-width="1.0"/>
<circle cx="211.20" cy="707.02" r="1.35" fill="#1a1a1a"/>
<circle cx="209.20" cy="709.70" r="1.35" fill="#1a1a1a"/>
<circle cx="213.20" cy="709.70" r="1.35" fill="#1a1a1a"/>
<rect x="221.60" y="710.38" width="10.40" height="29.52" fill="#8f80c4"/>
<line x1="226.80" y1="705.68" x2="226.80" y2="715.07" stroke="#222" stroke-width="1.0"/>
<line x1="225.00" y1="705.68" x2="228.60" y2="705.68" stroke="#222" stroke-width="1.0"/>
<line x1="225.00" y1="715.07" x2="228.60" y2="715.07" stroke="#222" stroke-width="1.0"/>
<circle cx="226.80" cy="707.02" r="1.35" fill="#1a1a1a"/>
<circle cx="224.80" cy="711.72" r="1.35" fill="#1a1a1a"/>
<circle cx="228.80" cy="711.72" r="1.35" fill="#1a1a1a"/>
<rect x="237.20" y="724.47" width="10.40" height="15.43" fill="#c66a18"/>
<line x1="242.40" y1="721.11" x2="242.40" y2="727.82" stroke="#222" stroke-width="1.0"/>
<line x1="240.60" y1="721.11" x2="244.20" y2="721.11" stroke="#222" stroke-width="1.0"/>
<line x1="240.60" y1="727.82" x2="244.20" y2="727.82" stroke="#222" stroke-width="1.0"/>
<circle cx="242.40" cy="721.78" r="1.35" fill="#1a1a1a"/>
<circle cx="240.40" cy="725.14" r="1.35" fill="#1a1a1a"/>
<circle cx="244.40" cy="725.14" r="1.35" fill="#1a1a1a"/>
<line x1="184.70" y1="653.40" x2="184.70" y2="740.50" stroke="#111" stroke-width="1.3"/>
<line x1="184.10" y1="739.90" x2="252.60" y2="739.90" stroke="#111" stroke-width="1.3"/>
<line x1="181.20" y1="739.90" x2="184.70" y2="739.90" stroke="#111" stroke-width="1"/>
<text x="177.70" y="742.70" font-size="8.3" text-anchor="end" fill="#333">0</text>
<line x1="181.20" y1="706.35" x2="184.70" y2="706.35" stroke="#111" stroke-width="1"/>
<text x="177.70" y="709.15" font-size="8.3" text-anchor="end" fill="#333">0.5</text>
<line x1="181.20" y1="672.80" x2="184.70" y2="672.80" stroke="#111" stroke-width="1"/>
<text x="177.70" y="675.60" font-size="8.3" text-anchor="end" fill="#333">1</text>
<line x1="195.40" y1="739.90" x2="195.40" y2="742.90" stroke="#111" stroke-width="1"/>
<line x1="211.20" y1="739.90" x2="211.20" y2="742.90" stroke="#111" stroke-width="1"/>
<line x1="226.80" y1="739.90" x2="226.80" y2="742.90" stroke="#111" stroke-width="1"/>
<line x1="242.40" y1="739.90" x2="242.40" y2="742.90" stroke="#111" stroke-width="1"/>
<text x="199.10" y="753.00" font-size="8.6" text-anchor="end" fill="#333" textLength="22.5" lengthAdjust="spacingAndGlyphs" transform="rotate(-45 199.10 753.00)">DMSO</text>
<text x="214.90" y="753.00" font-size="8.6" text-anchor="end" fill="#333" textLength="11" lengthAdjust="spacingAndGlyphs" transform="rotate(-45 214.90 753.00)">CX</text>
<text x="230.50" y="753.00" font-size="8.6" text-anchor="end" fill="#333" textLength="9" lengthAdjust="spacingAndGlyphs" transform="rotate(-45 230.50 753.00)">OI</text>
<text x="246.10" y="753.00" font-size="8.6" text-anchor="end" fill="#333" textLength="20.5" lengthAdjust="spacingAndGlyphs" transform="rotate(-45 246.10 753.00)">CX+OI</text>
<text x="159.20" y="696.20" font-size="8.9" text-anchor="middle" fill="#333" textLength="92.6" lengthAdjust="spacingAndGlyphs" transform="rotate(-90 159.20 696.20)"><tspan font-style="italic">CDK2</tspan> expression in CEM</text>
<polyline points="218.50,673.40 218.50,664.30 242.30,664.30 242.30,710.60" fill="none" stroke="#333" stroke-width="1.1"/>
<polyline points="211.20,695.60 211.20,673.40 226.80,673.40 226.80,695.60" fill="none" stroke="#333" stroke-width="1.1"/>
<polygon points="211.20,698.60 209.20,695.00 213.20,695.00" fill="#222" stroke="none" stroke-width="1"/>
<polygon points="226.80,698.60 224.80,695.00 228.80,695.00" fill="#222" stroke="none" stroke-width="1"/>
<polygon points="242.30,713.60 240.30,710.00 244.30,710.00" fill="#222" stroke="none" stroke-width="1"/>
<circle cx="228.70" cy="660.1" r="1.05" fill="#222"/>
<circle cx="232.10" cy="660.1" r="1.05" fill="#222"/>
<text x="264.62" y="641.70" font-size="14.2" text-anchor="start" font-weight="bold" fill="#111" textLength="14.79" lengthAdjust="spacingAndGlyphs">M</text>
<rect x="319.30" y="672.80" width="10.40" height="67.10" fill="#f6b704"/>
<line x1="324.50" y1="662.73" x2="324.50" y2="682.87" stroke="#222" stroke-width="1.0"/>
<line x1="322.70" y1="662.73" x2="326.30" y2="662.73" stroke="#222" stroke-width="1.0"/>
<line x1="322.70" y1="682.87" x2="326.30" y2="682.87" stroke="#222" stroke-width="1.0"/>
<circle cx="324.50" cy="664.75" r="1.35" fill="#1a1a1a"/>
<circle cx="322.50" cy="674.81" r="1.35" fill="#1a1a1a"/>
<circle cx="326.50" cy="675.48" r="1.35" fill="#1a1a1a"/>
<rect x="334.70" y="699.64" width="10.40" height="40.26" fill="#2aa4dc"/>
<line x1="339.90" y1="692.93" x2="339.90" y2="706.35" stroke="#222" stroke-width="1.0"/>
<line x1="338.10" y1="692.93" x2="341.70" y2="692.93" stroke="#222" stroke-width="1.0"/>
<line x1="338.10" y1="706.35" x2="341.70" y2="706.35" stroke="#222" stroke-width="1.0"/>
<circle cx="339.90" cy="693.60" r="1.35" fill="#1a1a1a"/>
<circle cx="337.90" cy="702.32" r="1.35" fill="#1a1a1a"/>
<circle cx="341.90" cy="703.00" r="1.35" fill="#1a1a1a"/>
<rect x="350.40" y="702.32" width="10.40" height="37.58" fill="#8f80c4"/>
<line x1="355.60" y1="697.63" x2="355.60" y2="707.02" stroke="#222" stroke-width="1.0"/>
<line x1="353.80" y1="697.63" x2="357.40" y2="697.63" stroke="#222" stroke-width="1.0"/>
<line x1="353.80" y1="707.02" x2="357.40" y2="707.02" stroke="#222" stroke-width="1.0"/>
<circle cx="355.60" cy="698.30" r="1.35" fill="#1a1a1a"/>
<circle cx="353.60" cy="703.67" r="1.35" fill="#1a1a1a"/>
<circle cx="357.60" cy="704.34" r="1.35" fill="#1a1a1a"/>
<rect x="366.10" y="723.80" width="10.40" height="16.10" fill="#c66a18"/>
<line x1="371.30" y1="721.11" x2="371.30" y2="726.48" stroke="#222" stroke-width="1.0"/>
<line x1="369.50" y1="721.11" x2="373.10" y2="721.11" stroke="#222" stroke-width="1.0"/>
<line x1="369.50" y1="726.48" x2="373.10" y2="726.48" stroke="#222" stroke-width="1.0"/>
<circle cx="371.30" cy="721.78" r="1.35" fill="#1a1a1a"/>
<circle cx="369.30" cy="725.14" r="1.35" fill="#1a1a1a"/>
<circle cx="373.30" cy="725.14" r="1.35" fill="#1a1a1a"/>
<line x1="313.90" y1="653.40" x2="313.90" y2="740.50" stroke="#111" stroke-width="1.3"/>
<line x1="313.30" y1="739.90" x2="381.50" y2="739.90" stroke="#111" stroke-width="1.3"/>
<line x1="310.40" y1="739.90" x2="313.90" y2="739.90" stroke="#111" stroke-width="1"/>
<text x="306.90" y="742.70" font-size="8.3" text-anchor="end" fill="#333">0</text>
<line x1="310.40" y1="706.35" x2="313.90" y2="706.35" stroke="#111" stroke-width="1"/>
<text x="306.90" y="709.15" font-size="8.3" text-anchor="end" fill="#333">0.5</text>
<line x1="310.40" y1="672.80" x2="313.90" y2="672.80" stroke="#111" stroke-width="1"/>
<text x="306.90" y="675.60" font-size="8.3" text-anchor="end" fill="#333">1</text>
<line x1="324.50" y1="739.90" x2="324.50" y2="742.90" stroke="#111" stroke-width="1"/>
<line x1="339.90" y1="739.90" x2="339.90" y2="742.90" stroke="#111" stroke-width="1"/>
<line x1="355.60" y1="739.90" x2="355.60" y2="742.90" stroke="#111" stroke-width="1"/>
<line x1="371.30" y1="739.90" x2="371.30" y2="742.90" stroke="#111" stroke-width="1"/>
<text x="328.20" y="753.00" font-size="8.6" text-anchor="end" fill="#333" textLength="22.5" lengthAdjust="spacingAndGlyphs" transform="rotate(-45 328.20 753.00)">DMSO</text>
<text x="343.60" y="753.00" font-size="8.6" text-anchor="end" fill="#333" textLength="11" lengthAdjust="spacingAndGlyphs" transform="rotate(-45 343.60 753.00)">CX</text>
<text x="359.30" y="753.00" font-size="8.6" text-anchor="end" fill="#333" textLength="9" lengthAdjust="spacingAndGlyphs" transform="rotate(-45 359.30 753.00)">OI</text>
<text x="375.00" y="753.00" font-size="8.6" text-anchor="end" fill="#333" textLength="20.5" lengthAdjust="spacingAndGlyphs" transform="rotate(-45 375.00 753.00)">CX+OI</text>
<text x="288.40" y="696.20" font-size="8.9" text-anchor="middle" fill="#333" textLength="92.6" lengthAdjust="spacingAndGlyphs" transform="rotate(-90 288.40 696.20)"><tspan font-style="italic">CCNE2</tspan> expression in MOLT4</text>
<polyline points="348.00,673.40 348.00,664.30 371.80,664.30 371.80,710.60" fill="none" stroke="#333" stroke-width="1.1"/>
<polyline points="340.00,683.40 340.00,673.40 355.70,673.40 355.70,687.30" fill="none" stroke="#333" stroke-width="1.1"/>
<polygon points="340.00,686.40 338.00,682.80 342.00,682.80" fill="#222" stroke="none" stroke-width="1"/>
<polygon points="355.70,690.30 353.70,686.70 357.70,686.70" fill="#222" stroke="none" stroke-width="1"/>
<polygon points="371.80,713.60 369.80,710.00 373.80,710.00" fill="#222" stroke="none" stroke-width="1"/>
<circle cx="358.20" cy="660.1" r="1.05" fill="#222"/>
<circle cx="361.60" cy="660.1" r="1.05" fill="#222"/>
<text x="393.43" y="641.70" font-size="14.2" text-anchor="start" font-weight="bold" fill="#111" textLength="12.71" lengthAdjust="spacingAndGlyphs">N</text>
<rect x="448.60" y="672.80" width="10.40" height="67.10" fill="#f6b704"/>
<line x1="453.80" y1="664.75" x2="453.80" y2="680.85" stroke="#222" stroke-width="1.0"/>
<line x1="452.00" y1="664.75" x2="455.60" y2="664.75" stroke="#222" stroke-width="1.0"/>
<line x1="452.00" y1="680.85" x2="455.60" y2="680.85" stroke="#222" stroke-width="1.0"/>
<circle cx="453.80" cy="664.75" r="1.35" fill="#1a1a1a"/>
<circle cx="451.80" cy="676.15" r="1.35" fill="#1a1a1a"/>
<circle cx="455.80" cy="676.15" r="1.35" fill="#1a1a1a"/>
<rect x="464.20" y="705.01" width="10.40" height="34.89" fill="#2aa4dc"/>
<line x1="469.40" y1="695.61" x2="469.40" y2="714.40" stroke="#222" stroke-width="1.0"/>
<line x1="467.60" y1="695.61" x2="471.20" y2="695.61" stroke="#222" stroke-width="1.0"/>
<line x1="467.60" y1="714.40" x2="471.20" y2="714.40" stroke="#222" stroke-width="1.0"/>
<circle cx="469.40" cy="696.28" r="1.35" fill="#1a1a1a"/>
<circle cx="467.40" cy="708.36" r="1.35" fill="#1a1a1a"/>
<circle cx="471.40" cy="708.36" r="1.35" fill="#1a1a1a"/>
<rect x="479.80" y="704.34" width="10.40" height="35.56" fill="#8f80c4"/>
<line x1="485.00" y1="692.93" x2="485.00" y2="715.74" stroke="#222" stroke-width="1.0"/>
<line x1="483.20" y1="692.93" x2="486.80" y2="692.93" stroke="#222" stroke-width="1.0"/>
<line x1="483.20" y1="715.74" x2="486.80" y2="715.74" stroke="#222" stroke-width="1.0"/>
<circle cx="485.00" cy="692.93" r="1.35" fill="#1a1a1a"/>
<circle cx="483.00" cy="708.36" r="1.35" fill="#1a1a1a"/>
<circle cx="487.00" cy="708.36" r="1.35" fill="#1a1a1a"/>
<rect x="495.30" y="723.80" width="10.40" height="16.10" fill="#c66a18"/>
<line x1="500.50" y1="719.10" x2="500.50" y2="728.49" stroke="#222" stroke-width="1.0"/>
<line x1="498.70" y1="719.10" x2="502.30" y2="719.10" stroke="#222" stroke-width="1.0"/>
<line x1="498.70" y1="728.49" x2="502.30" y2="728.49" stroke="#222" stroke-width="1.0"/>
<circle cx="500.50" cy="719.77" r="1.35" fill="#1a1a1a"/>
<circle cx="498.50" cy="725.14" r="1.35" fill="#1a1a1a"/>
<circle cx="502.50" cy="725.14" r="1.35" fill="#1a1a1a"/>
<line x1="442.60" y1="653.40" x2="442.60" y2="740.50" stroke="#111" stroke-width="1.3"/>
<line x1="442.00" y1="739.90" x2="510.70" y2="739.90" stroke="#111" stroke-width="1.3"/>
<line x1="439.10" y1="739.90" x2="442.60" y2="739.90" stroke="#111" stroke-width="1"/>
<text x="435.60" y="742.70" font-size="8.3" text-anchor="end" fill="#333">0</text>
<line x1="439.10" y1="706.35" x2="442.60" y2="706.35" stroke="#111" stroke-width="1"/>
<text x="435.60" y="709.15" font-size="8.3" text-anchor="end" fill="#333">0.5</text>
<line x1="439.10" y1="672.80" x2="442.60" y2="672.80" stroke="#111" stroke-width="1"/>
<text x="435.60" y="675.60" font-size="8.3" text-anchor="end" fill="#333">1</text>
<line x1="453.80" y1="739.90" x2="453.80" y2="742.90" stroke="#111" stroke-width="1"/>
<line x1="469.40" y1="739.90" x2="469.40" y2="742.90" stroke="#111" stroke-width="1"/>
<line x1="485.00" y1="739.90" x2="485.00" y2="742.90" stroke="#111" stroke-width="1"/>
<line x1="500.50" y1="739.90" x2="500.50" y2="742.90" stroke="#111" stroke-width="1"/>
<text x="457.50" y="753.00" font-size="8.6" text-anchor="end" fill="#333" textLength="22.5" lengthAdjust="spacingAndGlyphs" transform="rotate(-45 457.50 753.00)">DMSO</text>
<text x="473.10" y="753.00" font-size="8.6" text-anchor="end" fill="#333" textLength="11" lengthAdjust="spacingAndGlyphs" transform="rotate(-45 473.10 753.00)">CX</text>
<text x="488.70" y="753.00" font-size="8.6" text-anchor="end" fill="#333" textLength="9" lengthAdjust="spacingAndGlyphs" transform="rotate(-45 488.70 753.00)">OI</text>
<text x="504.20" y="753.00" font-size="8.6" text-anchor="end" fill="#333" textLength="20.5" lengthAdjust="spacingAndGlyphs" transform="rotate(-45 504.20 753.00)">CX+OI</text>
<text x="417.10" y="696.20" font-size="8.9" text-anchor="middle" fill="#333" textLength="92.6" lengthAdjust="spacingAndGlyphs" transform="rotate(-90 417.10 696.20)"><tspan font-style="italic">CDK2</tspan> expression in MOLT4</text>
<polyline points="476.40,673.40 476.40,664.30 500.50,664.30 500.50,710.10" fill="none" stroke="#333" stroke-width="1.1"/>
<polyline points="469.00,687.30 469.00,673.40 485.50,673.40 485.50,687.30" fill="none" stroke="#333" stroke-width="1.1"/>
<polygon points="469.00,690.30 467.00,686.70 471.00,686.70" fill="#222" stroke="none" stroke-width="1"/>
<polygon points="485.50,690.30 483.50,686.70 487.50,686.70" fill="#222" stroke="none" stroke-width="1"/>
<polygon points="500.50,713.10 498.50,709.50 502.50,709.50" fill="#222" stroke="none" stroke-width="1"/>
<circle cx="488.45" cy="660.1" r="1.05" fill="#222"/>
<rect x="0.5" y="0.5" width="519" height="777" fill="none" stroke="#2a2a2a" stroke-width="1"/>
</svg>
</body></html>
